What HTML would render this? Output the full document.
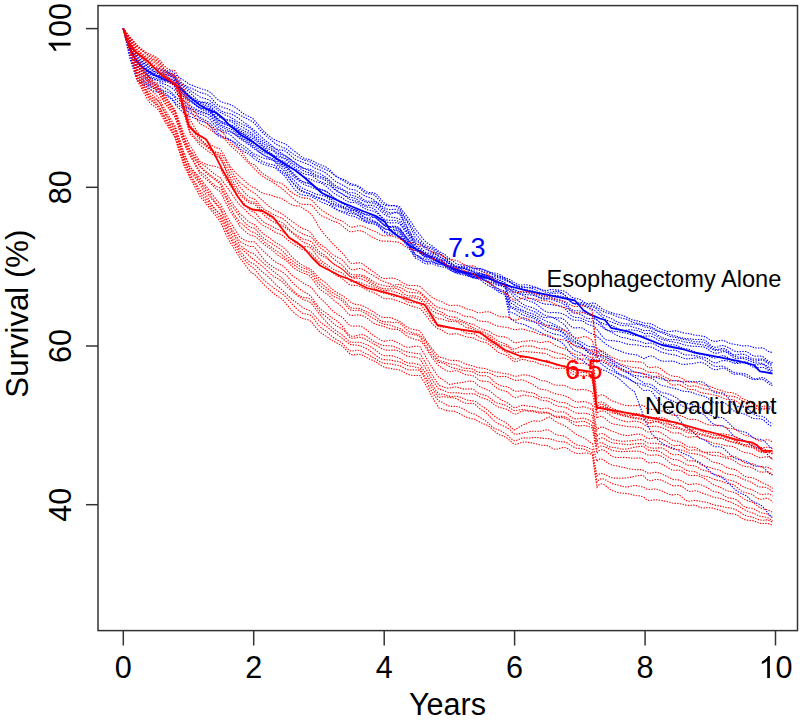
<!DOCTYPE html>
<html><head><meta charset="utf-8"><style>
html,body{margin:0;padding:0;background:#fff;}
svg{display:block;}
text{font-family:"Liberation Sans",sans-serif;font-size:30.6px;fill:#000;}
.d{fill:none;stroke-width:1.1;stroke-dasharray:1.4 1.3;}
.r{stroke:#f00;} .b{stroke:#00f;}
.s{fill:none;stroke-width:1.8;stroke-linejoin:round;}
.ax line{stroke:#333;stroke-width:1.5;}
</style></head><body>
<svg width="800" height="721" viewBox="0 0 800 721">
<rect width="800" height="721" fill="#fff"/>
<g>
<polyline class="d b" points="123.3,28.5 124.0,29.7 126.0,33.3 128.0,36.8 130.0,40.3 132.0,44.5 134.0,48.7 136.0,52.9 137.0,55.0 138.0,55.7 140.0,57.2 142.0,58.9 144.0,60.7 146.0,62.8 148.0,64.8 150.0,66.9 152.0,67.7 154.0,68.1 156.0,68.1 158.0,68.3 160.0,68.8 162.0,69.6 164.0,70.3 166.0,70.7 168.0,70.8 170.0,70.9 172.0,71.4 174.0,72.6 175.0,73.9 176.0,75.2 178.0,76.8 180.0,78.1 182.0,79.3 184.0,80.5 186.0,81.8 188.0,83.2 190.0,84.4 192.0,85.2 194.0,86.0 196.0,86.9 198.0,87.6 200.0,88.3 202.0,89.0 204.0,89.5 206.0,90.1 208.0,91.0 210.0,92.2 212.0,93.9 214.0,95.9 216.0,97.9 218.0,99.7 220.0,101.1 222.0,102.1 224.0,102.9 226.0,103.4 228.0,103.9 230.0,104.5 232.0,105.4 234.0,106.5 236.0,107.9 238.0,109.4 240.0,111.1 242.0,112.7 244.0,113.9 246.0,115.0 248.0,116.0 250.0,117.0 252.0,118.2 253.0,118.8 254.0,119.9 256.0,122.1 258.0,124.4 260.0,126.9 262.0,129.2 264.0,131.3 266.0,133.4 268.0,135.1 270.0,136.6 272.0,138.0 274.0,139.3 275.0,139.9 276.0,140.3 278.0,141.2 280.0,142.1 282.0,142.7 284.0,143.4 286.0,144.4 288.0,145.9 290.0,147.6 292.0,149.4 294.0,150.9 296.0,152.3 298.0,153.8 300.0,155.4 302.0,156.9 304.0,158.2 306.0,159.0 308.0,159.3 310.0,159.7 312.0,160.5 314.0,161.6 316.0,162.8 318.0,163.8 320.0,164.6 322.0,165.4 324.0,166.2 326.0,167.1 328.0,168.5 330.0,170.2 332.0,172.3 334.0,174.4 336.0,176.1 338.0,177.2 340.0,178.1 342.0,178.9 344.0,179.6 346.0,180.7 348.0,182.0 350.0,183.2 352.0,184.0 354.0,184.5 356.0,185.0 358.0,185.9 360.0,187.0 362.0,188.5 364.0,190.2 366.0,191.7 368.0,192.5 370.0,192.6 372.0,192.6 374.0,192.9 376.0,193.9 378.0,195.8 380.0,198.2 382.0,200.6 384.0,202.7 386.0,204.1 388.0,205.0 390.0,205.5 392.0,205.6 394.0,205.5 396.0,205.6 398.0,206.0 400.0,207.0 402.0,209.9 404.0,212.7 406.0,215.2 408.0,217.8 410.0,220.5 412.0,223.4 414.0,226.6 415.0,228.5 416.0,230.0 418.0,232.4 420.0,234.9 422.0,237.5 424.0,240.0 426.0,242.1 428.0,243.6 430.0,244.7 432.0,245.8 434.0,247.4 436.0,249.0 438.0,250.6 440.0,251.9 442.0,253.0 444.0,254.0 446.0,255.4 448.0,257.5 450.0,258.8 452.0,260.4 454.0,262.0 456.0,263.4 458.0,264.2 460.0,264.7 462.0,264.9 464.0,265.1 466.0,265.5 468.0,266.1 470.0,266.8 472.0,267.5 474.0,268.1 476.0,268.4 478.0,268.5 480.0,268.8 482.0,269.3 484.0,270.1 486.0,270.9 488.0,271.6 490.0,272.3 492.0,272.7 494.0,273.0 496.0,273.4 498.0,274.0 500.0,274.8 502.0,276.0 504.0,277.2 505.0,277.8 506.0,278.1 508.0,278.8 510.0,279.7 512.0,280.9 514.0,282.4 516.0,283.6 518.0,284.5 520.0,285.0 522.0,285.0 524.0,284.8 526.0,284.8 528.0,285.1 530.0,285.6 532.0,286.1 534.0,286.7 536.0,287.5 538.0,288.3 540.0,289.1 542.0,289.9 544.0,290.4 546.0,290.5 548.0,290.2 550.0,289.6 552.0,289.5 554.0,289.7 556.0,289.9 558.0,290.1 560.0,290.2 562.0,290.5 564.0,291.1 566.0,292.2 568.0,293.8 570.0,295.7 572.0,297.2 574.0,298.1 576.0,298.5 578.0,298.9 580.0,299.6 582.0,300.8 584.0,302.1 586.0,303.1 588.0,303.5 590.0,303.4 592.0,303.1 594.0,303.1 596.0,303.9 598.0,305.4 600.0,307.0 602.0,308.6 604.0,309.8 606.0,310.7 608.0,311.6 610.0,312.2 612.0,312.8 614.0,313.5 616.0,314.0 618.0,314.4 620.0,314.7 622.0,315.2 624.0,316.0 626.0,316.8 628.0,317.8 630.0,318.9 632.0,319.7 634.0,320.2 636.0,320.5 638.0,321.0 640.0,321.7 642.0,322.4 644.0,323.1 645.0,323.3 646.0,323.2 648.0,323.3 650.0,323.6 652.0,324.3 654.0,325.3 656.0,326.4 658.0,327.5 660.0,328.5 662.0,329.5 664.0,330.3 666.0,331.0 668.0,331.5 670.0,331.5 672.0,331.1 674.0,330.9 676.0,330.9 678.0,331.2 680.0,331.9 682.0,332.5 684.0,333.0 686.0,333.3 688.0,333.5 690.0,333.8 692.0,334.4 694.0,334.9 696.0,335.2 698.0,335.4 700.0,335.8 702.0,336.1 704.0,336.4 706.0,337.2 708.0,338.5 710.0,339.8 712.0,340.8 714.0,341.3 716.0,341.4 718.0,341.0 720.0,340.5 722.0,340.2 724.0,340.7 726.0,341.6 728.0,342.5 730.0,343.3 732.0,343.9 734.0,344.3 736.0,344.5 738.0,344.9 740.0,345.3 742.0,345.9 744.0,346.0 746.0,345.8 748.0,345.8 750.0,346.2 752.0,346.9 754.0,347.5 756.0,347.9 758.0,348.0 760.0,347.9 762.0,347.9 764.0,348.5 766.0,349.8 768.0,351.2 770.0,352.1 772.0,352.4 772.5,352.1"/>
<polyline class="d b" points="123.3,28.5 124.0,29.8 126.0,33.6 128.0,37.3 130.0,41.0 132.0,45.2 134.0,49.5 136.0,53.9 137.0,56.2 138.0,57.3 140.0,59.2 142.0,61.1 144.0,63.0 146.0,64.9 148.0,66.8 150.0,68.5 152.0,69.3 154.0,69.7 156.0,69.8 158.0,69.9 160.0,70.1 162.0,70.6 164.0,71.2 166.0,71.7 168.0,72.3 170.0,73.0 172.0,73.8 174.0,75.1 175.0,76.3 176.0,77.8 178.0,79.8 180.0,81.7 182.0,83.3 184.0,84.6 186.0,85.8 188.0,86.9 190.0,87.8 192.0,88.5 194.0,89.4 196.0,90.5 198.0,91.5 200.0,92.4 202.0,93.0 204.0,93.5 206.0,94.0 208.0,95.0 210.0,96.6 212.0,98.7 214.0,101.2 216.0,103.4 218.0,105.2 220.0,106.4 222.0,107.1 224.0,107.8 226.0,108.3 228.0,109.0 230.0,109.9 232.0,110.9 234.0,111.9 236.0,113.0 238.0,114.0 240.0,115.1 242.0,116.2 244.0,117.2 246.0,118.2 248.0,119.3 250.0,120.3 252.0,121.4 253.0,122.0 254.0,123.0 256.0,125.1 258.0,127.5 260.0,129.9 262.0,132.0 264.0,134.0 266.0,135.9 268.0,137.6 270.0,139.2 272.0,140.8 274.0,142.5 275.0,143.5 276.0,144.1 278.0,145.2 280.0,146.3 282.0,147.1 284.0,147.7 286.0,148.7 288.0,150.1 290.0,151.7 292.0,153.2 294.0,154.6 296.0,155.9 298.0,157.1 300.0,158.1 302.0,159.1 304.0,160.0 306.0,160.6 308.0,161.0 310.0,161.8 312.0,163.0 314.0,164.3 316.0,165.3 318.0,166.2 320.0,167.0 322.0,167.9 324.0,168.8 326.0,169.7 328.0,170.6 330.0,171.8 332.0,173.2 334.0,174.8 336.0,176.3 338.0,177.5 340.0,178.7 342.0,179.9 344.0,181.1 346.0,182.5 348.0,183.9 350.0,184.9 352.0,185.3 354.0,185.4 356.0,185.9 358.0,187.1 360.0,188.6 362.0,190.3 364.0,192.1 366.0,193.4 368.0,193.8 370.0,193.9 372.0,194.1 374.0,195.0 376.0,196.6 378.0,198.8 380.0,201.2 382.0,203.4 384.0,204.9 386.0,205.6 388.0,205.8 390.0,205.8 392.0,205.6 394.0,205.7 396.0,206.3 398.0,207.5 400.0,209.0 402.0,212.4 404.0,215.6 406.0,218.6 408.0,221.4 410.0,224.4 412.0,227.5 414.0,230.8 415.0,232.8 416.0,234.3 418.0,236.6 420.0,239.2 422.0,241.8 424.0,243.9 426.0,245.4 428.0,246.5 430.0,247.1 432.0,247.7 434.0,248.9 436.0,250.4 438.0,252.0 440.0,253.6 442.0,255.0 444.0,256.8 446.0,258.7 448.0,261.0 450.0,262.4 452.0,263.8 454.0,265.0 456.0,265.8 458.0,266.3 460.0,266.5 462.0,266.6 464.0,266.7 466.0,267.0 468.0,267.4 470.0,267.8 472.0,268.1 474.0,268.4 476.0,268.4 478.0,268.4 480.0,268.6 482.0,269.0 484.0,269.7 486.0,270.5 488.0,271.3 490.0,272.4 492.0,273.5 494.0,274.7 496.0,275.7 498.0,276.6 500.0,277.2 502.0,278.0 504.0,278.8 505.0,279.3 506.0,279.8 508.0,280.6 510.0,281.6 512.0,282.8 514.0,284.2 516.0,285.3 518.0,286.2 520.0,286.9 522.0,287.3 524.0,287.5 526.0,287.7 528.0,287.8 530.0,287.7 532.0,287.5 534.0,287.5 536.0,287.8 538.0,288.5 540.0,289.5 542.0,290.6 544.0,291.5 546.0,292.2 548.0,292.4 550.0,292.2 552.0,291.9 554.0,291.6 556.0,291.3 558.0,291.4 560.0,291.9 562.0,292.8 564.0,294.4 566.0,296.5 568.0,298.7 570.0,300.9 572.0,302.6 574.0,303.4 576.0,303.4 578.0,303.0 580.0,302.6 582.0,302.7 584.0,303.3 586.0,304.1 588.0,304.7 590.0,305.2 592.0,305.4 594.0,305.9 596.0,306.8 598.0,308.0 600.0,309.5 602.0,310.8 604.0,311.9 606.0,312.7 608.0,313.3 610.0,313.7 612.0,314.3 614.0,315.2 616.0,316.1 618.0,316.9 620.0,317.5 622.0,318.2 624.0,318.6 626.0,319.1 628.0,319.9 630.0,320.9 632.0,321.9 634.0,322.6 636.0,323.1 638.0,323.6 640.0,324.0 642.0,324.5 644.0,325.2 645.0,325.5 646.0,325.6 648.0,325.9 650.0,326.4 652.0,327.3 654.0,328.5 656.0,329.7 658.0,330.7 660.0,331.4 662.0,331.9 664.0,332.4 666.0,333.0 668.0,333.9 670.0,334.6 672.0,335.2 674.0,335.7 676.0,336.2 678.0,336.8 680.0,337.4 682.0,337.9 684.0,338.4 686.0,338.6 688.0,338.7 690.0,338.8 692.0,339.1 694.0,339.4 696.0,339.5 698.0,339.5 700.0,339.5 702.0,339.5 704.0,339.9 706.0,340.9 708.0,342.7 710.0,344.6 712.0,346.2 714.0,347.2 716.0,347.4 718.0,346.8 720.0,346.0 722.0,345.5 724.0,345.7 726.0,346.5 728.0,347.5 730.0,348.6 732.0,349.8 734.0,350.8 736.0,351.5 738.0,351.7 740.0,351.7 742.0,351.6 744.0,351.4 746.0,351.5 748.0,352.4 750.0,353.8 752.0,355.2 754.0,356.0 756.0,356.2 758.0,356.1 760.0,356.0 762.0,356.3 764.0,357.4 766.0,359.1 768.0,360.9 770.0,362.0 772.0,362.4 772.5,361.9"/>
<polyline class="d b" points="123.3,28.5 124.0,29.9 126.0,34.1 128.0,38.1 130.0,42.0 132.0,46.3 134.0,50.8 136.0,55.4 137.0,57.8 138.0,58.8 140.0,60.6 142.0,62.1 144.0,63.6 146.0,65.3 148.0,67.1 150.0,69.1 152.0,70.3 154.0,71.4 156.0,72.0 158.0,72.2 160.0,72.2 162.0,72.2 164.0,72.4 166.0,72.9 168.0,73.5 170.0,74.2 172.0,75.1 174.0,76.4 175.0,77.7 176.0,79.3 178.0,81.4 180.0,83.1 182.0,84.4 184.0,85.6 186.0,87.1 188.0,88.7 190.0,90.3 192.0,91.7 194.0,93.0 196.0,94.3 198.0,95.6 200.0,96.9 202.0,97.7 204.0,98.2 206.0,98.7 208.0,99.5 210.0,100.7 212.0,102.4 214.0,104.3 216.0,106.3 218.0,108.3 220.0,109.9 222.0,111.2 224.0,112.2 226.0,112.9 228.0,113.3 230.0,113.8 232.0,114.4 234.0,115.4 236.0,116.5 238.0,117.9 240.0,119.4 242.0,120.9 244.0,122.4 246.0,123.8 248.0,125.3 250.0,126.9 252.0,128.5 253.0,129.3 254.0,130.2 256.0,131.8 258.0,133.6 260.0,135.6 262.0,137.5 264.0,139.3 266.0,141.0 268.0,142.5 270.0,144.0 272.0,145.6 274.0,147.4 275.0,148.4 276.0,148.9 278.0,149.5 280.0,149.9 282.0,150.1 284.0,150.5 286.0,151.5 288.0,153.1 290.0,154.9 292.0,156.7 294.0,158.4 296.0,159.7 298.0,160.6 300.0,161.3 302.0,162.1 304.0,162.9 306.0,163.6 308.0,164.3 310.0,165.2 312.0,166.4 314.0,167.6 316.0,168.6 318.0,169.3 320.0,170.0 322.0,170.8 324.0,171.9 326.0,173.2 328.0,174.8 330.0,176.5 332.0,178.4 334.0,180.2 336.0,181.7 338.0,182.8 340.0,183.8 342.0,184.8 344.0,185.9 346.0,187.1 348.0,188.3 350.0,189.2 352.0,189.5 354.0,189.7 356.0,190.3 358.0,191.4 360.0,192.8 362.0,194.1 364.0,195.3 366.0,196.4 368.0,197.1 370.0,197.8 372.0,198.8 374.0,200.0 376.0,201.4 378.0,202.9 380.0,204.6 382.0,206.3 384.0,207.7 386.0,208.7 388.0,209.4 390.0,209.6 392.0,209.5 394.0,209.3 396.0,209.4 398.0,209.9 400.0,210.9 402.0,214.2 404.0,217.4 406.0,220.3 408.0,223.3 410.0,226.7 412.0,230.5 414.0,234.5 415.0,237.0 416.0,238.5 418.0,240.4 420.0,242.3 422.0,244.3 424.0,246.0 426.0,247.3 428.0,248.1 430.0,248.6 432.0,249.3 434.0,250.8 436.0,252.4 438.0,253.8 440.0,254.7 442.0,255.5 444.0,256.5 446.0,258.1 448.0,260.3 450.0,261.8 452.0,263.6 454.0,265.3 456.0,266.6 458.0,267.4 460.0,267.8 462.0,268.1 464.0,268.4 466.0,269.0 468.0,269.7 470.0,270.1 472.0,270.2 474.0,270.0 476.0,269.7 478.0,269.7 480.0,270.2 482.0,271.1 484.0,271.9 486.0,272.5 488.0,272.9 490.0,273.4 492.0,274.0 494.0,274.7 496.0,275.3 498.0,275.8 500.0,276.3 502.0,277.1 504.0,278.0 505.0,278.7 506.0,279.3 508.0,280.6 510.0,282.0 512.0,283.5 514.0,284.9 516.0,285.8 518.0,286.3 520.0,286.6 522.0,286.7 524.0,286.9 526.0,287.2 528.0,287.6 530.0,288.0 532.0,288.4 534.0,289.0 536.0,290.0 538.0,291.3 540.0,292.6 542.0,293.6 544.0,294.2 546.0,294.4 548.0,294.2 550.0,293.7 552.0,293.4 554.0,293.2 556.0,293.1 558.0,293.0 560.0,293.1 562.0,293.6 564.0,294.5 566.0,296.0 568.0,298.2 570.0,300.7 572.0,302.7 574.0,303.8 576.0,304.1 578.0,304.0 580.0,303.9 582.0,304.1 584.0,304.8 586.0,305.8 588.0,306.4 590.0,306.6 592.0,306.8 594.0,307.3 596.0,308.5 598.0,310.2 600.0,312.2 602.0,314.1 604.0,315.4 606.0,316.4 608.0,317.2 610.0,318.0 612.0,318.9 614.0,320.1 616.0,321.2 618.0,322.1 620.0,322.8 622.0,323.3 624.0,323.7 626.0,323.9 628.0,324.0 630.0,324.0 632.0,324.2 634.0,324.2 636.0,324.2 638.0,324.4 640.0,324.9 642.0,325.6 644.0,326.5 645.0,327.1 646.0,327.3 648.0,327.7 650.0,328.1 652.0,328.6 654.0,329.5 656.0,330.5 658.0,331.3 660.0,332.1 662.0,332.8 664.0,333.7 666.0,334.7 668.0,335.6 670.0,336.4 672.0,336.8 674.0,337.1 676.0,337.5 678.0,337.9 680.0,338.4 682.0,339.0 684.0,339.5 686.0,339.8 688.0,340.0 690.0,340.5 692.0,341.0 694.0,341.6 696.0,341.8 698.0,341.8 700.0,341.9 702.0,342.0 704.0,342.4 706.0,343.3 708.0,344.8 710.0,346.5 712.0,348.0 714.0,349.0 716.0,349.5 718.0,349.5 720.0,348.9 722.0,348.4 724.0,348.6 726.0,349.6 728.0,350.9 730.0,352.5 732.0,354.1 734.0,355.0 736.0,355.0 738.0,354.5 740.0,354.1 742.0,354.1 744.0,354.4 746.0,355.1 748.0,356.2 750.0,357.6 752.0,358.5 754.0,359.1 756.0,359.2 758.0,359.1 760.0,358.9 762.0,359.0 764.0,359.7 766.0,361.0 768.0,362.4 770.0,363.4 772.0,364.0 772.5,363.8"/>
<polyline class="d b" points="123.3,28.5 124.0,30.0 126.0,34.4 128.0,38.7 130.0,43.0 132.0,47.6 134.0,52.2 136.0,56.9 137.0,59.2 138.0,60.1 140.0,61.7 142.0,63.5 144.0,65.4 146.0,67.5 148.0,69.5 150.0,71.2 152.0,71.7 154.0,71.9 156.0,72.1 158.0,72.4 160.0,73.0 162.0,73.5 164.0,74.1 166.0,74.6 168.0,75.0 170.0,75.6 172.0,76.6 174.0,77.9 175.0,79.0 176.0,80.4 178.0,82.4 180.0,84.2 182.0,85.8 184.0,87.4 186.0,89.1 188.0,91.0 190.0,92.8 192.0,94.6 194.0,96.5 196.0,98.5 198.0,100.3 200.0,101.6 202.0,102.1 204.0,102.2 206.0,102.3 208.0,102.7 210.0,103.6 212.0,105.1 214.0,106.9 216.0,108.7 218.0,110.4 220.0,112.0 222.0,113.3 224.0,114.4 226.0,115.3 228.0,116.2 230.0,117.1 232.0,118.2 234.0,119.3 236.0,120.5 238.0,121.8 240.0,123.0 242.0,124.1 244.0,125.1 246.0,126.0 248.0,127.1 250.0,128.4 252.0,129.9 253.0,131.0 254.0,132.4 256.0,134.5 258.0,136.6 260.0,138.6 262.0,140.3 264.0,142.0 266.0,143.5 268.0,144.8 270.0,145.9 272.0,146.9 274.0,148.1 275.0,148.7 276.0,149.3 278.0,150.7 280.0,152.2 282.0,153.6 284.0,154.8 286.0,156.2 288.0,157.7 290.0,159.0 292.0,160.4 294.0,161.8 296.0,163.2 298.0,164.8 300.0,166.3 302.0,167.6 304.0,168.4 306.0,168.8 308.0,169.0 310.0,169.4 312.0,170.2 314.0,171.3 316.0,172.2 318.0,173.0 320.0,173.8 322.0,174.9 324.0,176.1 326.0,177.5 328.0,178.9 330.0,180.7 332.0,182.6 334.0,184.5 336.0,185.9 338.0,187.0 340.0,187.9 342.0,188.9 344.0,190.0 346.0,191.2 348.0,192.2 350.0,192.8 352.0,192.8 354.0,192.8 356.0,193.5 358.0,194.9 360.0,196.6 362.0,198.2 364.0,199.7 366.0,200.8 368.0,201.2 370.0,201.2 372.0,201.3 374.0,201.6 376.0,202.5 378.0,203.8 380.0,205.7 382.0,207.7 384.0,209.6 386.0,211.2 388.0,212.3 390.0,212.9 392.0,212.8 394.0,212.3 396.0,212.1 398.0,212.3 400.0,213.3 402.0,217.0 404.0,220.7 406.0,224.4 408.0,228.0 410.0,231.7 412.0,235.5 414.0,239.0 415.0,240.6 416.0,241.0 418.0,241.9 420.0,243.4 422.0,245.5 424.0,247.6 426.0,249.4 428.0,250.6 430.0,251.1 432.0,251.6 434.0,252.8 436.0,254.1 438.0,255.6 440.0,256.9 442.0,258.0 444.0,259.2 446.0,260.7 448.0,262.7 450.0,263.9 452.0,265.3 454.0,266.4 456.0,267.0 458.0,267.3 460.0,267.2 462.0,267.0 464.0,267.2 466.0,267.7 468.0,268.7 470.0,269.7 472.0,270.8 474.0,271.6 476.0,272.0 478.0,272.3 480.0,272.8 482.0,273.4 484.0,274.2 486.0,274.9 488.0,275.5 490.0,276.0 492.0,276.3 494.0,276.6 496.0,277.0 498.0,277.5 500.0,278.0 502.0,279.0 504.0,280.0 505.0,280.5 506.0,280.8 508.0,281.6 510.0,282.5 512.0,283.6 514.0,284.9 516.0,285.9 518.0,287.1 520.0,288.1 522.0,288.8 524.0,289.3 526.0,289.7 528.0,290.0 530.0,290.3 532.0,290.7 534.0,291.3 536.0,292.3 538.0,293.5 540.0,294.9 542.0,295.9 544.0,296.6 546.0,296.9 548.0,296.6 550.0,296.0 552.0,295.6 554.0,295.5 556.0,295.5 558.0,295.7 560.0,296.0 562.0,296.4 564.0,297.2 566.0,298.3 568.0,299.8 570.0,301.4 572.0,302.8 574.0,303.5 576.0,303.8 578.0,303.9 580.0,304.2 582.0,305.0 584.0,305.9 586.0,306.9 588.0,307.7 590.0,308.3 592.0,309.1 594.0,310.2 596.0,311.5 598.0,313.2 600.0,315.0 602.0,316.7 604.0,318.3 606.0,319.8 608.0,320.8 610.0,321.5 612.0,322.2 614.0,322.9 616.0,323.7 618.0,324.4 620.0,325.0 622.0,325.5 624.0,325.7 626.0,325.7 628.0,325.8 630.0,326.1 632.0,326.7 634.0,327.3 636.0,327.9 638.0,328.6 640.0,329.3 642.0,329.9 644.0,330.6 645.0,330.8 646.0,330.5 648.0,330.5 650.0,330.6 652.0,331.2 654.0,332.3 656.0,333.7 658.0,335.2 660.0,336.5 662.0,337.5 664.0,338.2 666.0,338.9 668.0,339.4 670.0,339.7 672.0,339.7 674.0,339.6 676.0,339.7 678.0,340.1 680.0,340.6 682.0,341.2 684.0,341.8 686.0,342.2 688.0,342.5 690.0,342.8 692.0,343.2 694.0,343.5 696.0,343.9 698.0,344.1 700.0,344.4 702.0,344.7 704.0,345.0 706.0,345.7 708.0,346.8 710.0,348.0 712.0,349.1 714.0,350.0 716.0,350.4 718.0,350.3 720.0,350.0 722.0,349.9 724.0,350.3 726.0,351.0 728.0,351.9 730.0,353.2 732.0,354.6 734.0,355.7 736.0,356.5 738.0,357.0 740.0,357.1 742.0,357.2 744.0,357.3 746.0,357.5 748.0,358.2 750.0,359.2 752.0,360.2 754.0,360.9 756.0,361.0 758.0,360.6 760.0,360.2 762.0,360.0 764.0,360.7 766.0,362.1 768.0,363.8 770.0,365.0 772.0,365.5 772.5,365.2"/>
<polyline class="d b" points="123.3,28.5 124.0,30.1 126.0,34.8 128.0,39.3 130.0,43.8 132.0,48.3 134.0,52.7 136.0,57.3 137.0,59.8 138.0,60.8 140.0,62.7 142.0,64.7 144.0,66.7 146.0,68.8 148.0,70.7 150.0,72.5 152.0,73.2 154.0,73.5 156.0,73.5 158.0,73.5 160.0,73.7 162.0,73.9 164.0,74.4 166.0,75.1 168.0,75.8 170.0,76.5 172.0,77.4 174.0,78.6 175.0,79.7 176.0,81.3 178.0,83.8 180.0,86.1 182.0,88.2 184.0,90.2 186.0,92.2 188.0,94.2 190.0,95.9 192.0,97.5 194.0,99.0 196.0,100.4 198.0,101.4 200.0,102.3 202.0,102.5 204.0,102.8 206.0,103.2 208.0,104.1 210.0,105.6 212.0,107.7 214.0,110.0 216.0,112.2 218.0,114.4 220.0,116.3 222.0,117.7 224.0,118.9 226.0,119.5 228.0,119.8 230.0,120.0 232.0,120.5 234.0,121.4 236.0,122.7 238.0,124.1 240.0,125.5 242.0,126.8 244.0,128.0 246.0,129.2 248.0,130.5 250.0,132.0 252.0,133.6 253.0,134.6 254.0,135.7 256.0,137.5 258.0,139.3 260.0,141.0 262.0,142.7 264.0,144.2 266.0,145.5 268.0,146.7 270.0,147.8 272.0,149.0 274.0,150.4 275.0,151.3 276.0,152.0 278.0,153.1 280.0,154.0 282.0,154.7 284.0,155.3 286.0,156.3 288.0,157.7 290.0,159.3 292.0,160.9 294.0,162.3 296.0,163.8 298.0,165.1 300.0,166.3 302.0,167.3 304.0,168.4 306.0,169.3 308.0,170.1 310.0,171.1 312.0,172.5 314.0,173.9 316.0,175.1 318.0,175.8 320.0,176.4 322.0,177.1 324.0,177.9 326.0,178.9 328.0,180.4 330.0,182.3 332.0,184.3 334.0,186.1 336.0,187.5 338.0,188.4 340.0,189.2 342.0,190.0 344.0,191.0 346.0,192.4 348.0,193.8 350.0,194.9 352.0,195.4 354.0,195.8 356.0,196.4 358.0,197.5 360.0,198.8 362.0,200.2 364.0,201.4 366.0,202.3 368.0,202.6 370.0,202.7 372.0,202.9 374.0,203.3 376.0,204.2 378.0,205.7 380.0,207.6 382.0,209.7 384.0,211.8 386.0,213.4 388.0,214.3 390.0,214.3 392.0,213.6 394.0,212.9 396.0,212.6 398.0,213.1 400.0,214.6 402.0,218.7 404.0,222.6 406.0,226.3 408.0,229.9 410.0,233.5 412.0,237.0 414.0,240.5 415.0,242.4 416.0,243.2 418.0,244.6 420.0,246.6 422.0,248.9 424.0,251.1 426.0,252.5 428.0,253.1 430.0,253.0 432.0,252.9 434.0,253.7 436.0,254.7 438.0,256.0 440.0,257.1 442.0,258.1 444.0,259.3 446.0,260.8 448.0,262.6 450.0,263.7 452.0,264.9 454.0,266.0 456.0,266.9 458.0,267.4 460.0,267.6 462.0,267.9 464.0,268.3 466.0,268.9 468.0,269.8 470.0,270.7 472.0,271.6 474.0,272.4 476.0,272.9 478.0,273.4 480.0,273.9 482.0,274.4 484.0,274.8 486.0,275.2 488.0,275.6 490.0,276.3 492.0,277.1 494.0,277.9 496.0,278.6 498.0,279.4 500.0,280.0 502.0,281.1 504.0,282.3 505.0,283.0 506.0,283.8 508.0,285.0 510.0,286.2 512.0,287.8 514.0,289.5 516.0,290.3 518.0,291.2 520.0,291.9 522.0,292.3 524.0,292.5 526.0,292.6 528.0,292.8 530.0,293.1 532.0,293.6 534.0,294.5 536.0,295.7 538.0,297.0 540.0,298.2 542.0,299.0 544.0,299.2 546.0,298.9 548.0,298.4 550.0,297.8 552.0,297.9 554.0,298.3 556.0,298.9 558.0,299.5 560.0,300.1 562.0,300.7 564.0,301.9 566.0,303.7 568.0,305.8 570.0,308.1 572.0,309.8 574.0,310.7 576.0,310.8 578.0,310.7 580.0,311.0 582.0,311.7 584.0,312.8 586.0,313.7 588.0,314.5 590.0,315.1 592.0,316.0 594.0,317.3 596.0,318.9 598.0,320.6 600.0,322.0 602.0,323.0 604.0,323.9 606.0,324.7 608.0,324.9 610.0,325.1 612.0,325.6 614.0,326.5 616.0,327.8 618.0,329.1 620.0,330.1 622.0,330.7 624.0,330.7 626.0,330.3 628.0,329.9 630.0,329.8 632.0,330.0 634.0,330.2 636.0,330.3 638.0,330.8 640.0,331.5 642.0,332.3 644.0,333.2 645.0,333.7 646.0,333.6 648.0,333.4 650.0,333.3 652.0,333.7 654.0,334.6 656.0,335.9 658.0,337.3 660.0,338.6 662.0,339.4 664.0,339.9 666.0,340.4 668.0,340.9 670.0,341.4 672.0,341.7 674.0,342.1 676.0,342.5 678.0,342.9 680.0,343.5 682.0,344.1 684.0,344.8 686.0,345.3 688.0,345.7 690.0,345.9 692.0,346.2 694.0,346.3 696.0,346.4 698.0,346.5 700.0,346.7 702.0,346.8 704.0,347.1 706.0,347.9 708.0,349.3 710.0,350.8 712.0,352.1 714.0,352.9 716.0,353.2 718.0,353.0 720.0,352.3 722.0,351.7 724.0,351.6 726.0,352.2 728.0,353.3 730.0,354.8 732.0,356.5 734.0,357.8 736.0,358.5 738.0,358.6 740.0,358.5 742.0,358.5 744.0,358.8 746.0,359.2 748.0,360.0 750.0,361.1 752.0,362.0 754.0,362.6 756.0,362.9 758.0,363.0 760.0,363.1 762.0,363.4 764.0,364.1 766.0,365.4 768.0,366.7 770.0,367.6 772.0,367.9 772.5,367.6"/>
<polyline class="d b" points="123.3,28.5 124.0,30.3 126.0,35.2 128.0,40.1 130.0,44.9 132.0,49.4 134.0,53.9 136.0,58.5 137.0,61.1 138.0,62.3 140.0,64.4 142.0,66.4 144.0,68.4 146.0,70.2 148.0,71.8 150.0,73.4 152.0,74.2 154.0,74.7 156.0,75.0 158.0,75.2 160.0,75.4 162.0,75.7 164.0,76.1 166.0,76.7 168.0,77.6 170.0,78.5 172.0,79.4 174.0,80.4 175.0,80.9 176.0,81.8 178.0,83.7 180.0,85.9 182.0,88.3 184.0,90.7 186.0,93.2 188.0,95.4 190.0,97.0 192.0,98.3 194.0,99.5 196.0,100.7 198.0,102.0 200.0,103.1 202.0,103.9 204.0,104.5 206.0,105.2 208.0,106.1 210.0,107.5 212.0,109.4 214.0,111.6 216.0,113.8 218.0,115.8 220.0,117.5 222.0,118.6 224.0,119.4 226.0,119.9 228.0,120.3 230.0,121.0 232.0,122.0 234.0,123.5 236.0,125.2 238.0,127.0 240.0,128.5 242.0,129.8 244.0,130.9 246.0,131.9 248.0,133.0 250.0,134.2 252.0,135.7 253.0,136.6 254.0,137.5 256.0,139.3 258.0,141.2 260.0,143.2 262.0,144.9 264.0,146.4 266.0,147.7 268.0,148.8 270.0,149.6 272.0,150.4 274.0,151.5 275.0,152.4 276.0,153.4 278.0,154.8 280.0,156.1 282.0,156.9 284.0,157.4 286.0,158.4 288.0,159.8 290.0,161.4 292.0,163.0 294.0,164.5 296.0,165.9 298.0,167.3 300.0,168.6 302.0,169.9 304.0,171.1 306.0,171.9 308.0,172.4 310.0,173.1 312.0,174.1 314.0,175.4 316.0,176.4 318.0,177.1 320.0,177.9 322.0,178.7 324.0,179.6 326.0,180.8 328.0,182.4 330.0,184.2 332.0,186.3 334.0,188.2 336.0,189.9 338.0,191.2 340.0,192.4 342.0,193.6 344.0,194.9 346.0,196.0 348.0,196.9 350.0,197.5 352.0,197.6 354.0,197.9 356.0,198.7 358.0,200.2 360.0,201.9 362.0,203.4 364.0,204.6 366.0,205.3 368.0,205.4 370.0,205.3 372.0,205.4 374.0,205.9 376.0,207.0 378.0,208.6 380.0,210.4 382.0,212.4 384.0,214.2 386.0,215.5 388.0,216.5 390.0,217.0 392.0,217.3 394.0,217.5 396.0,217.8 398.0,218.5 400.0,219.5 402.0,222.7 404.0,225.8 406.0,228.9 408.0,232.1 410.0,235.7 412.0,239.3 414.0,242.9 415.0,244.9 416.0,245.9 418.0,247.4 420.0,249.1 422.0,251.0 424.0,252.6 426.0,253.6 428.0,254.0 430.0,254.0 432.0,254.1 434.0,255.3 436.0,256.7 438.0,258.1 440.0,259.3 442.0,260.5 444.0,261.9 446.0,263.6 448.0,265.5 450.0,266.6 452.0,267.8 454.0,268.8 456.0,269.6 458.0,270.3 460.0,270.8 462.0,271.2 464.0,271.5 466.0,272.0 468.0,272.7 470.0,273.5 472.0,274.3 474.0,274.8 476.0,275.0 478.0,274.9 480.0,274.9 482.0,275.2 484.0,275.8 486.0,276.6 488.0,277.4 490.0,278.3 492.0,279.0 494.0,279.6 496.0,280.0 498.0,280.4 500.0,280.7 502.0,281.6 504.0,282.6 505.0,283.3 506.0,284.2 508.0,285.5 510.0,286.9 512.0,288.4 514.0,290.2 516.0,291.4 518.0,292.6 520.0,293.5 522.0,294.1 524.0,294.4 526.0,294.5 528.0,294.7 530.0,294.9 532.0,295.1 534.0,295.4 536.0,295.9 538.0,296.7 540.0,297.4 542.0,297.9 544.0,298.3 546.0,298.6 548.0,298.8 550.0,299.0 552.0,299.7 554.0,300.5 556.0,301.2 558.0,301.7 560.0,302.3 562.0,303.1 564.0,304.4 566.0,306.1 568.0,308.1 570.0,310.3 572.0,312.1 574.0,313.1 576.0,313.5 578.0,313.8 580.0,314.3 582.0,315.3 584.0,316.8 586.0,317.9 588.0,318.6 590.0,318.6 592.0,318.5 594.0,318.7 596.0,319.5 598.0,320.9 600.0,322.9 602.0,325.2 604.0,327.3 606.0,329.2 608.0,330.3 610.0,330.8 612.0,331.0 614.0,331.3 616.0,331.5 618.0,331.7 620.0,332.0 622.0,332.4 624.0,332.7 626.0,333.0 628.0,333.6 630.0,334.3 632.0,335.1 634.0,335.5 636.0,335.6 638.0,335.7 640.0,335.8 642.0,335.9 644.0,336.3 645.0,336.3 646.0,336.1 648.0,336.0 650.0,336.0 652.0,336.5 654.0,337.5 656.0,338.7 658.0,340.0 660.0,341.3 662.0,342.4 664.0,343.4 666.0,344.2 668.0,344.7 670.0,344.9 672.0,344.7 674.0,344.8 676.0,345.2 678.0,346.1 680.0,347.1 682.0,347.9 684.0,348.4 686.0,348.8 688.0,349.1 690.0,349.7 692.0,350.7 694.0,351.6 696.0,352.5 698.0,353.2 700.0,353.9 702.0,354.3 704.0,354.6 706.0,355.1 708.0,355.9 710.0,356.8 712.0,357.6 714.0,358.0 716.0,357.9 718.0,357.2 720.0,356.3 722.0,355.7 724.0,355.7 726.0,356.5 728.0,357.7 730.0,359.2 732.0,360.7 734.0,361.8 736.0,362.4 738.0,362.4 740.0,362.0 742.0,361.7 744.0,361.7 746.0,361.9 748.0,362.5 750.0,363.6 752.0,364.5 754.0,364.9 756.0,364.9 758.0,364.6 760.0,364.2 762.0,364.2 764.0,364.9 766.0,366.5 768.0,368.4 770.0,369.8 772.0,370.4 772.5,370.0"/>
<polyline class="d b" points="123.3,28.5 124.0,30.3 126.0,35.6 128.0,40.7 130.0,45.9 132.0,50.3 134.0,54.8 136.0,59.2 137.0,61.5 138.0,62.5 140.0,64.5 142.0,66.5 144.0,68.6 146.0,70.7 148.0,72.6 150.0,74.5 152.0,75.3 154.0,75.7 156.0,75.8 158.0,75.8 160.0,76.0 162.0,76.6 164.0,77.5 166.0,78.3 168.0,78.9 170.0,79.3 172.0,79.9 174.0,80.9 175.0,82.1 176.0,83.8 178.0,86.4 180.0,88.8 182.0,90.9 184.0,92.8 186.0,94.7 188.0,96.6 190.0,98.3 192.0,99.8 194.0,101.1 196.0,102.5 198.0,103.7 200.0,104.8 202.0,105.5 204.0,106.1 206.0,106.6 208.0,107.6 210.0,109.2 212.0,111.5 214.0,114.2 216.0,116.7 218.0,118.9 220.0,120.6 222.0,121.8 224.0,122.7 226.0,123.3 228.0,123.8 230.0,124.5 232.0,125.2 234.0,126.2 236.0,127.6 238.0,129.0 240.0,130.5 242.0,131.8 244.0,133.0 246.0,134.1 248.0,135.4 250.0,136.7 252.0,138.1 253.0,138.8 254.0,139.5 256.0,141.0 258.0,142.6 260.0,144.3 262.0,146.0 264.0,147.7 266.0,149.5 268.0,151.0 270.0,152.5 272.0,153.9 274.0,155.2 275.0,155.7 276.0,156.0 278.0,156.8 280.0,157.4 282.0,157.9 284.0,158.6 286.0,159.8 288.0,161.6 290.0,163.4 292.0,165.3 294.0,167.0 296.0,168.6 298.0,170.0 300.0,171.3 302.0,172.7 304.0,173.8 306.0,174.4 308.0,174.6 310.0,175.0 312.0,175.9 314.0,177.2 316.0,178.7 318.0,180.1 320.0,181.3 322.0,182.3 324.0,183.1 326.0,183.8 328.0,184.7 330.0,185.9 332.0,187.4 334.0,189.1 336.0,190.6 338.0,191.8 340.0,193.0 342.0,194.1 344.0,195.3 346.0,196.7 348.0,198.2 350.0,199.4 352.0,200.1 354.0,200.5 356.0,201.1 358.0,202.1 360.0,203.4 362.0,204.6 364.0,205.8 366.0,206.7 368.0,207.2 370.0,207.5 372.0,208.0 374.0,209.0 376.0,210.6 378.0,212.7 380.0,215.1 382.0,217.3 384.0,218.9 386.0,219.8 388.0,220.3 390.0,220.3 392.0,220.2 394.0,220.2 396.0,220.5 398.0,221.2 400.0,222.3 402.0,225.3 404.0,228.1 406.0,230.6 408.0,233.0 410.0,235.6 412.0,238.7 414.0,242.1 415.0,244.3 416.0,245.9 418.0,247.9 420.0,250.1 422.0,252.1 424.0,253.7 426.0,254.7 428.0,255.2 430.0,255.3 432.0,255.6 434.0,256.9 436.0,258.2 438.0,259.4 440.0,260.4 442.0,261.2 444.0,262.4 446.0,264.0 448.0,265.9 450.0,267.1 452.0,268.4 454.0,269.6 456.0,270.4 458.0,271.1 460.0,271.6 462.0,272.0 464.0,272.4 466.0,272.9 468.0,273.4 470.0,273.8 472.0,274.3 474.0,274.7 476.0,275.2 478.0,275.8 480.0,276.5 482.0,277.2 484.0,277.7 486.0,278.0 488.0,278.3 490.0,279.0 492.0,279.9 494.0,280.9 496.0,281.7 498.0,282.2 500.0,282.6 502.0,283.5 504.0,284.7 505.0,285.6 506.0,286.7 508.0,288.1 510.0,289.4 512.0,290.6 514.0,291.9 516.0,292.6 518.0,293.5 520.0,294.3 522.0,295.0 524.0,295.7 526.0,296.5 528.0,297.5 530.0,298.3 532.0,299.0 534.0,299.7 536.0,300.6 538.0,301.5 540.0,302.5 542.0,303.3 544.0,303.8 546.0,304.2 548.0,304.4 550.0,304.4 552.0,304.7 554.0,305.1 556.0,305.4 558.0,305.5 560.0,305.8 562.0,306.4 564.0,307.8 566.0,309.7 568.0,312.1 570.0,314.4 572.0,316.2 574.0,317.1 576.0,317.4 578.0,317.5 580.0,317.8 582.0,318.5 584.0,319.5 586.0,320.4 588.0,321.2 590.0,321.6 592.0,322.0 594.0,322.4 596.0,323.1 598.0,324.2 600.0,325.6 602.0,327.1 604.0,328.6 606.0,329.9 608.0,330.8 610.0,331.5 612.0,332.4 614.0,333.6 616.0,334.9 618.0,335.9 620.0,336.8 622.0,337.4 624.0,337.7 626.0,338.0 628.0,338.5 630.0,339.2 632.0,339.8 634.0,340.2 636.0,340.5 638.0,341.0 640.0,341.6 642.0,342.2 644.0,343.1 645.0,343.5 646.0,343.4 648.0,343.2 650.0,343.0 652.0,343.3 654.0,344.0 656.0,345.0 658.0,346.2 660.0,347.4 662.0,348.4 664.0,349.1 666.0,349.8 668.0,350.3 670.0,350.4 672.0,350.2 674.0,350.1 676.0,350.5 678.0,351.3 680.0,352.4 682.0,353.6 684.0,354.5 686.0,355.0 688.0,355.0 690.0,355.0 692.0,355.2 694.0,355.5 696.0,355.8 698.0,356.2 700.0,356.7 702.0,357.0 704.0,357.3 706.0,357.8 708.0,358.9 710.0,360.4 712.0,361.7 714.0,362.6 716.0,362.9 718.0,362.5 720.0,361.5 722.0,360.7 724.0,360.5 726.0,360.7 728.0,361.0 730.0,361.6 732.0,362.6 734.0,363.3 736.0,363.5 738.0,363.4 740.0,363.1 742.0,362.8 744.0,362.9 746.0,363.2 748.0,364.1 750.0,365.4 752.0,366.7 754.0,367.5 756.0,367.8 758.0,367.7 760.0,367.5 762.0,367.3 764.0,367.7 766.0,368.7 768.0,370.1 770.0,371.0 772.0,371.3 772.5,371.0"/>
<polyline class="d b" points="123.3,28.5 124.0,30.5 126.0,36.1 128.0,41.7 130.0,47.1 132.0,51.8 134.0,56.6 136.0,61.5 137.0,64.0 138.0,65.0 140.0,66.9 142.0,68.8 144.0,70.7 146.0,72.7 148.0,74.6 150.0,76.4 152.0,77.3 154.0,77.8 156.0,78.2 158.0,78.7 160.0,79.3 162.0,79.8 164.0,80.2 166.0,80.6 168.0,81.0 170.0,81.5 172.0,82.3 174.0,83.6 175.0,84.8 176.0,86.3 178.0,88.7 180.0,90.9 182.0,93.0 184.0,95.0 186.0,96.8 188.0,98.6 190.0,100.2 192.0,101.8 194.0,103.5 196.0,105.2 198.0,106.6 200.0,107.7 202.0,108.1 204.0,108.3 206.0,108.6 208.0,109.4 210.0,111.0 212.0,113.1 214.0,115.3 216.0,117.4 218.0,119.3 220.0,120.9 222.0,122.0 224.0,123.0 226.0,123.8 228.0,124.6 230.0,125.3 232.0,126.2 234.0,127.4 236.0,128.9 238.0,130.4 240.0,131.9 242.0,133.3 244.0,134.6 246.0,135.7 248.0,137.1 250.0,138.5 252.0,140.1 253.0,141.1 254.0,142.2 256.0,144.0 258.0,145.9 260.0,147.7 262.0,149.4 264.0,150.9 266.0,152.1 268.0,153.1 270.0,153.9 272.0,154.8 274.0,156.0 275.0,156.7 276.0,157.6 278.0,159.0 280.0,160.2 282.0,160.8 284.0,161.4 286.0,162.5 288.0,164.1 290.0,166.0 292.0,168.1 294.0,169.9 296.0,171.5 298.0,172.9 300.0,174.3 302.0,175.5 304.0,176.8 306.0,177.7 308.0,178.3 310.0,179.0 312.0,179.9 314.0,180.9 316.0,181.7 318.0,182.2 320.0,182.8 322.0,183.6 324.0,184.7 326.0,186.1 328.0,187.8 330.0,189.7 332.0,191.6 334.0,193.3 336.0,194.6 338.0,195.6 340.0,196.6 342.0,197.8 344.0,199.2 346.0,200.6 348.0,201.8 350.0,202.4 352.0,202.5 354.0,202.4 356.0,202.8 358.0,203.9 360.0,205.3 362.0,206.7 364.0,208.0 366.0,209.2 368.0,209.9 370.0,210.3 372.0,210.7 374.0,211.3 376.0,212.3 378.0,213.8 380.0,215.8 382.0,218.1 384.0,220.1 386.0,221.5 388.0,222.4 390.0,222.9 392.0,222.9 394.0,222.7 396.0,222.7 398.0,223.1 400.0,224.0 402.0,226.8 404.0,229.7 406.0,232.6 408.0,235.5 410.0,238.6 412.0,241.8 414.0,245.1 415.0,247.0 416.0,248.1 418.0,249.6 420.0,251.4 422.0,253.2 424.0,254.9 426.0,256.2 428.0,257.1 430.0,257.7 432.0,258.4 434.0,259.7 436.0,261.1 438.0,262.1 440.0,262.7 442.0,263.2 444.0,263.9 446.0,265.1 448.0,266.9 450.0,268.5 452.0,270.1 454.0,271.2 456.0,271.9 458.0,272.3 460.0,272.5 462.0,272.5 464.0,272.6 466.0,273.0 468.0,273.5 470.0,274.2 472.0,275.0 474.0,275.9 476.0,276.7 478.0,277.4 480.0,277.9 482.0,278.3 484.0,278.4 486.0,278.2 488.0,278.1 490.0,278.4 492.0,279.2 494.0,280.4 496.0,281.6 498.0,282.7 500.0,283.6 502.0,284.5 504.0,285.3 505.0,285.7 506.0,286.6 508.0,288.2 510.0,290.0 512.0,291.9 514.0,294.0 516.0,295.5 518.0,296.8 520.0,297.8 522.0,298.6 524.0,299.2 526.0,299.9 528.0,300.6 530.0,301.2 532.0,301.8 534.0,302.7 536.0,304.0 538.0,305.7 540.0,307.4 542.0,309.2 544.0,310.6 546.0,311.6 548.0,312.3 550.0,312.7 552.0,312.6 554.0,312.5 556.0,312.6 558.0,312.8 560.0,313.1 562.0,313.6 564.0,314.5 566.0,315.6 568.0,317.0 570.0,318.5 572.0,319.6 574.0,320.2 576.0,320.3 578.0,320.2 580.0,320.4 582.0,321.0 584.0,321.8 586.0,323.2 588.0,324.2 590.0,325.0 592.0,325.6 594.0,326.6 596.0,328.3 598.0,330.7 600.0,333.4 602.0,336.0 604.0,338.1 606.0,339.7 608.0,340.3 610.0,340.5 612.0,340.6 614.0,340.8 616.0,341.1 618.0,341.4 620.0,341.8 622.0,342.4 624.0,343.1 626.0,343.7 628.0,344.2 630.0,344.5 632.0,344.7 634.0,344.7 636.0,344.8 638.0,345.1 640.0,345.5 642.0,346.0 644.0,346.6 645.0,346.8 646.0,346.6 648.0,346.6 650.0,346.8 652.0,347.3 654.0,348.2 656.0,349.4 658.0,350.5 660.0,351.6 662.0,352.3 664.0,352.9 666.0,353.4 668.0,353.9 670.0,354.3 672.0,354.5 674.0,354.9 676.0,355.4 678.0,356.0 680.0,356.8 682.0,357.6 684.0,358.3 686.0,358.8 688.0,358.9 690.0,358.7 692.0,358.4 694.0,358.1 696.0,357.8 698.0,357.8 700.0,358.1 702.0,358.8 704.0,359.6 706.0,360.6 708.0,362.1 710.0,363.7 712.0,365.0 714.0,366.0 716.0,366.5 718.0,366.5 720.0,366.2 722.0,366.1 724.0,366.6 726.0,367.6 728.0,368.6 730.0,369.9 732.0,371.3 734.0,372.4 736.0,373.0 738.0,373.2 740.0,373.2 742.0,373.3 744.0,373.6 746.0,374.1 748.0,375.0 750.0,376.5 752.0,377.9 754.0,378.8 756.0,379.0 758.0,378.5 760.0,377.9 762.0,377.5 764.0,377.8 766.0,379.2 768.0,381.1 770.0,382.7 772.0,383.6 772.5,383.5"/>
<polyline class="d b" points="123.3,28.5 124.0,30.6 126.0,36.4 128.0,42.2 130.0,48.0 132.0,52.9 134.0,57.9 136.0,63.1 137.0,65.8 138.0,66.8 140.0,68.7 142.0,70.4 144.0,72.1 146.0,73.8 148.0,75.7 150.0,77.7 152.0,78.8 154.0,79.6 156.0,80.0 158.0,80.1 160.0,80.0 162.0,79.9 164.0,79.8 166.0,80.0 168.0,80.4 170.0,81.1 172.0,82.1 174.0,83.6 175.0,84.8 176.0,86.3 178.0,88.5 180.0,90.7 182.0,92.8 184.0,94.7 186.0,96.6 188.0,98.6 190.0,100.3 192.0,101.7 194.0,103.2 196.0,104.8 198.0,106.3 200.0,107.7 202.0,108.5 204.0,109.0 206.0,109.6 208.0,110.4 210.0,111.8 212.0,113.7 214.0,115.9 216.0,118.1 218.0,120.2 220.0,121.9 222.0,123.2 224.0,124.3 226.0,125.0 228.0,125.5 230.0,126.0 232.0,126.8 234.0,128.0 236.0,129.5 238.0,130.9 240.0,132.3 242.0,133.6 244.0,134.8 246.0,136.2 248.0,137.9 250.0,139.7 252.0,141.6 253.0,142.6 254.0,143.3 256.0,144.6 258.0,146.0 260.0,147.5 262.0,149.1 264.0,150.6 266.0,151.9 268.0,153.0 270.0,153.8 272.0,154.8 274.0,156.0 275.0,156.8 276.0,157.9 278.0,159.9 280.0,161.7 282.0,163.3 284.0,164.6 286.0,166.3 288.0,168.3 290.0,170.6 292.0,172.9 294.0,175.1 296.0,177.2 298.0,179.0 300.0,180.5 302.0,181.3 304.0,181.9 306.0,182.5 308.0,183.0 310.0,183.9 312.0,185.1 314.0,186.5 316.0,187.7 318.0,188.5 320.0,189.0 322.0,189.6 324.0,190.3 326.0,191.3 328.0,192.5 330.0,194.1 332.0,195.9 334.0,197.7 336.0,199.3 338.0,200.8 340.0,202.1 342.0,203.3 344.0,204.5 346.0,205.7 348.0,207.0 350.0,208.2 352.0,209.0 354.0,209.5 356.0,210.0 358.0,210.7 360.0,211.6 362.0,212.5 364.0,213.7 366.0,214.7 368.0,215.4 370.0,215.9 372.0,216.3 374.0,217.1 376.0,218.3 378.0,220.0 380.0,221.9 382.0,223.7 384.0,225.3 386.0,226.2 388.0,226.6 390.0,226.6 392.0,226.4 394.0,226.2 396.0,226.4 398.0,227.1 400.0,228.3 402.0,231.1 404.0,233.8 406.0,236.3 408.0,239.0 410.0,241.7 412.0,244.5 414.0,247.2 415.0,248.7 416.0,249.6 418.0,251.1 420.0,252.9 422.0,254.9 424.0,256.6 426.0,257.7 428.0,258.1 430.0,258.1 432.0,258.3 434.0,259.1 436.0,260.0 438.0,261.0 440.0,261.9 442.0,262.6 444.0,263.5 446.0,264.6 448.0,266.2 450.0,267.5 452.0,268.9 454.0,270.3 456.0,271.4 458.0,272.2 460.0,272.5 462.0,272.8 464.0,273.1 466.0,273.7 468.0,274.5 470.0,275.5 472.0,276.4 474.0,277.0 476.0,277.4 478.0,277.4 480.0,277.4 482.0,277.3 484.0,277.3 486.0,277.6 488.0,278.4 490.0,279.7 492.0,281.2 494.0,282.7 496.0,283.8 498.0,284.5 500.0,285.1 502.0,285.9 504.0,286.8 505.0,287.3 506.0,288.3 508.0,290.1 510.0,292.1 512.0,294.5 514.0,297.2 516.0,298.9 518.0,300.6 520.0,302.2 522.0,303.6 524.0,304.7 526.0,305.7 528.0,306.4 530.0,307.0 532.0,307.5 534.0,308.2 536.0,309.4 538.0,310.8 540.0,312.3 542.0,313.7 544.0,314.7 546.0,315.5 548.0,316.2 550.0,316.7 552.0,317.1 554.0,317.5 556.0,317.7 558.0,317.9 560.0,318.0 562.0,318.4 564.0,319.5 566.0,321.3 568.0,323.4 570.0,325.7 572.0,327.2 574.0,327.9 576.0,327.9 578.0,327.7 580.0,327.6 582.0,328.0 584.0,329.0 586.0,330.5 588.0,331.8 590.0,332.9 592.0,333.8 594.0,334.7 596.0,335.8 598.0,337.3 600.0,339.0 602.0,340.9 604.0,342.5 606.0,344.1 608.0,345.5 610.0,346.7 612.0,347.7 614.0,348.8 616.0,349.6 618.0,350.2 620.0,351.0 622.0,351.8 624.0,352.5 626.0,353.1 628.0,353.6 630.0,354.1 632.0,354.3 634.0,354.5 636.0,354.8 638.0,355.5 640.0,356.6 642.0,357.6 644.0,358.6 645.0,358.6 646.0,357.7 648.0,356.6 650.0,355.9 652.0,356.0 654.0,356.8 656.0,358.1 658.0,359.4 660.0,360.5 662.0,361.0 664.0,361.2 666.0,361.3 668.0,361.2 670.0,361.1 672.0,361.1 674.0,361.4 676.0,362.0 678.0,362.8 680.0,363.7 682.0,364.2 684.0,364.4 686.0,364.4 688.0,364.1 690.0,363.8 692.0,363.7 694.0,363.4 696.0,362.9 698.0,362.5 700.0,362.2 702.0,362.5 704.0,363.2 706.0,364.3 708.0,365.9 710.0,367.5 712.0,368.8 714.0,369.5 716.0,369.8 718.0,369.4 720.0,368.7 722.0,368.2 724.0,368.4 726.0,369.2 728.0,370.4 730.0,371.8 732.0,373.3 734.0,374.1 736.0,374.3 738.0,374.2 740.0,374.2 742.0,374.7 744.0,375.5 746.0,376.4 748.0,377.4 750.0,378.4 752.0,379.1 754.0,379.5 756.0,379.6 758.0,379.4 760.0,379.2 762.0,379.3 764.0,379.9 766.0,381.3 768.0,383.2 770.0,384.6 772.0,385.4 772.5,385.3"/>
<polyline class="d b" points="123.3,28.5 124.0,30.4 126.0,35.7 128.0,41.0 130.0,46.2 132.0,52.0 134.0,57.7 136.0,63.5 137.0,66.4 138.0,67.3 140.0,69.1 142.0,70.9 144.0,72.8 146.0,74.7 148.0,76.3 150.0,77.8 152.0,78.4 154.0,79.0 156.0,79.7 158.0,80.5 160.0,81.3 162.0,81.8 164.0,81.9 166.0,81.9 168.0,82.1 170.0,82.8 172.0,84.1 174.0,86.0 175.0,87.6 176.0,89.4 178.0,91.6 180.0,93.5 182.0,95.3 184.0,97.0 186.0,98.7 188.0,100.3 190.0,101.6 192.0,102.8 194.0,104.1 196.0,105.6 198.0,107.1 200.0,108.6 202.0,109.6 204.0,110.3 206.0,110.9 208.0,111.7 210.0,113.0 212.0,114.9 214.0,117.2 216.0,119.7 218.0,122.1 220.0,124.1 222.0,125.5 224.0,126.5 226.0,127.2 228.0,127.9 230.0,128.7 232.0,129.8 234.0,131.3 236.0,132.9 238.0,134.5 240.0,136.1 242.0,137.6 244.0,138.8 246.0,140.0 248.0,141.3 250.0,142.6 252.0,144.0 253.0,144.8 254.0,145.4 256.0,146.8 258.0,148.4 260.0,150.1 262.0,151.5 264.0,152.6 266.0,153.4 268.0,154.1 270.0,154.7 272.0,155.6 274.0,156.9 275.0,157.9 276.0,159.1 278.0,160.9 280.0,162.5 282.0,163.9 284.0,165.1 286.0,166.4 288.0,168.1 290.0,170.0 292.0,172.0 294.0,173.9 296.0,175.9 298.0,177.9 300.0,179.8 302.0,181.2 304.0,182.3 306.0,183.0 308.0,183.3 310.0,183.9 312.0,184.8 314.0,186.2 316.0,187.5 318.0,188.5 320.0,189.3 322.0,190.0 324.0,190.6 326.0,191.4 328.0,192.6 330.0,194.2 332.0,196.1 334.0,197.8 336.0,199.1 338.0,200.1 340.0,201.0 342.0,202.0 344.0,203.3 346.0,204.9 348.0,206.4 350.0,207.7 352.0,208.5 354.0,209.1 356.0,209.8 358.0,210.9 360.0,212.1 362.0,213.2 364.0,214.2 366.0,214.7 368.0,214.7 370.0,214.6 372.0,214.7 374.0,215.6 376.0,217.1 378.0,218.9 380.0,221.0 382.0,222.8 384.0,224.3 386.0,225.3 388.0,226.0 390.0,226.4 392.0,226.5 394.0,226.7 396.0,227.0 398.0,227.9 400.0,229.1 402.0,232.0 404.0,234.6 406.0,237.1 408.0,239.4 410.0,241.9 412.0,244.4 414.0,247.1 415.0,248.7 416.0,249.5 418.0,250.6 420.0,252.0 422.0,253.7 424.0,255.4 426.0,256.6 428.0,257.0 430.0,256.9 432.0,256.6 434.0,257.2 436.0,258.0 438.0,258.9 440.0,259.5 442.0,259.9 444.0,260.5 446.0,261.5 448.0,263.1 450.0,264.6 452.0,266.3 454.0,267.5 456.0,268.2 458.0,268.4 460.0,268.4 462.0,268.5 464.0,268.9 466.0,269.8 468.0,270.9 470.0,272.0 472.0,272.9 474.0,273.4 476.0,273.5 478.0,273.5 480.0,273.6 482.0,274.0 484.0,274.7 486.0,275.4 488.0,276.2 490.0,277.2 492.0,278.4 494.0,279.6 496.0,280.8 498.0,281.8 500.0,282.6 502.0,283.1 504.0,283.7 505.0,284.1 506.0,287.3 508.0,293.6 510.0,300.0 512.0,300.8 514.0,301.7 516.0,303.0 518.0,304.3 520.0,305.6 522.0,306.6 524.0,307.5 526.0,308.4 528.0,309.3 530.0,310.1 532.0,310.7 534.0,311.4 536.0,312.5 538.0,313.9 540.0,315.5 542.0,316.6 544.0,317.4 546.0,317.7 548.0,317.4 550.0,316.9 552.0,317.4 554.0,318.2 556.0,319.2 558.0,320.4 560.0,321.6 562.0,322.9 564.0,324.5 566.0,326.6 568.0,329.3 570.0,332.5 572.0,335.5 574.0,337.9 576.0,339.5 578.0,340.5 580.0,341.3 582.0,342.4 584.0,343.8 586.0,345.0 588.0,346.1 590.0,346.8 592.0,346.6 594.0,346.8 596.0,347.5 598.0,348.8 600.0,350.4 602.0,352.2 604.0,353.7 606.0,354.9 608.0,356.5 610.0,357.9 612.0,359.3 614.0,360.8 616.0,362.4 618.0,363.8 620.0,365.0 622.0,366.0 624.0,366.7 626.0,367.4 628.0,368.3 630.0,369.5 632.0,370.8 634.0,371.9 636.0,372.2 638.0,372.7 640.0,373.1 642.0,373.5 644.0,373.9 645.0,374.0 646.0,374.2 648.0,374.8 650.0,375.5 652.0,376.4 654.0,376.9 656.0,377.4 658.0,377.9 660.0,378.4 662.0,378.9 664.0,379.5 666.0,380.2 668.0,380.7 670.0,380.9 672.0,380.8 674.0,380.7 676.0,380.8 678.0,381.1 680.0,381.4 682.0,381.8 684.0,381.9 686.0,381.7 688.0,381.4 690.0,381.3 692.0,381.5 694.0,381.7 696.0,381.8 698.0,381.6 700.0,381.4 702.0,382.0 704.0,382.8 706.0,384.3 708.0,386.5 710.0,388.8 712.0,390.8 714.0,392.1 716.0,392.9 718.0,393.0 720.0,392.8 722.0,392.8 724.0,393.7 726.0,395.3 728.0,397.5 730.0,400.1 732.0,402.8 734.0,405.0 736.0,406.2 738.0,406.6 740.0,406.7 742.0,406.8 744.0,407.1 746.0,407.8 748.0,409.0 750.0,410.9 752.0,412.8 754.0,414.4 756.0,415.5 758.0,416.0 760.0,416.2 762.0,416.3 764.0,417.1 766.0,418.7 768.0,420.7 770.0,422.4 772.0,423.6 772.5,423.6"/>
<polyline class="d b" points="123.3,28.5 124.0,30.6 126.0,36.6 128.0,42.4 130.0,48.2 132.0,54.0 134.0,59.8 136.0,65.8 137.0,69.0 138.0,70.1 140.0,72.0 142.0,73.8 144.0,75.6 146.0,77.4 148.0,79.2 150.0,81.0 152.0,82.0 154.0,82.7 156.0,83.0 158.0,83.0 160.0,83.1 162.0,83.5 164.0,84.1 166.0,84.8 168.0,85.7 170.0,86.7 172.0,88.0 174.0,89.8 175.0,91.4 176.0,93.1 178.0,95.3 180.0,97.5 182.0,99.3 184.0,101.1 186.0,102.9 188.0,104.6 190.0,106.0 192.0,107.0 194.0,108.0 196.0,109.0 198.0,110.0 200.0,110.9 202.0,111.6 204.0,112.3 206.0,112.9 208.0,113.8 210.0,115.2 212.0,117.2 214.0,119.5 216.0,121.8 218.0,124.0 220.0,125.7 222.0,126.9 224.0,128.0 226.0,129.0 228.0,130.0 230.0,131.1 232.0,132.2 234.0,133.5 236.0,134.9 238.0,136.2 240.0,137.5 242.0,138.9 244.0,140.2 246.0,141.4 248.0,142.7 250.0,144.0 252.0,145.5 253.0,146.3 254.0,147.1 256.0,148.6 258.0,150.5 260.0,152.4 262.0,154.0 264.0,155.2 266.0,156.2 268.0,157.1 270.0,157.7 272.0,158.4 274.0,159.4 275.0,159.9 276.0,160.7 278.0,162.4 280.0,163.8 282.0,164.9 284.0,166.1 286.0,167.7 288.0,170.0 290.0,172.4 292.0,174.8 294.0,176.9 296.0,178.8 298.0,180.4 300.0,182.0 302.0,183.2 304.0,184.4 306.0,185.3 308.0,185.9 310.0,186.6 312.0,187.3 314.0,188.3 316.0,189.2 318.0,190.2 320.0,191.4 322.0,192.8 324.0,194.2 326.0,195.5 328.0,196.8 330.0,198.2 332.0,199.8 334.0,201.4 336.0,202.8 338.0,203.9 340.0,204.9 342.0,205.8 344.0,206.8 346.0,207.9 348.0,209.0 350.0,209.9 352.0,210.3 354.0,210.7 356.0,211.3 358.0,212.4 360.0,213.7 362.0,215.2 364.0,216.7 366.0,217.8 368.0,218.1 370.0,217.9 372.0,217.4 374.0,217.3 376.0,218.0 378.0,219.4 380.0,221.4 382.0,223.5 384.0,225.3 386.0,226.5 388.0,227.1 390.0,227.4 392.0,227.5 394.0,227.7 396.0,228.1 398.0,228.7 400.0,229.7 402.0,232.4 404.0,235.0 406.0,237.7 408.0,240.5 410.0,243.5 412.0,246.5 414.0,249.3 415.0,250.6 416.0,251.1 418.0,251.9 420.0,253.2 422.0,254.6 424.0,255.9 426.0,256.7 428.0,256.8 430.0,256.5 432.0,256.3 434.0,257.3 436.0,258.7 438.0,260.2 440.0,261.5 442.0,262.6 444.0,263.4 446.0,264.1 448.0,265.2 450.0,266.1 452.0,267.5 454.0,268.9 456.0,270.1 458.0,270.9 460.0,271.3 462.0,271.4 464.0,271.5 466.0,271.8 468.0,272.3 470.0,272.9 472.0,273.6 474.0,274.3 476.0,274.8 478.0,275.3 480.0,275.6 482.0,275.9 484.0,276.2 486.0,276.4 488.0,276.9 490.0,278.0 492.0,279.5 494.0,281.2 496.0,282.7 498.0,283.7 500.0,284.2 502.0,284.4 504.0,284.6 505.0,284.9 506.0,288.4 508.0,295.5 510.0,302.7 512.0,303.7 514.0,304.8 516.0,306.3 518.0,307.6 520.0,308.9 522.0,309.9 524.0,310.8 526.0,311.6 528.0,312.5 530.0,313.1 532.0,313.7 534.0,314.4 536.0,315.4 538.0,316.7 540.0,317.9 542.0,319.0 544.0,320.1 546.0,321.1 548.0,321.9 550.0,322.5 552.0,323.4 554.0,324.4 556.0,325.4 558.0,326.3 560.0,327.3 562.0,328.4 564.0,329.9 566.0,331.7 568.0,334.0 570.0,336.6 572.0,338.9 574.0,340.7 576.0,342.0 578.0,342.9 580.0,344.0 582.0,345.5 584.0,347.1 586.0,348.5 588.0,349.5 590.0,350.0 592.0,349.8 594.0,350.0 596.0,350.7 598.0,352.1 600.0,353.7 602.0,355.2 604.0,356.2 606.0,357.0 608.0,358.4 610.0,359.8 612.0,361.4 614.0,363.3 616.0,365.1 618.0,366.5 620.0,367.6 622.0,368.7 624.0,369.8 626.0,370.9 628.0,372.2 630.0,373.5 632.0,374.6 634.0,375.5 636.0,375.6 638.0,375.9 640.0,376.2 642.0,376.7 644.0,377.2 645.0,377.2 646.0,377.0 648.0,377.1 650.0,377.5 652.0,378.4 654.0,379.8 656.0,381.5 658.0,383.3 660.0,384.7 662.0,385.5 664.0,385.9 666.0,386.4 668.0,387.0 670.0,387.5 672.0,387.9 674.0,388.4 676.0,388.9 678.0,389.5 680.0,390.2 682.0,390.9 684.0,391.3 686.0,391.5 688.0,391.6 690.0,391.8 692.0,392.4 694.0,393.2 696.0,394.0 698.0,394.6 700.0,395.1 702.0,395.7 704.0,396.1 706.0,396.9 708.0,398.3 710.0,400.0 712.0,401.6 714.0,402.7 716.0,403.2 718.0,403.0 720.0,402.5 722.0,402.2 724.0,402.7 726.0,403.9 728.0,405.4 730.0,407.3 732.0,409.3 734.0,411.0 736.0,412.0 738.0,412.7 740.0,413.1 742.0,413.5 744.0,414.0 746.0,414.6 748.0,415.5 750.0,416.8 752.0,417.9 754.0,418.5 756.0,418.7 758.0,418.7 760.0,418.8 762.0,419.3 764.0,420.5 766.0,422.2 768.0,424.0 770.0,425.5 772.0,426.4 772.5,426.3"/>
<polyline class="d b" points="123.3,28.5 124.0,30.8 126.0,37.3 128.0,43.7 130.0,50.1 132.0,56.2 134.0,62.3 136.0,68.6 137.0,71.8 138.0,72.7 140.0,74.4 142.0,76.2 144.0,78.0 146.0,79.8 148.0,81.4 150.0,82.9 152.0,83.8 154.0,84.5 156.0,84.9 158.0,85.2 160.0,85.5 162.0,86.4 164.0,87.3 166.0,88.4 168.0,89.7 170.0,91.1 172.0,92.8 174.0,94.9 175.0,96.3 176.0,97.3 178.0,98.9 180.0,100.6 182.0,102.2 184.0,103.8 186.0,105.6 188.0,107.2 190.0,108.3 192.0,108.9 194.0,109.5 196.0,110.3 198.0,111.2 200.0,112.0 202.0,112.7 204.0,113.2 206.0,113.7 208.0,114.6 210.0,116.1 212.0,118.5 214.0,121.2 216.0,123.9 218.0,126.4 220.0,128.3 222.0,129.7 224.0,130.6 226.0,131.1 228.0,131.3 230.0,131.7 232.0,132.6 234.0,133.8 236.0,135.4 238.0,137.0 240.0,138.6 242.0,140.0 244.0,141.4 246.0,142.7 248.0,144.1 250.0,145.6 252.0,147.1 253.0,147.9 254.0,148.7 256.0,150.0 258.0,151.5 260.0,152.9 262.0,154.1 264.0,155.2 266.0,156.4 268.0,157.5 270.0,158.5 272.0,159.6 274.0,160.8 275.0,161.4 276.0,162.1 278.0,163.6 280.0,165.1 282.0,166.5 284.0,168.0 286.0,170.4 288.0,173.2 290.0,175.9 292.0,178.3 294.0,180.4 296.0,182.5 298.0,184.5 300.0,186.5 302.0,187.8 304.0,189.0 306.0,189.9 308.0,190.6 310.0,191.3 312.0,192.3 314.0,193.3 316.0,194.1 318.0,194.6 320.0,195.0 322.0,195.4 324.0,196.0 326.0,196.9 328.0,198.3 330.0,200.0 332.0,202.0 334.0,203.7 336.0,204.9 338.0,205.6 340.0,206.2 342.0,206.9 344.0,207.8 346.0,208.8 348.0,209.6 350.0,210.2 352.0,210.4 354.0,210.6 356.0,211.3 358.0,212.6 360.0,214.2 362.0,215.9 364.0,217.5 366.0,218.7 368.0,219.4 370.0,219.7 372.0,220.1 374.0,220.7 376.0,221.8 378.0,223.4 380.0,225.2 382.0,227.0 384.0,228.4 386.0,229.3 388.0,229.6 390.0,229.7 392.0,229.6 394.0,229.5 396.0,229.8 398.0,230.5 400.0,231.5 402.0,234.1 404.0,236.6 406.0,239.1 408.0,241.8 410.0,245.0 412.0,248.5 414.0,252.0 415.0,254.2 416.0,255.0 418.0,255.9 420.0,256.8 422.0,257.7 424.0,258.6 426.0,259.3 428.0,259.7 430.0,259.9 432.0,260.0 434.0,260.9 436.0,261.7 438.0,262.5 440.0,263.0 442.0,263.4 444.0,264.0 446.0,265.0 448.0,266.3 450.0,267.5 452.0,268.9 454.0,270.1 456.0,271.0 458.0,271.6 460.0,272.0 462.0,272.3 464.0,272.8 466.0,273.6 468.0,274.5 470.0,275.4 472.0,276.3 474.0,276.8 476.0,277.0 478.0,277.1 480.0,277.4 482.0,278.2 484.0,279.1 486.0,279.9 488.0,280.9 490.0,281.9 492.0,282.9 494.0,283.9 496.0,284.8 498.0,285.4 500.0,285.8 502.0,286.0 504.0,286.6 505.0,287.2 506.0,291.2 508.0,298.7 510.0,306.0 512.0,306.9 514.0,307.6 516.0,308.6 518.0,309.6 520.0,310.5 522.0,311.5 524.0,312.5 526.0,313.5 528.0,314.5 530.0,315.3 532.0,316.0 534.0,316.7 536.0,317.7 538.0,319.1 540.0,320.7 542.0,322.5 544.0,323.9 546.0,325.0 548.0,325.4 550.0,325.4 552.0,325.6 554.0,326.2 556.0,327.1 558.0,328.3 560.0,329.7 562.0,331.2 564.0,332.8 566.0,334.7 568.0,336.9 570.0,339.3 572.0,341.3 574.0,342.5 576.0,343.1 578.0,343.6 580.0,344.4 582.0,345.9 584.0,348.0 586.0,350.1 588.0,351.7 590.0,352.8 592.0,353.2 594.0,353.6 596.0,354.4 598.0,355.4 600.0,356.5 602.0,357.5 604.0,358.4 606.0,359.3 608.0,360.8 610.0,362.2 612.0,363.6 614.0,365.1 616.0,366.4 618.0,367.7 620.0,369.0 622.0,370.2 624.0,371.3 626.0,372.2 628.0,373.2 630.0,374.3 632.0,375.6 634.0,376.8 636.0,377.8 638.0,379.0 640.0,380.4 642.0,381.8 644.0,383.2 645.0,383.9 646.0,383.9 648.0,384.0 650.0,384.2 652.0,385.0 654.0,386.4 656.0,388.3 658.0,390.2 660.0,391.7 662.0,392.6 664.0,393.0 666.0,393.3 668.0,393.9 670.0,394.6 672.0,395.4 674.0,396.4 676.0,397.6 678.0,399.0 680.0,400.5 682.0,401.7 684.0,402.8 686.0,403.4 688.0,403.8 690.0,404.1 692.0,404.6 694.0,405.2 696.0,405.8 698.0,406.4 700.0,407.2 702.0,408.2 704.0,409.4 706.0,411.0 708.0,412.8 710.0,414.7 712.0,416.1 714.0,416.9 716.0,417.4 718.0,417.4 720.0,417.3 722.0,417.6 724.0,418.7 726.0,420.4 728.0,422.3 730.0,424.3 732.0,426.5 734.0,428.2 736.0,429.3 738.0,430.1 740.0,430.8 742.0,431.3 744.0,431.9 746.0,432.6 748.0,433.7 750.0,435.2 752.0,436.8 754.0,438.1 756.0,438.9 758.0,439.2 760.0,439.3 762.0,439.7 764.0,440.7 766.0,442.7 768.0,445.0 770.0,446.9 772.0,448.2 772.5,448.2"/>
<polyline class="d b" points="123.3,28.5 124.0,31.1 126.0,38.4 128.0,45.5 130.0,52.6 132.0,58.8 134.0,65.0 136.0,71.4 137.0,74.8 138.0,75.7 140.0,77.3 142.0,79.0 144.0,80.8 146.0,82.4 148.0,84.0 150.0,85.4 152.0,86.3 154.0,87.0 156.0,87.7 158.0,88.2 160.0,88.7 162.0,89.7 164.0,90.6 166.0,91.5 168.0,92.3 170.0,93.3 172.0,94.7 174.0,96.6 175.0,98.2 176.0,99.8 178.0,102.0 180.0,104.0 182.0,105.6 184.0,106.6 186.0,107.6 188.0,108.5 190.0,109.5 192.0,110.4 194.0,111.5 196.0,112.5 198.0,113.4 200.0,114.0 202.0,114.8 204.0,115.5 206.0,116.4 208.0,117.7 210.0,119.5 212.0,121.8 214.0,124.5 216.0,127.0 218.0,129.2 220.0,130.7 222.0,131.7 224.0,132.4 226.0,132.9 228.0,133.5 230.0,134.6 232.0,136.2 234.0,138.1 236.0,140.1 238.0,142.0 240.0,143.6 242.0,144.9 244.0,146.1 246.0,147.4 248.0,149.0 250.0,150.7 252.0,152.5 253.0,153.5 254.0,153.9 256.0,154.7 258.0,155.6 260.0,156.5 262.0,157.4 264.0,158.2 266.0,158.8 268.0,159.2 270.0,159.5 272.0,160.0 274.0,160.8 275.0,161.7 276.0,163.2 278.0,165.5 280.0,167.4 282.0,168.9 284.0,170.6 286.0,173.0 288.0,175.9 290.0,178.9 292.0,181.6 294.0,183.8 296.0,185.6 298.0,187.3 300.0,189.3 302.0,190.5 304.0,191.8 306.0,192.7 308.0,193.3 310.0,193.9 312.0,194.9 314.0,196.0 316.0,197.1 318.0,198.0 320.0,198.8 322.0,199.5 324.0,200.1 326.0,200.7 328.0,201.5 330.0,202.6 332.0,203.9 334.0,205.1 336.0,206.0 338.0,206.6 340.0,207.2 342.0,208.0 344.0,208.8 346.0,209.9 348.0,210.9 350.0,211.7 352.0,212.3 354.0,212.8 356.0,213.7 358.0,215.0 360.0,216.6 362.0,218.2 364.0,219.6 366.0,220.6 368.0,221.0 370.0,221.1 372.0,221.3 374.0,221.8 376.0,222.6 378.0,223.9 380.0,225.4 382.0,226.8 384.0,228.1 386.0,229.2 388.0,230.1 390.0,230.6 392.0,230.8 394.0,230.7 396.0,230.6 398.0,231.0 400.0,231.9 402.0,234.9 404.0,237.9 406.0,240.9 408.0,244.0 410.0,247.0 412.0,250.0 414.0,252.8 415.0,254.2 416.0,254.8 418.0,255.8 420.0,257.2 422.0,258.8 424.0,260.3 426.0,261.2 428.0,261.5 430.0,261.3 432.0,261.3 434.0,262.2 436.0,263.2 438.0,263.9 440.0,264.3 442.0,264.6 444.0,265.2 446.0,266.1 448.0,267.3 450.0,268.2 452.0,269.3 454.0,270.1 456.0,270.8 458.0,271.3 460.0,271.7 462.0,272.2 464.0,272.9 466.0,273.9 468.0,274.9 470.0,275.7 472.0,276.3 474.0,276.6 476.0,276.9 478.0,277.1 480.0,277.5 482.0,278.6 484.0,279.8 486.0,280.8 488.0,281.9 490.0,283.2 492.0,284.6 494.0,286.1 496.0,287.5 498.0,288.6 500.0,289.6 502.0,290.2 504.0,290.8 505.0,291.1 506.0,294.5 508.0,301.1 510.0,307.7 512.0,308.3 514.0,309.0 516.0,310.4 518.0,311.8 520.0,313.2 522.0,314.4 524.0,315.3 526.0,316.0 528.0,316.7 530.0,317.2 532.0,317.7 534.0,318.4 536.0,319.7 538.0,321.2 540.0,322.8 542.0,324.4 544.0,325.7 546.0,326.8 548.0,327.6 550.0,328.2 552.0,328.9 554.0,329.5 556.0,330.1 558.0,330.6 560.0,331.3 562.0,332.3 564.0,334.1 566.0,336.3 568.0,339.0 570.0,341.6 572.0,343.8 574.0,345.2 576.0,345.9 578.0,346.3 580.0,346.7 582.0,347.7 584.0,349.1 586.0,350.9 588.0,352.6 590.0,354.0 592.0,354.4 594.0,355.0 596.0,356.1 598.0,357.7 600.0,359.7 602.0,361.4 604.0,362.6 606.0,363.5 608.0,364.9 610.0,366.2 612.0,367.7 614.0,369.5 616.0,371.5 618.0,373.0 620.0,374.3 622.0,375.3 624.0,376.1 626.0,376.9 628.0,378.0 630.0,379.3 632.0,380.8 634.0,382.0 636.0,382.6 638.0,383.2 640.0,383.8 642.0,384.6 644.0,385.5 645.0,385.9 646.0,386.0 648.0,386.5 650.0,387.2 652.0,388.2 654.0,389.6 656.0,391.3 658.0,392.9 660.0,394.5 662.0,395.7 664.0,396.7 666.0,397.9 668.0,399.1 670.0,400.0 672.0,400.8 674.0,401.6 676.0,402.6 678.0,403.6 680.0,404.6 682.0,405.7 684.0,406.7 686.0,407.5 688.0,408.2 690.0,408.9 692.0,409.7 694.0,410.4 696.0,411.0 698.0,411.6 700.0,412.4 702.0,413.5 704.0,414.8 706.0,416.6 708.0,418.9 710.0,421.1 712.0,423.0 714.0,424.4 716.0,425.4 718.0,425.7 720.0,425.7 722.0,425.7 724.0,426.4 726.0,427.7 728.0,429.4 730.0,431.7 732.0,434.1 734.0,436.2 736.0,437.5 738.0,438.3 740.0,438.8 742.0,439.5 744.0,440.3 746.0,441.2 748.0,442.6 750.0,444.3 752.0,445.7 754.0,446.8 756.0,447.6 758.0,448.1 760.0,448.6 762.0,449.3 764.0,450.6 766.0,452.7 768.0,455.2 770.0,457.2 772.0,458.6 772.5,458.5"/>
<polyline class="d b" points="123.3,28.5 124.0,31.4 126.0,39.7 128.0,47.8 130.0,55.8 132.0,61.9 134.0,68.0 136.0,74.3 137.0,77.7 138.0,78.6 140.0,80.2 142.0,81.7 144.0,83.0 146.0,84.2 148.0,85.4 150.0,86.7 152.0,87.9 154.0,88.7 156.0,89.2 158.0,89.5 160.0,89.7 162.0,90.9 164.0,92.3 166.0,93.8 168.0,95.3 170.0,96.9 172.0,98.5 174.0,100.7 175.0,102.3 176.0,103.5 178.0,105.0 180.0,106.3 182.0,107.4 184.0,108.5 186.0,109.8 188.0,111.4 190.0,113.0 192.0,114.1 194.0,115.0 196.0,115.8 198.0,116.6 200.0,117.5 202.0,118.6 204.0,119.6 206.0,120.6 208.0,121.7 210.0,123.2 212.0,125.3 214.0,128.0 216.0,130.7 218.0,133.1 220.0,135.0 222.0,136.2 224.0,137.2 226.0,138.0 228.0,138.8 230.0,139.7 232.0,140.8 234.0,142.0 236.0,143.3 238.0,144.5 240.0,145.9 242.0,147.4 244.0,148.9 246.0,150.4 248.0,151.8 250.0,153.1 252.0,154.5 253.0,155.2 254.0,155.9 256.0,157.1 258.0,158.5 260.0,159.9 262.0,161.2 264.0,162.1 266.0,163.0 268.0,163.7 270.0,164.2 272.0,164.5 274.0,165.1 275.0,165.4 276.0,166.5 278.0,168.5 280.0,170.2 282.0,171.7 284.0,173.0 286.0,174.7 288.0,176.9 290.0,179.3 292.0,181.8 294.0,184.3 296.0,186.6 298.0,188.8 300.0,190.7 302.0,191.5 304.0,192.2 306.0,192.7 308.0,193.1 310.0,193.9 312.0,195.0 314.0,196.1 316.0,196.9 318.0,197.4 320.0,197.9 322.0,198.6 324.0,199.4 326.0,200.6 328.0,201.9 330.0,203.6 332.0,205.4 334.0,207.3 336.0,208.7 338.0,209.8 340.0,210.6 342.0,211.2 344.0,211.7 346.0,212.3 348.0,212.9 350.0,213.4 352.0,213.6 354.0,213.9 356.0,214.4 358.0,215.5 360.0,216.9 362.0,218.5 364.0,220.1 366.0,221.4 368.0,222.1 370.0,222.2 372.0,222.3 374.0,222.7 376.0,223.7 378.0,225.3 380.0,227.3 382.0,229.3 384.0,231.0 386.0,232.2 388.0,232.8 390.0,233.1 392.0,233.0 394.0,232.7 396.0,232.7 398.0,233.1 400.0,234.0 402.0,236.7 404.0,239.4 406.0,242.1 408.0,245.0 410.0,248.1 412.0,251.4 414.0,254.7 415.0,256.4 416.0,256.8 418.0,257.3 420.0,258.2 422.0,259.5 424.0,260.8 426.0,261.8 428.0,262.1 430.0,262.1 432.0,261.9 434.0,262.7 436.0,263.5 438.0,264.1 440.0,264.5 442.0,264.8 444.0,265.4 446.0,266.5 448.0,268.2 450.0,269.7 452.0,271.1 454.0,272.1 456.0,272.8 458.0,273.2 460.0,273.4 462.0,273.6 464.0,274.0 466.0,274.6 468.0,275.4 470.0,276.4 472.0,277.4 474.0,278.0 476.0,278.3 478.0,278.4 480.0,278.4 482.0,279.2 484.0,280.2 486.0,281.3 488.0,282.5 490.0,284.0 492.0,285.6 494.0,287.3 496.0,288.9 498.0,290.3 500.0,291.4 502.0,291.6 504.0,292.2 505.0,292.8 506.0,297.0 508.0,304.7 510.0,312.4 512.0,312.8 514.0,313.4 516.0,314.5 518.0,315.7 520.0,317.0 522.0,318.1 524.0,319.0 526.0,319.9 528.0,320.6 530.0,321.1 532.0,321.4 534.0,321.9 536.0,322.9 538.0,324.4 540.0,326.1 542.0,327.9 544.0,329.5 546.0,330.8 548.0,331.7 550.0,332.4 552.0,333.3 554.0,334.0 556.0,334.4 558.0,334.8 560.0,335.1 562.0,335.8 564.0,337.3 566.0,339.5 568.0,342.5 570.0,345.7 572.0,348.4 574.0,350.2 576.0,351.3 578.0,351.9 580.0,352.7 582.0,353.9 584.0,355.3 586.0,357.1 588.0,358.6 590.0,359.7 592.0,359.5 594.0,359.5 596.0,360.0 598.0,361.0 600.0,362.5 602.0,364.3 604.0,366.0 606.0,367.3 608.0,368.9 610.0,369.9 612.0,370.8 614.0,371.8 616.0,372.9 618.0,374.1 620.0,375.2 622.0,376.3 624.0,377.1 626.0,377.8 628.0,378.7 630.0,379.8 632.0,381.0 634.0,382.1 636.0,383.6 638.0,385.4 640.0,387.3 642.0,389.1 644.0,390.6 645.0,390.8 646.0,390.3 648.0,390.2 650.0,390.6 652.0,391.8 654.0,394.6 656.0,397.7 658.0,400.7 660.0,403.3 662.0,405.2 664.0,406.8 666.0,408.3 668.0,409.9 670.0,411.2 672.0,412.4 674.0,413.9 676.0,415.7 678.0,417.9 680.0,420.4 682.0,423.0 684.0,425.2 686.0,426.9 688.0,428.3 690.0,429.6 692.0,431.2 694.0,433.0 696.0,434.8 698.0,436.6 700.0,438.4 702.0,439.0 704.0,439.7 706.0,440.8 708.0,442.3 710.0,443.9 712.0,445.3 714.0,446.3 716.0,446.8 718.0,446.8 720.0,446.8 722.0,447.3 724.0,448.7 726.0,450.6 728.0,452.5 730.0,454.6 732.0,456.4 734.0,457.8 736.0,458.8 738.0,459.4 740.0,459.9 742.0,460.4 744.0,460.9 746.0,461.4 748.0,462.3 750.0,463.7 752.0,465.0 754.0,465.9 756.0,466.2 758.0,466.2 760.0,466.3 762.0,466.8 764.0,468.1 766.0,470.2 768.0,472.4 770.0,474.0 772.0,474.8 772.5,474.5"/>
<polyline class="d b" points="123.3,28.5 124.0,31.7 126.0,40.9 128.0,50.0 130.0,59.0 132.0,65.2 134.0,71.2 136.0,77.4 137.0,80.7 138.0,81.4 140.0,82.7 142.0,83.9 144.0,85.2 146.0,86.4 148.0,87.7 150.0,89.0 152.0,90.2 154.0,91.2 156.0,91.7 158.0,91.9 160.0,92.1 162.0,93.2 164.0,94.3 166.0,95.5 168.0,96.7 170.0,98.1 172.0,99.8 174.0,102.2 175.0,103.9 176.0,105.4 178.0,107.4 180.0,109.4 182.0,111.3 184.0,112.9 186.0,114.4 188.0,115.7 190.0,116.6 192.0,117.2 194.0,117.9 196.0,118.7 198.0,119.7 200.0,120.6 202.0,121.5 204.0,122.1 206.0,122.8 208.0,124.0 210.0,126.0 212.0,128.5 214.0,131.3 216.0,133.8 218.0,135.7 220.0,136.8 222.0,137.5 224.0,138.1 226.0,138.6 228.0,139.1 230.0,140.0 232.0,141.2 234.0,142.9 236.0,144.9 238.0,146.9 240.0,148.8 242.0,150.5 244.0,151.7 246.0,152.7 248.0,153.9 250.0,155.1 252.0,156.7 253.0,157.7 254.0,158.6 256.0,159.9 258.0,161.2 260.0,162.5 262.0,163.6 264.0,164.4 266.0,165.1 268.0,165.7 270.0,166.3 272.0,166.9 274.0,167.5 275.0,167.8 276.0,168.6 278.0,170.2 280.0,171.8 282.0,173.5 284.0,175.3 286.0,177.6 288.0,180.3 290.0,183.2 292.0,186.1 294.0,188.6 296.0,190.7 298.0,192.6 300.0,194.3 302.0,194.8 304.0,195.3 306.0,195.5 308.0,195.6 310.0,196.0 312.0,196.9 314.0,198.0 316.0,199.2 318.0,200.3 320.0,201.3 322.0,202.4 324.0,203.3 326.0,204.0 328.0,204.8 330.0,205.8 332.0,207.0 334.0,208.3 336.0,209.4 338.0,210.4 340.0,211.4 342.0,212.2 344.0,212.9 346.0,213.8 348.0,214.8 350.0,215.5 352.0,216.0 354.0,216.4 356.0,217.2 358.0,218.2 360.0,219.3 362.0,220.2 364.0,221.3 366.0,222.4 368.0,223.1 370.0,223.4 372.0,223.7 374.0,224.1 376.0,224.8 378.0,226.1 380.0,227.9 382.0,230.1 384.0,232.1 386.0,233.6 388.0,234.6 390.0,234.9 392.0,234.8 394.0,234.7 396.0,234.8 398.0,235.4 400.0,236.4 402.0,239.2 404.0,241.8 406.0,244.3 408.0,247.1 410.0,250.0 412.0,253.1 414.0,256.1 415.0,257.8 416.0,258.4 418.0,259.2 420.0,260.4 422.0,261.8 424.0,263.1 426.0,263.8 428.0,264.0 430.0,263.7 432.0,263.6 434.0,264.5 436.0,265.3 438.0,266.0 440.0,266.5 442.0,266.8 444.0,267.2 446.0,267.8 448.0,268.9 450.0,269.9 452.0,271.0 454.0,272.1 456.0,273.1 458.0,273.8 460.0,274.3 462.0,274.7 464.0,275.0 466.0,275.6 468.0,276.2 470.0,276.8 472.0,277.4 474.0,277.9 476.0,278.4 478.0,278.9 480.0,279.5 482.0,281.1 484.0,282.8 486.0,284.1 488.0,285.3 490.0,286.4 492.0,287.5 494.0,288.7 496.0,290.0 498.0,291.5 500.0,293.1 502.0,293.5 504.0,294.1 505.0,294.7 506.0,299.6 508.0,309.0 510.0,318.6 512.0,319.8 514.0,320.9 516.0,322.2 518.0,323.0 520.0,323.5 522.0,323.9 524.0,324.5 526.0,325.3 528.0,326.4 530.0,327.5 532.0,328.4 534.0,329.2 536.0,330.1 538.0,331.1 540.0,332.0 542.0,333.3 544.0,334.4 546.0,335.5 548.0,336.4 550.0,337.2 552.0,338.1 554.0,338.9 556.0,339.6 558.0,340.5 560.0,341.5 562.0,342.9 564.0,344.9 566.0,347.3 568.0,350.0 570.0,352.7 572.0,355.0 574.0,356.6 576.0,357.5 578.0,358.1 580.0,358.8 582.0,359.9 584.0,361.5 586.0,363.1 588.0,364.6 590.0,365.9 592.0,365.8 594.0,366.0 596.0,366.5 598.0,367.4 600.0,368.5 602.0,369.6 604.0,370.4 606.0,370.7 608.0,372.1 610.0,373.1 612.0,374.1 614.0,375.3 616.0,376.6 618.0,378.0 620.0,379.6 622.0,381.3 624.0,383.1 626.0,385.0 628.0,386.9 630.0,388.6 632.0,390.0 634.0,390.9 636.0,395.8 638.0,400.9 640.0,406.3 642.0,411.9 644.0,417.6 645.0,420.4 646.0,422.2 648.0,426.0 650.0,429.9 652.0,434.4 654.0,435.9 656.0,437.8 658.0,439.8 660.0,441.6 662.0,443.0 664.0,444.2 666.0,445.3 668.0,446.3 670.0,447.1 672.0,447.7 674.0,448.4 676.0,449.3 678.0,450.4 680.0,451.6 682.0,452.7 684.0,453.7 686.0,454.6 688.0,455.4 690.0,456.5 692.0,457.9 694.0,459.4 696.0,460.6 698.0,461.7 700.0,462.8 702.0,464.2 704.0,465.6 706.0,467.2 708.0,469.3 710.0,471.4 712.0,473.1 714.0,474.4 716.0,475.5 718.0,476.2 720.0,476.8 722.0,477.7 724.0,479.2 726.0,480.9 728.0,482.6 730.0,484.4 732.0,486.5 734.0,488.6 736.0,490.3 738.0,491.7 740.0,492.8 742.0,493.8 744.0,494.7 746.0,495.8 748.0,497.3 750.0,499.1 752.0,500.8 754.0,502.0 756.0,502.9 758.0,503.6 760.0,504.6 762.0,505.9 764.0,507.9 766.0,510.5 768.0,513.3 770.0,515.4 772.0,517.0 772.5,517.0"/>
<polyline class="s b" points="123.3,28.5 127.0,40.0 131.0,51.0 134.6,58.0 140.5,65.6 147.0,70.6 155.4,75.6 163.8,78.9 170.0,81.5 180.0,88.0 185.0,92.6 191.9,98.9 198.9,104.4 205.8,108.6 212.7,111.4 216.2,112.7 223.1,118.3 230.1,126.0 235.0,129.5 241.0,135.0 252.2,141.6 263.3,149.4 274.4,157.2 283.3,162.7 290.0,167.2 295.0,170.0 305.0,178.0 322.0,193.0 342.0,202.5 364.0,211.5 376.0,216.0 385.0,222.0 390.0,230.0 403.0,240.0 410.0,246.0 425.0,254.0 440.0,262.5 455.0,269.0 470.0,273.5 485.0,277.0 500.0,283.0 511.0,286.5 527.7,290.8 551.3,295.7 575.0,300.5 583.2,310.0 590.2,314.4 600.0,318.5 605.0,320.0 611.0,327.8 628.5,331.7 648.0,339.4 662.0,345.0 682.0,349.0 694.0,352.5 715.0,356.3 740.0,361.3 753.8,365.0 760.0,371.3 772.5,373.5"/>
<polyline class="d r" points="123.3,28.5 124.0,29.4 126.0,31.9 128.0,34.5 130.0,37.0 132.0,39.2 134.0,41.5 136.0,43.8 137.0,45.1 138.0,46.0 140.0,47.7 142.0,49.2 144.0,50.7 146.0,52.1 148.0,53.3 150.0,54.4 152.0,55.3 154.0,56.1 156.0,57.1 158.0,58.4 160.0,60.4 162.0,62.9 164.0,65.4 166.0,67.5 168.0,69.0 170.0,69.6 172.0,70.1 174.0,70.5 175.0,70.7 176.0,72.5 178.0,76.3 180.0,80.1 182.0,83.9 183.0,86.1 184.0,89.1 186.0,94.6 188.0,100.1 190.0,105.4 192.0,108.4 194.0,111.0 196.0,113.5 198.0,116.0 200.0,118.7 202.0,119.9 204.0,121.2 206.0,122.7 208.0,124.5 210.0,126.3 212.0,127.7 214.0,128.9 216.0,129.5 218.0,129.9 220.0,130.3 222.0,132.0 224.0,134.2 226.0,136.8 228.0,139.4 230.0,141.8 232.0,144.0 234.0,145.8 236.0,147.3 238.0,148.7 240.0,150.4 242.0,152.8 244.0,155.5 246.0,158.2 248.0,160.6 250.0,162.5 252.0,164.1 253.0,164.4 254.0,164.6 256.0,166.3 258.0,168.6 260.0,170.9 262.0,172.8 264.0,174.4 266.0,175.7 268.0,176.9 270.0,178.1 272.0,179.6 274.0,180.9 276.0,181.9 278.0,182.4 280.0,182.9 282.0,183.8 284.0,185.2 286.0,187.1 288.0,189.1 290.0,191.1 292.0,192.7 294.0,193.9 296.0,195.1 298.0,196.1 300.0,197.0 302.0,197.7 304.0,198.1 306.0,198.2 308.0,198.4 310.0,199.1 312.0,200.5 314.0,202.5 316.0,204.7 318.0,206.9 320.0,208.7 322.0,210.3 324.0,211.6 326.0,212.9 328.0,214.1 330.0,215.5 332.0,216.6 334.0,217.6 336.0,218.5 338.0,219.4 340.0,220.2 342.0,221.1 344.0,222.3 346.0,223.8 348.0,225.4 350.0,226.8 352.0,227.2 354.0,227.0 356.0,226.5 358.0,225.9 360.0,225.7 362.0,226.0 364.0,226.7 366.0,227.6 368.0,228.6 370.0,229.5 372.0,230.4 374.0,231.1 376.0,232.0 378.0,233.1 380.0,234.2 382.0,235.2 384.0,235.7 386.0,235.8 388.0,235.8 390.0,235.8 392.0,236.0 394.0,236.5 395.0,236.9 396.0,237.2 398.0,238.0 400.0,239.0 402.0,240.2 404.0,241.4 406.0,242.2 408.0,242.5 410.0,242.5 412.0,242.7 414.0,243.0 416.0,243.7 418.0,244.3 420.0,245.0 422.0,245.8 424.0,246.8 426.0,247.8 428.0,249.2 430.0,250.6 432.0,251.8 434.0,252.6 436.0,253.2 438.0,253.7 439.0,253.9 440.0,254.4 442.0,255.6 444.0,256.9 446.0,258.0 448.0,258.8 450.0,259.5 452.0,259.7 454.0,259.9 456.0,260.4 458.0,261.1 460.0,262.1 462.0,263.4 464.0,264.5 466.0,265.4 468.0,265.9 470.0,265.9 472.0,265.9 474.0,266.1 475.0,266.4 476.0,267.4 478.0,269.2 480.0,270.7 482.0,271.9 484.0,272.8 486.0,273.7 488.0,274.6 490.0,275.9 492.0,277.6 494.0,279.4 496.0,281.0 498.0,282.4 500.0,283.5 502.0,284.4 504.0,285.1 506.0,285.9 508.0,287.1 510.0,288.8 512.0,290.8 514.0,292.5 516.0,292.8 518.0,292.6 520.0,291.9 522.0,291.4 524.0,291.3 526.0,291.6 528.0,292.0 530.0,292.3 532.0,292.6 534.0,293.2 536.0,294.0 538.0,294.7 540.0,295.3 542.0,295.7 544.0,295.7 546.0,295.8 548.0,296.3 550.0,297.0 552.0,298.1 554.0,299.2 556.0,299.9 558.0,300.3 560.0,300.5 562.0,300.7 564.0,301.1 566.0,302.0 568.0,303.2 570.0,304.6 572.0,305.7 574.0,306.3 576.0,306.5 578.0,306.4 580.0,306.0 582.0,305.7 584.0,305.8 586.0,306.5 588.0,307.7 590.0,309.0 592.0,310.5 592.5,311.3 594.0,326.2 596.0,345.3 597.0,353.7 598.0,351.9 600.0,350.7 602.0,350.6 604.0,351.6 606.0,353.1 608.0,354.7 610.0,356.1 612.0,357.2 614.0,358.0 616.0,358.8 618.0,359.7 620.0,360.5 622.0,361.0 624.0,361.1 626.0,361.1 628.0,361.1 630.0,361.2 632.0,361.4 634.0,361.5 636.0,361.8 638.0,361.9 640.0,361.9 642.0,362.3 644.0,363.2 645.0,364.3 646.0,365.7 648.0,367.0 650.0,367.6 652.0,367.5 654.0,367.0 656.0,366.9 658.0,367.3 660.0,368.3 662.0,369.7 664.0,371.3 666.0,372.8 668.0,374.1 670.0,375.2 672.0,375.9 674.0,376.3 676.0,376.4 678.0,376.6 680.0,377.3 682.0,378.3 684.0,379.6 686.0,380.9 688.0,381.9 690.0,382.3 692.0,382.2 694.0,382.2 696.0,382.5 698.0,383.2 700.0,384.1 702.0,384.8 704.0,385.2 706.0,385.5 708.0,385.8 710.0,386.4 712.0,387.3 714.0,388.2 716.0,388.9 718.0,389.5 720.0,390.1 722.0,390.8 724.0,391.6 726.0,392.1 728.0,392.4 730.0,392.5 732.0,392.6 734.0,393.2 736.0,394.1 738.0,395.3 740.0,396.8 742.0,398.2 744.0,399.3 746.0,400.0 748.0,400.6 750.0,401.3 752.0,402.2 754.0,403.5 756.0,405.0 758.0,406.2 760.0,406.7 762.0,406.7 764.0,406.2 766.0,405.8 768.0,405.8 770.0,406.5 772.0,407.5 772.5,408.2"/>
<polyline class="d r" points="123.3,28.5 124.0,29.5 126.0,32.2 128.0,34.9 130.0,37.7 132.0,40.0 134.0,42.4 136.0,44.8 137.0,46.0 138.0,46.8 140.0,48.5 142.0,50.2 144.0,51.8 146.0,53.5 148.0,54.8 150.0,55.8 152.0,56.5 154.0,57.1 156.0,58.3 158.0,60.1 160.0,62.6 162.0,65.4 164.0,68.2 166.0,70.4 168.0,72.0 170.0,72.9 172.0,73.8 174.0,74.9 175.0,75.5 176.0,77.5 178.0,81.6 180.0,85.7 182.0,89.7 183.0,91.9 184.0,94.7 186.0,99.9 188.0,105.0 190.0,110.0 192.0,112.9 194.0,115.7 196.0,118.4 198.0,121.1 200.0,123.9 202.0,124.8 204.0,125.8 206.0,126.8 208.0,128.1 210.0,129.5 212.0,131.0 214.0,132.5 216.0,133.8 218.0,134.6 220.0,135.1 222.0,136.7 224.0,138.4 226.0,140.6 228.0,142.8 230.0,144.9 232.0,147.0 234.0,148.9 236.0,150.6 238.0,152.3 240.0,154.2 242.0,156.3 244.0,158.5 246.0,160.6 248.0,162.5 250.0,164.4 252.0,166.3 253.0,167.2 254.0,168.2 256.0,170.2 258.0,172.4 260.0,174.3 262.0,175.8 264.0,177.2 266.0,178.4 268.0,179.5 270.0,180.6 272.0,181.8 274.0,183.1 276.0,184.5 278.0,185.8 280.0,187.0 282.0,188.5 284.0,190.2 286.0,192.0 288.0,193.8 290.0,195.7 292.0,197.5 294.0,199.2 296.0,200.7 298.0,202.2 300.0,203.4 302.0,204.1 304.0,204.4 306.0,204.4 308.0,204.3 310.0,204.6 312.0,205.7 314.0,207.7 316.0,210.2 318.0,212.6 320.0,214.6 322.0,216.0 324.0,216.9 326.0,217.7 328.0,218.6 330.0,219.7 332.0,220.7 334.0,221.4 336.0,222.1 338.0,222.9 340.0,224.0 342.0,225.5 344.0,227.3 346.0,229.1 348.0,230.6 350.0,231.7 352.0,231.7 354.0,231.3 356.0,230.9 358.0,230.6 360.0,230.7 362.0,231.2 364.0,232.0 366.0,233.1 368.0,234.4 370.0,235.8 372.0,237.0 374.0,238.0 376.0,238.9 378.0,239.9 380.0,240.6 382.0,241.0 384.0,241.2 386.0,241.1 388.0,241.1 390.0,241.2 392.0,241.5 394.0,242.0 395.0,241.9 396.0,241.8 398.0,242.1 400.0,242.8 402.0,244.1 404.0,245.6 406.0,247.1 408.0,248.1 410.0,248.7 412.0,249.2 414.0,250.0 416.0,250.8 418.0,251.5 420.0,252.1 422.0,253.0 424.0,253.8 426.0,254.6 428.0,255.8 430.0,257.1 432.0,258.3 434.0,259.1 436.0,259.6 438.0,259.9 439.0,259.9 440.0,260.1 442.0,261.3 444.0,262.8 446.0,264.3 448.0,265.7 450.0,266.9 452.0,267.3 454.0,267.6 456.0,268.0 458.0,268.6 460.0,269.2 462.0,269.8 464.0,270.5 466.0,271.3 468.0,272.0 470.0,272.7 472.0,273.4 474.0,274.2 475.0,274.7 476.0,275.7 478.0,277.4 480.0,278.8 482.0,279.8 484.0,280.5 486.0,281.3 488.0,282.1 490.0,283.2 492.0,284.6 494.0,286.1 496.0,287.5 498.0,288.8 500.0,290.2 502.0,291.6 504.0,292.7 506.0,293.7 508.0,295.0 510.0,296.7 512.0,298.6 514.0,300.1 516.0,300.3 518.0,299.9 520.0,298.9 522.0,298.2 524.0,298.0 526.0,298.1 528.0,298.3 530.0,298.4 532.0,298.6 534.0,298.8 536.0,299.3 538.0,299.9 540.0,300.4 542.0,300.7 544.0,300.7 546.0,300.7 548.0,301.0 550.0,301.6 552.0,302.6 554.0,303.7 556.0,304.8 558.0,305.8 560.0,306.5 562.0,307.0 564.0,307.5 566.0,308.0 568.0,308.8 570.0,309.9 572.0,310.9 574.0,311.9 576.0,312.6 578.0,312.9 580.0,312.9 582.0,312.7 584.0,312.7 586.0,313.0 588.0,313.6 590.0,314.3 592.0,315.0 592.5,315.2 594.0,329.5 596.0,348.3 597.0,357.1 598.0,356.1 600.0,355.4 602.0,355.4 604.0,356.0 606.0,357.0 608.0,358.4 610.0,359.8 612.0,360.9 614.0,361.7 616.0,362.3 618.0,363.1 620.0,363.9 622.0,364.6 624.0,365.2 626.0,365.8 628.0,366.3 630.0,366.8 632.0,367.2 634.0,367.5 636.0,367.7 638.0,367.9 640.0,368.1 642.0,368.6 644.0,369.4 645.0,370.1 646.0,371.1 648.0,372.0 650.0,372.4 652.0,372.4 654.0,372.5 656.0,372.8 658.0,373.6 660.0,374.5 662.0,375.5 664.0,376.5 666.0,377.5 668.0,378.5 670.0,379.7 672.0,380.5 674.0,380.8 676.0,380.6 678.0,380.5 680.0,380.9 682.0,381.9 684.0,383.3 686.0,384.9 688.0,386.0 690.0,386.3 692.0,386.1 694.0,385.9 696.0,386.2 698.0,386.8 700.0,387.6 702.0,388.3 704.0,388.9 706.0,389.3 708.0,389.7 710.0,390.0 712.0,390.5 714.0,391.0 716.0,391.5 718.0,392.2 720.0,393.0 722.0,393.9 724.0,394.9 726.0,395.6 728.0,396.0 730.0,396.1 732.0,396.2 734.0,396.6 736.0,397.2 738.0,398.1 740.0,399.3 742.0,400.6 744.0,401.6 746.0,402.3 748.0,402.7 750.0,403.0 752.0,403.4 754.0,404.3 756.0,405.6 758.0,407.0 760.0,408.0 762.0,408.5 764.0,408.3 766.0,407.9 768.0,407.7 770.0,408.2 772.0,409.1 772.5,409.7"/>
<polyline class="d r" points="123.3,28.5 124.0,29.5 126.0,32.3 128.0,35.1 130.0,37.9 132.0,40.4 134.0,43.1 136.0,45.8 137.0,47.1 138.0,47.9 140.0,49.3 142.0,50.7 144.0,52.3 146.0,53.9 148.0,55.6 150.0,57.0 152.0,58.2 154.0,59.2 156.0,60.3 158.0,61.9 160.0,64.3 162.0,66.9 164.0,69.4 166.0,71.4 168.0,72.8 170.0,73.8 172.0,74.9 174.0,76.1 175.0,77.0 176.0,79.5 178.0,84.3 180.0,89.0 182.0,93.8 183.0,96.4 184.0,100.0 186.0,106.6 188.0,113.1 190.0,119.6 192.0,123.1 194.0,126.4 196.0,129.6 198.0,132.7 200.0,135.8 202.0,137.0 204.0,138.3 206.0,140.0 208.0,142.0 210.0,143.9 212.0,145.4 214.0,146.7 216.0,147.6 218.0,148.2 220.0,149.0 222.0,151.7 224.0,155.0 226.0,158.9 228.0,162.6 230.0,165.9 232.0,168.8 234.0,171.2 236.0,173.2 238.0,175.0 240.0,176.9 242.0,178.4 244.0,180.3 246.0,182.2 248.0,184.0 250.0,185.6 252.0,186.9 253.0,187.3 254.0,187.4 256.0,188.5 258.0,190.2 260.0,191.7 262.0,192.7 264.0,193.5 266.0,194.0 268.0,194.4 270.0,194.9 272.0,195.6 274.0,196.4 276.0,197.0 278.0,197.4 280.0,198.0 282.0,198.8 284.0,199.9 286.0,201.2 288.0,202.5 290.0,203.8 292.0,204.9 294.0,205.5 296.0,205.9 298.0,206.1 300.0,206.0 302.0,207.6 304.0,209.0 306.0,210.3 308.0,211.6 310.0,213.2 312.0,215.4 314.0,218.3 316.0,221.8 318.0,225.3 320.0,228.6 322.0,231.4 324.0,233.9 326.0,236.0 328.0,238.2 330.0,240.6 332.0,242.8 334.0,245.0 336.0,247.0 338.0,249.0 340.0,250.9 342.0,252.8 344.0,255.0 346.0,257.6 348.0,260.2 350.0,262.8 352.0,263.5 354.0,263.5 356.0,263.1 358.0,262.7 360.0,262.9 362.0,263.7 364.0,265.0 366.0,266.5 368.0,268.0 370.0,269.5 372.0,270.8 374.0,272.1 376.0,273.6 378.0,275.3 380.0,276.7 382.0,277.8 384.0,278.4 386.0,278.6 388.0,278.4 390.0,278.1 392.0,278.1 394.0,278.5 395.0,278.6 396.0,278.9 398.0,279.8 400.0,280.9 402.0,282.2 404.0,283.6 406.0,284.7 408.0,285.3 410.0,285.6 412.0,285.5 414.0,285.5 416.0,285.6 418.0,285.9 420.0,286.5 422.0,288.2 424.0,290.1 426.0,291.9 428.0,293.9 430.0,295.8 432.0,297.3 434.0,298.6 436.0,299.6 438.0,300.5 439.0,300.8 440.0,301.0 442.0,301.8 444.0,302.9 446.0,304.0 448.0,304.9 450.0,305.6 452.0,305.5 454.0,305.2 456.0,305.2 458.0,305.4 460.0,306.0 462.0,306.8 464.0,307.8 466.0,308.6 468.0,309.2 470.0,309.7 472.0,310.2 474.0,310.8 475.0,311.4 476.0,312.1 478.0,312.7 480.0,312.8 482.0,312.5 484.0,312.1 486.0,311.8 488.0,311.8 490.0,312.1 492.0,312.9 494.0,313.9 496.0,315.0 498.0,315.9 500.0,316.6 502.0,316.9 504.0,316.9 506.0,316.8 508.0,317.1 510.0,318.1 512.0,319.3 514.0,320.0 516.0,320.1 518.0,319.4 520.0,318.4 522.0,317.8 524.0,317.9 526.0,318.5 528.0,319.3 530.0,320.0 532.0,320.6 534.0,321.2 536.0,322.0 538.0,322.8 540.0,323.6 542.0,324.2 544.0,324.7 546.0,325.2 548.0,326.2 550.0,327.2 552.0,328.2 554.0,328.9 556.0,329.3 558.0,329.4 560.0,329.5 562.0,329.6 564.0,330.1 566.0,331.0 568.0,332.4 570.0,334.1 572.0,335.6 574.0,337.0 576.0,337.9 578.0,338.1 580.0,337.6 582.0,337.0 584.0,336.6 586.0,336.9 588.0,337.7 590.0,338.9 592.0,340.1 592.5,340.8 594.0,348.6 596.0,358.3 597.0,362.3 598.0,360.9 600.0,359.9 602.0,359.8 604.0,360.6 606.0,361.8 608.0,363.3 610.0,364.6 612.0,365.6 614.0,366.4 616.0,367.2 618.0,368.3 620.0,369.4 622.0,370.4 624.0,371.0 626.0,371.5 628.0,371.7 630.0,371.7 632.0,371.9 634.0,372.1 636.0,372.4 638.0,372.5 640.0,372.7 642.0,373.1 644.0,373.9 645.0,375.0 646.0,376.3 648.0,377.6 650.0,378.0 652.0,377.7 654.0,376.9 656.0,376.3 658.0,376.1 660.0,376.5 662.0,377.4 664.0,378.9 666.0,380.6 668.0,382.3 670.0,383.8 672.0,384.9 674.0,385.2 676.0,384.9 678.0,384.6 680.0,384.9 682.0,385.8 684.0,387.0 686.0,388.2 688.0,389.1 690.0,389.5 692.0,389.5 694.0,389.6 696.0,390.3 698.0,391.2 700.0,392.2 702.0,392.8 704.0,393.2 706.0,393.5 708.0,393.8 710.0,394.1 712.0,394.5 714.0,395.0 716.0,395.5 718.0,396.0 720.0,396.6 722.0,397.4 724.0,398.3 726.0,399.0 728.0,399.4 730.0,399.5 732.0,399.6 734.0,400.0 736.0,400.9 738.0,402.3 740.0,403.9 742.0,405.4 744.0,406.2 746.0,406.3 748.0,406.1 750.0,406.0 752.0,406.2 754.0,407.0 756.0,408.2 758.0,409.2 760.0,409.8 762.0,409.8 764.0,409.3 766.0,408.7 768.0,408.6 770.0,409.2 772.0,410.3 772.5,411.1"/>
<polyline class="d r" points="123.3,28.5 124.0,29.6 126.0,32.7 128.0,35.8 130.0,39.1 132.0,41.9 134.0,44.8 136.0,47.7 137.0,49.1 138.0,50.0 140.0,51.8 142.0,53.5 144.0,55.1 146.0,56.5 148.0,57.6 150.0,58.6 152.0,59.4 154.0,60.4 156.0,61.8 158.0,63.6 160.0,66.0 162.0,68.5 164.0,70.8 166.0,72.6 168.0,73.9 170.0,74.9 172.0,75.9 174.0,77.0 175.0,77.8 176.0,80.7 178.0,86.3 180.0,92.0 182.0,97.8 183.0,101.1 184.0,105.1 186.0,112.0 188.0,118.6 190.0,125.0 192.0,127.6 194.0,130.0 196.0,132.4 198.0,135.1 200.0,138.3 202.0,140.2 204.0,142.3 206.0,144.4 208.0,146.5 210.0,148.5 212.0,150.0 214.0,151.3 216.0,152.1 218.0,152.5 220.0,152.9 222.0,155.2 224.0,158.0 226.0,161.4 228.0,165.0 230.0,168.6 232.0,172.0 234.0,175.2 236.0,177.9 238.0,180.4 240.0,182.8 242.0,184.2 244.0,185.9 246.0,187.5 248.0,189.2 250.0,190.6 252.0,191.8 253.0,192.2 254.0,192.6 256.0,194.3 258.0,196.2 260.0,198.1 262.0,199.9 264.0,201.8 266.0,203.7 268.0,205.5 270.0,207.1 272.0,208.5 274.0,209.8 276.0,210.8 278.0,211.7 280.0,212.7 282.0,213.9 284.0,215.2 286.0,216.7 288.0,218.2 290.0,219.8 292.0,221.3 294.0,222.7 296.0,224.1 298.0,225.6 300.0,227.0 302.0,228.3 304.0,229.1 306.0,229.8 308.0,230.7 310.0,232.1 312.0,234.3 314.0,237.0 316.0,239.8 318.0,242.3 320.0,244.2 322.0,245.6 324.0,246.9 326.0,248.4 328.0,250.2 330.0,252.2 332.0,254.0 334.0,255.5 336.0,256.5 338.0,257.4 340.0,258.4 342.0,259.9 344.0,261.8 346.0,264.2 348.0,266.7 350.0,268.9 352.0,269.7 354.0,269.7 356.0,269.2 358.0,268.6 360.0,268.5 362.0,269.0 364.0,270.0 366.0,271.3 368.0,272.6 370.0,273.8 372.0,274.8 374.0,275.9 376.0,277.2 378.0,278.5 380.0,279.8 382.0,280.9 384.0,281.6 386.0,282.3 388.0,283.0 390.0,283.8 392.0,284.7 394.0,285.4 395.0,285.4 396.0,284.7 398.0,284.4 400.0,284.5 402.0,285.2 404.0,286.4 406.0,287.6 408.0,288.5 410.0,288.9 412.0,289.1 414.0,289.5 416.0,290.1 418.0,290.9 420.0,291.8 422.0,293.8 424.0,295.7 426.0,297.6 428.0,299.4 430.0,301.4 432.0,303.3 434.0,304.9 436.0,306.3 438.0,307.6 439.0,307.9 440.0,307.9 442.0,308.3 444.0,308.9 446.0,309.6 448.0,310.3 450.0,310.9 452.0,311.1 454.0,311.3 456.0,312.0 458.0,312.9 460.0,314.0 462.0,315.1 464.0,316.0 466.0,316.5 468.0,316.8 470.0,316.8 472.0,317.0 474.0,317.7 475.0,318.4 476.0,319.3 478.0,320.4 480.0,321.1 482.0,321.3 484.0,321.4 486.0,321.5 488.0,321.9 490.0,322.7 492.0,323.6 494.0,324.7 496.0,325.5 498.0,326.1 500.0,326.5 502.0,326.8 504.0,327.0 506.0,327.3 508.0,327.7 510.0,328.3 512.0,329.1 514.0,329.5 516.0,329.6 518.0,329.4 520.0,329.0 522.0,329.0 524.0,329.4 526.0,330.0 528.0,330.7 530.0,331.2 532.0,331.6 534.0,332.2 536.0,333.0 538.0,333.7 540.0,334.4 542.0,334.9 544.0,334.9 546.0,334.9 548.0,335.2 550.0,335.9 552.0,337.0 554.0,338.0 556.0,338.8 558.0,339.3 560.0,339.5 562.0,339.7 564.0,340.1 566.0,340.7 568.0,341.6 570.0,342.8 572.0,344.0 574.0,345.3 576.0,346.5 578.0,347.4 580.0,347.9 582.0,348.2 584.0,348.6 586.0,349.2 588.0,349.9 590.0,350.7 592.0,351.3 592.5,351.3 594.0,367.2 596.0,388.1 597.0,397.6 598.0,396.1 600.0,395.0 602.0,394.8 604.0,395.6 606.0,396.8 608.0,398.3 610.0,399.7 612.0,400.8 614.0,401.5 616.0,402.1 618.0,402.9 620.0,403.7 622.0,404.4 624.0,405.0 626.0,405.4 628.0,405.6 630.0,405.7 632.0,405.8 634.0,405.7 636.0,405.6 638.0,405.4 640.0,405.3 642.0,405.4 644.0,406.0 645.0,406.9 646.0,408.0 648.0,409.0 650.0,409.4 652.0,409.4 654.0,409.2 656.0,409.3 658.0,409.7 660.0,410.3 662.0,410.9 664.0,411.6 666.0,412.3 668.0,413.1 670.0,414.1 672.0,415.0 674.0,415.4 676.0,415.4 678.0,415.4 680.0,415.6 682.0,416.1 684.0,417.0 686.0,418.1 688.0,419.0 690.0,419.4 692.0,419.4 694.0,419.3 696.0,419.6 698.0,420.2 700.0,421.2 702.0,422.3 704.0,423.3 706.0,424.0 708.0,424.6 710.0,425.0 712.0,425.3 714.0,425.4 716.0,425.3 718.0,425.2 720.0,425.4 722.0,425.9 724.0,426.8 726.0,427.6 728.0,428.1 730.0,428.5 732.0,428.7 734.0,429.2 736.0,429.9 738.0,431.0 740.0,432.4 742.0,433.7 744.0,434.8 746.0,435.5 748.0,436.0 750.0,436.3 752.0,436.9 754.0,438.0 756.0,439.4 758.0,440.5 760.0,441.1 762.0,441.0 764.0,440.4 766.0,439.8 768.0,439.7 770.0,440.5 772.0,441.8 772.5,442.9"/>
<polyline class="d r" points="123.3,28.5 124.0,29.7 126.0,33.2 128.0,36.5 130.0,39.9 132.0,42.7 134.0,45.5 136.0,48.4 137.0,50.0 138.0,51.0 140.0,52.9 142.0,54.6 144.0,56.3 146.0,57.8 148.0,58.9 150.0,59.9 152.0,61.0 154.0,62.2 156.0,63.7 158.0,65.7 160.0,68.3 162.0,70.9 164.0,73.4 166.0,75.6 168.0,77.3 170.0,78.7 172.0,80.0 174.0,81.3 175.0,81.8 176.0,84.4 178.0,89.6 180.0,94.9 182.0,100.3 183.0,103.4 184.0,107.3 186.0,114.4 188.0,121.2 190.0,127.8 192.0,130.1 194.0,132.4 196.0,134.7 198.0,137.2 200.0,139.8 202.0,141.3 204.0,142.9 206.0,144.5 208.0,146.5 210.0,148.4 212.0,150.2 214.0,151.7 216.0,153.0 218.0,154.3 220.0,155.6 222.0,158.8 224.0,162.2 226.0,165.8 228.0,169.3 230.0,172.7 232.0,175.9 234.0,178.9 236.0,181.6 238.0,184.3 240.0,187.3 242.0,189.4 244.0,191.9 246.0,194.2 248.0,196.1 250.0,197.4 252.0,198.4 253.0,198.5 254.0,198.9 256.0,200.7 258.0,203.1 260.0,205.5 262.0,207.5 264.0,209.2 266.0,210.5 268.0,211.5 270.0,212.6 272.0,213.7 274.0,214.8 276.0,215.8 278.0,216.7 280.0,217.5 282.0,218.3 284.0,219.5 286.0,221.1 288.0,222.9 290.0,225.0 292.0,226.9 294.0,228.6 296.0,230.0 298.0,231.2 300.0,232.2 302.0,233.5 304.0,234.5 306.0,235.3 308.0,235.9 310.0,236.6 312.0,238.0 314.0,240.1 316.0,242.6 318.0,245.2 320.0,247.4 322.0,249.2 324.0,250.6 326.0,252.0 328.0,253.6 330.0,255.5 332.0,257.4 334.0,259.1 336.0,260.6 338.0,262.1 340.0,263.5 342.0,265.1 344.0,267.1 346.0,269.4 348.0,271.6 350.0,273.8 352.0,274.5 354.0,274.8 356.0,274.9 358.0,274.7 360.0,274.8 362.0,275.2 364.0,275.8 366.0,276.7 368.0,277.9 370.0,279.3 372.0,280.7 374.0,281.9 376.0,282.9 378.0,283.9 380.0,284.6 382.0,285.2 384.0,285.7 386.0,286.1 388.0,286.3 390.0,286.5 392.0,286.7 394.0,287.0 395.0,286.9 396.0,286.7 398.0,286.9 400.0,287.5 402.0,288.5 404.0,289.8 406.0,291.0 408.0,291.9 410.0,292.4 412.0,292.6 414.0,292.7 416.0,292.8 418.0,293.0 420.0,293.4 422.0,295.2 424.0,297.3 426.0,299.7 428.0,302.3 430.0,304.8 432.0,306.8 434.0,308.4 436.0,309.6 438.0,310.7 439.0,311.1 440.0,311.5 442.0,312.5 444.0,313.8 446.0,315.0 448.0,316.0 450.0,316.6 452.0,316.9 454.0,317.1 456.0,317.5 458.0,318.3 460.0,319.4 462.0,320.5 464.0,321.6 466.0,322.4 468.0,323.1 470.0,323.6 472.0,324.1 474.0,324.6 475.0,325.1 476.0,325.8 478.0,327.1 480.0,328.2 482.0,329.0 484.0,329.6 486.0,330.2 488.0,330.8 490.0,331.8 492.0,333.2 494.0,334.5 496.0,335.6 498.0,336.2 500.0,336.5 502.0,336.7 504.0,336.9 506.0,337.3 508.0,338.1 510.0,339.5 512.0,341.1 514.0,342.4 516.0,342.7 518.0,342.5 520.0,341.9 522.0,341.5 524.0,341.3 526.0,341.1 528.0,341.0 530.0,340.8 532.0,340.7 534.0,341.0 536.0,341.6 538.0,342.1 540.0,342.5 542.0,342.5 544.0,342.0 546.0,341.6 548.0,341.6 550.0,342.0 552.0,343.2 554.0,344.5 556.0,345.8 558.0,346.8 560.0,347.5 562.0,348.0 564.0,348.6 566.0,349.3 568.0,350.4 570.0,351.7 572.0,352.9 574.0,354.0 576.0,354.8 578.0,355.3 580.0,355.3 582.0,355.1 584.0,355.1 586.0,355.4 588.0,356.1 590.0,357.0 592.0,358.0 592.5,358.4 594.0,374.4 596.0,395.1 597.0,404.5 598.0,403.0 600.0,402.0 602.0,402.0 604.0,402.9 606.0,404.3 608.0,405.8 610.0,407.3 612.0,408.4 614.0,409.1 616.0,409.7 618.0,410.4 620.0,411.0 622.0,411.6 624.0,412.0 626.0,412.4 628.0,412.7 630.0,412.9 632.0,413.2 634.0,413.4 636.0,413.6 638.0,413.8 640.0,414.0 642.0,414.5 644.0,415.5 645.0,416.7 646.0,417.8 648.0,418.5 650.0,418.6 652.0,418.3 654.0,417.9 656.0,417.6 658.0,417.6 660.0,417.6 662.0,417.9 664.0,418.3 666.0,418.9 668.0,419.9 670.0,421.0 672.0,422.0 674.0,422.6 676.0,422.9 678.0,423.1 680.0,423.7 682.0,424.6 684.0,425.7 686.0,426.8 688.0,427.7 690.0,427.9 692.0,427.8 694.0,427.7 696.0,428.0 698.0,428.8 700.0,429.8 702.0,430.7 704.0,431.3 706.0,431.5 708.0,431.5 710.0,431.8 712.0,432.4 714.0,433.0 716.0,433.5 718.0,433.7 720.0,433.7 722.0,433.7 724.0,434.0 726.0,434.4 728.0,434.8 730.0,435.2 732.0,435.6 734.0,436.3 736.0,437.1 738.0,438.2 740.0,439.4 742.0,440.5 744.0,441.3 746.0,441.8 748.0,442.1 750.0,442.4 752.0,443.0 754.0,443.9 756.0,445.1 758.0,446.2 760.0,447.1 762.0,447.6 764.0,447.5 766.0,447.2 768.0,447.2 770.0,447.7 772.0,448.6 772.5,449.3"/>
<polyline class="d r" points="123.3,28.5 124.0,29.9 126.0,33.7 128.0,37.5 130.0,41.2 132.0,44.2 134.0,47.3 136.0,50.4 137.0,52.1 138.0,52.9 140.0,54.5 142.0,55.9 144.0,57.4 146.0,58.9 148.0,60.4 150.0,61.8 152.0,63.5 154.0,65.0 156.0,66.5 158.0,68.1 160.0,70.2 162.0,72.6 164.0,75.1 166.0,77.5 168.0,79.8 170.0,81.1 172.0,82.5 174.0,84.0 175.0,84.8 176.0,87.8 178.0,93.4 180.0,99.0 182.0,104.6 183.0,107.5 184.0,111.2 186.0,118.0 188.0,124.8 190.0,131.7 192.0,133.9 194.0,136.1 196.0,138.3 198.0,140.3 200.0,142.3 202.0,143.5 204.0,144.7 206.0,146.2 208.0,148.0 210.0,149.8 212.0,151.5 214.0,153.0 216.0,154.3 218.0,155.6 220.0,157.1 222.0,160.9 224.0,165.1 226.0,169.2 228.0,173.1 230.0,176.7 232.0,180.0 234.0,183.2 236.0,186.2 238.0,189.2 240.0,192.5 242.0,194.3 244.0,196.4 246.0,198.3 248.0,200.1 250.0,201.4 252.0,202.2 253.0,202.0 254.0,202.0 256.0,203.5 258.0,205.7 260.0,208.1 262.0,210.4 264.0,212.4 266.0,214.0 268.0,215.4 270.0,216.7 272.0,218.0 274.0,219.2 276.0,220.2 278.0,220.9 280.0,221.6 282.0,222.6 284.0,224.1 286.0,226.0 288.0,228.1 290.0,230.2 292.0,231.9 294.0,233.4 296.0,234.7 298.0,235.9 300.0,237.1 302.0,238.5 304.0,239.4 306.0,239.8 308.0,240.2 310.0,240.9 312.0,242.4 314.0,244.8 316.0,247.6 318.0,250.1 320.0,252.1 322.0,253.5 324.0,254.8 326.0,256.3 328.0,258.3 330.0,260.5 332.0,262.5 334.0,264.0 336.0,265.2 338.0,266.4 340.0,267.6 342.0,269.0 344.0,270.7 346.0,272.6 348.0,274.5 350.0,276.3 352.0,276.9 354.0,276.9 356.0,276.6 358.0,276.2 360.0,276.1 362.0,276.5 364.0,277.4 366.0,278.6 368.0,280.0 370.0,281.4 372.0,282.8 374.0,284.0 376.0,285.2 378.0,286.5 380.0,287.6 382.0,288.4 384.0,288.8 386.0,288.9 388.0,288.9 390.0,288.8 392.0,288.7 394.0,288.8 395.0,288.6 396.0,288.5 398.0,289.2 400.0,290.3 402.0,291.9 404.0,293.7 406.0,295.0 408.0,295.7 410.0,295.9 412.0,295.8 414.0,295.9 416.0,296.3 418.0,296.8 420.0,297.5 422.0,299.4 424.0,301.3 426.0,303.5 428.0,306.0 430.0,308.5 432.0,310.6 434.0,312.0 436.0,312.9 438.0,313.7 439.0,313.8 440.0,314.0 442.0,314.9 444.0,316.3 446.0,317.7 448.0,318.8 450.0,319.5 452.0,319.8 454.0,320.0 456.0,320.3 458.0,320.8 460.0,321.4 462.0,322.1 464.0,323.0 466.0,323.9 468.0,324.9 470.0,326.0 472.0,327.1 474.0,328.0 475.0,328.5 476.0,329.1 478.0,330.1 480.0,331.0 482.0,331.7 484.0,332.4 486.0,333.1 488.0,334.0 490.0,335.2 492.0,336.7 494.0,338.4 496.0,339.9 498.0,341.0 500.0,341.9 502.0,342.6 504.0,343.4 506.0,344.3 508.0,345.5 510.0,347.1 512.0,348.5 514.0,349.2 516.0,348.7 518.0,347.7 520.0,346.8 522.0,346.2 524.0,346.0 526.0,346.0 528.0,346.1 530.0,346.1 532.0,346.1 534.0,346.6 536.0,347.4 538.0,348.1 540.0,348.6 542.0,348.8 544.0,348.9 546.0,349.0 548.0,349.5 550.0,350.3 552.0,351.3 554.0,352.1 556.0,352.7 558.0,353.2 560.0,353.7 562.0,354.1 564.0,354.6 566.0,355.4 568.0,356.5 570.0,357.7 572.0,358.7 574.0,359.5 576.0,359.8 578.0,359.8 580.0,359.4 582.0,359.0 584.0,358.8 586.0,359.2 588.0,360.1 590.0,361.5 592.0,363.0 592.5,363.9 594.0,379.2 596.0,398.7 597.0,407.2 598.0,405.5 600.0,404.3 602.0,404.1 604.0,404.8 606.0,406.2 608.0,407.7 610.0,409.3 612.0,410.5 614.0,411.4 616.0,412.1 618.0,412.8 620.0,413.4 622.0,413.9 624.0,414.3 626.0,414.8 628.0,415.2 630.0,415.5 632.0,415.6 634.0,415.6 636.0,415.5 638.0,415.5 640.0,415.7 642.0,416.3 644.0,417.3 645.0,418.3 646.0,419.4 648.0,420.3 650.0,420.5 652.0,420.3 654.0,419.9 656.0,419.8 658.0,419.9 660.0,420.1 662.0,420.5 664.0,421.2 666.0,421.9 668.0,422.8 670.0,423.9 672.0,424.7 674.0,424.8 676.0,424.3 678.0,423.8 680.0,423.9 682.0,424.8 684.0,426.3 686.0,428.0 688.0,429.2 690.0,429.7 692.0,429.5 694.0,429.1 696.0,429.2 698.0,429.7 700.0,430.6 702.0,431.5 704.0,432.2 706.0,432.9 708.0,433.4 710.0,434.0 712.0,434.6 714.0,435.1 716.0,435.4 718.0,435.6 720.0,435.8 722.0,436.3 724.0,437.0 726.0,437.8 728.0,438.5 730.0,438.9 732.0,439.3 734.0,439.9 736.0,440.8 738.0,441.8 740.0,443.0 742.0,443.9 744.0,444.4 746.0,444.5 748.0,444.5 750.0,444.5 752.0,444.9 754.0,445.6 756.0,446.5 758.0,447.3 760.0,447.8 762.0,448.4 764.0,449.0 766.0,449.7 768.0,450.5 770.0,451.4 772.0,452.3 772.5,452.5"/>
<polyline class="d r" points="123.3,28.5 124.0,29.9 126.0,33.9 128.0,38.0 130.0,42.2 132.0,45.7 134.0,49.2 136.0,52.7 137.0,54.4 138.0,55.2 140.0,56.9 142.0,58.6 144.0,60.5 146.0,62.3 148.0,63.9 150.0,65.1 152.0,66.5 154.0,67.7 156.0,69.3 158.0,71.5 160.0,74.3 162.0,76.7 164.0,79.0 166.0,80.9 168.0,82.3 170.0,83.2 172.0,84.1 174.0,85.1 175.0,85.7 176.0,88.5 178.0,94.3 180.0,100.0 182.0,105.9 183.0,109.2 184.0,113.3 186.0,120.6 188.0,127.5 190.0,134.1 192.0,136.0 194.0,137.9 196.0,140.1 198.0,142.6 200.0,145.1 202.0,146.7 204.0,148.2 206.0,149.6 208.0,151.2 210.0,152.7 212.0,154.1 214.0,155.3 216.0,156.3 218.0,157.2 220.0,158.1 222.0,161.9 224.0,166.2 226.0,170.9 228.0,175.4 230.0,179.5 232.0,183.2 234.0,186.5 236.0,189.3 238.0,192.1 240.0,195.2 242.0,196.6 244.0,198.4 246.0,200.3 248.0,201.9 250.0,203.1 252.0,203.8 253.0,203.6 254.0,203.8 256.0,205.5 258.0,207.9 260.0,210.4 262.0,212.9 264.0,215.0 266.0,216.9 268.0,218.3 270.0,219.7 272.0,221.0 274.0,222.3 276.0,223.3 278.0,224.0 280.0,224.7 282.0,225.5 284.0,226.7 286.0,228.0 288.0,229.5 290.0,231.1 292.0,232.8 294.0,234.4 296.0,236.1 298.0,237.8 300.0,239.5 302.0,241.1 304.0,242.4 306.0,243.3 308.0,244.0 310.0,244.9 312.0,246.3 314.0,248.3 316.0,250.7 318.0,252.9 320.0,254.7 322.0,256.0 324.0,256.9 326.0,257.9 328.0,259.3 330.0,261.0 332.0,262.7 334.0,264.3 336.0,265.6 338.0,266.8 340.0,267.9 342.0,269.0 344.0,270.6 346.0,272.6 348.0,274.7 350.0,276.8 352.0,277.7 354.0,278.1 356.0,278.1 358.0,278.1 360.0,278.4 362.0,279.0 364.0,279.9 366.0,281.0 368.0,282.2 370.0,283.6 372.0,284.8 374.0,286.0 376.0,287.1 378.0,288.3 380.0,289.3 382.0,290.0 384.0,290.4 386.0,290.6 388.0,290.7 390.0,290.8 392.0,291.1 394.0,291.8 395.0,292.1 396.0,292.3 398.0,292.9 400.0,293.8 402.0,295.0 404.0,296.3 406.0,297.2 408.0,297.7 410.0,297.9 412.0,297.8 414.0,297.8 416.0,298.3 418.0,298.9 420.0,299.8 422.0,302.0 424.0,304.3 426.0,306.8 428.0,309.3 430.0,311.9 432.0,314.1 434.0,316.1 436.0,317.5 438.0,318.8 439.0,319.1 440.0,318.7 442.0,319.1 444.0,319.7 446.0,320.5 448.0,321.1 450.0,321.4 452.0,321.5 454.0,321.4 456.0,321.6 458.0,322.2 460.0,323.4 462.0,324.8 464.0,326.1 466.0,327.2 468.0,327.9 470.0,328.3 472.0,328.7 474.0,329.4 475.0,330.0 476.0,331.0 478.0,332.4 480.0,333.5 482.0,334.1 484.0,334.6 486.0,335.2 488.0,336.1 490.0,337.5 492.0,339.2 494.0,340.9 496.0,342.4 498.0,343.6 500.0,344.5 502.0,345.2 504.0,345.7 506.0,346.1 508.0,347.0 510.0,348.5 512.0,350.4 514.0,352.0 516.0,352.5 518.0,352.4 520.0,351.9 522.0,351.3 524.0,351.2 526.0,351.5 528.0,351.9 530.0,352.1 532.0,352.1 534.0,352.3 536.0,352.5 538.0,352.7 540.0,352.9 542.0,353.1 544.0,353.2 546.0,353.6 548.0,354.4 550.0,355.7 552.0,356.9 554.0,357.8 556.0,358.2 558.0,358.3 560.0,358.2 562.0,358.0 564.0,358.2 566.0,358.7 568.0,359.7 570.0,360.9 572.0,361.9 574.0,362.7 576.0,363.2 578.0,363.4 580.0,363.3 582.0,363.2 584.0,363.4 586.0,364.0 588.0,364.8 590.0,365.6 592.0,366.4 592.5,366.7 594.0,381.3 596.0,400.3 597.0,409.1 598.0,407.9 600.0,407.2 602.0,407.3 604.0,408.1 606.0,409.4 608.0,410.8 610.0,412.0 612.0,412.8 614.0,413.3 616.0,413.7 618.0,414.2 620.0,414.9 622.0,415.6 624.0,416.1 626.0,416.5 628.0,416.7 630.0,416.9 632.0,417.1 634.0,417.4 636.0,417.7 638.0,417.9 640.0,418.1 642.0,418.5 644.0,419.5 645.0,420.6 646.0,421.9 648.0,422.9 650.0,423.0 652.0,422.4 654.0,421.7 656.0,421.6 658.0,422.0 660.0,422.8 662.0,423.9 664.0,425.1 666.0,426.1 668.0,426.9 670.0,427.7 672.0,428.2 674.0,428.4 676.0,428.3 678.0,428.5 680.0,429.0 682.0,429.9 684.0,430.9 686.0,432.0 688.0,432.8 690.0,433.2 692.0,433.3 694.0,433.3 696.0,433.6 698.0,434.1 700.0,434.7 702.0,435.3 704.0,435.7 706.0,436.1 708.0,436.6 710.0,437.3 712.0,437.9 714.0,438.3 716.0,438.3 718.0,438.2 720.0,438.1 722.0,438.3 724.0,438.9 726.0,439.8 728.0,440.7 730.0,441.5 732.0,442.2 734.0,442.9 736.0,443.3 738.0,443.7 740.0,444.3 742.0,444.8 744.0,445.4 746.0,445.8 748.0,446.1 750.0,446.2 752.0,446.5 754.0,447.2 756.0,448.3 758.0,449.7 760.0,450.8 762.0,451.6 764.0,451.9 766.0,451.8 768.0,451.9 770.0,452.5 772.0,453.5 772.5,454.1"/>
<polyline class="d r" points="123.3,28.5 124.0,30.0 126.0,34.2 128.0,38.3 130.0,42.5 132.0,46.8 134.0,51.2 136.0,55.7 137.0,58.1 138.0,59.7 140.0,62.8 142.0,65.8 144.0,68.9 146.0,72.0 148.0,75.0 150.0,77.9 152.0,79.9 154.0,81.7 156.0,83.5 158.0,85.4 160.0,88.0 162.0,90.9 164.0,94.1 166.0,97.1 168.0,99.8 170.0,102.7 172.0,105.5 174.0,108.3 175.0,109.7 176.0,112.5 178.0,117.9 180.0,123.3 182.0,128.6 183.0,131.4 184.0,133.6 186.0,137.7 188.0,141.7 190.0,145.7 192.0,148.8 194.0,151.9 196.0,155.1 198.0,158.3 200.0,161.6 202.0,162.6 204.0,163.5 206.0,164.3 208.0,165.0 210.0,165.5 212.0,165.9 214.0,166.2 216.0,166.6 218.0,167.2 220.0,168.1 222.0,171.8 224.0,175.6 226.0,179.2 228.0,182.4 230.0,185.3 232.0,188.1 234.0,190.9 236.0,193.7 238.0,196.5 240.0,199.6 242.0,201.4 244.0,203.7 246.0,206.0 248.0,208.2 250.0,210.0 252.0,211.3 253.0,211.6 254.0,212.0 256.0,213.7 258.0,216.1 260.0,218.5 262.0,220.5 264.0,222.2 266.0,223.6 268.0,224.6 270.0,225.4 272.0,226.4 274.0,227.5 276.0,228.5 278.0,229.4 280.0,230.2 282.0,231.3 284.0,232.6 286.0,234.3 288.0,236.2 290.0,238.2 292.0,240.1 294.0,241.7 296.0,243.2 298.0,244.3 300.0,245.2 302.0,246.1 304.0,246.5 306.0,246.6 308.0,246.8 310.0,247.6 312.0,249.2 314.0,251.7 316.0,254.5 318.0,257.3 320.0,259.6 322.0,261.4 324.0,262.8 326.0,263.9 328.0,265.2 330.0,266.8 332.0,268.4 334.0,269.8 336.0,270.8 338.0,271.5 340.0,272.1 342.0,273.0 344.0,274.4 346.0,276.5 348.0,278.8 350.0,281.0 352.0,281.8 354.0,282.0 356.0,281.9 358.0,281.9 360.0,282.4 362.0,283.3 364.0,284.2 366.0,285.0 368.0,285.8 370.0,286.4 372.0,287.0 374.0,288.0 376.0,289.2 378.0,290.5 380.0,291.7 382.0,292.6 384.0,293.2 386.0,293.5 388.0,294.0 390.0,294.6 392.0,295.4 394.0,296.4 395.0,296.7 396.0,296.5 398.0,296.6 400.0,297.1 402.0,298.1 404.0,299.5 406.0,301.0 408.0,302.1 410.0,302.6 412.0,302.6 414.0,302.7 416.0,302.9 418.0,303.3 420.0,303.9 422.0,306.3 424.0,308.8 426.0,311.3 428.0,314.0 430.0,316.8 432.0,319.5 434.0,322.0 436.0,324.2 438.0,326.2 439.0,327.0 440.0,326.7 442.0,326.8 444.0,327.1 446.0,327.4 448.0,327.7 450.0,328.0 452.0,328.0 454.0,328.1 456.0,328.4 458.0,328.9 460.0,329.7 462.0,330.9 464.0,332.0 466.0,332.9 468.0,333.4 470.0,333.6 472.0,333.7 474.0,333.9 475.0,334.1 476.0,334.9 478.0,336.4 480.0,337.6 482.0,338.4 484.0,339.2 486.0,340.0 488.0,340.8 490.0,342.0 492.0,343.6 494.0,345.1 496.0,346.5 498.0,347.7 500.0,348.8 502.0,349.8 504.0,350.8 506.0,352.0 508.0,353.6 510.0,355.5 512.0,357.5 514.0,359.0 516.0,359.1 518.0,358.6 520.0,357.6 522.0,356.9 524.0,356.8 526.0,357.0 528.0,357.3 530.0,357.5 532.0,357.7 534.0,358.2 536.0,359.0 538.0,359.8 540.0,360.4 542.0,360.7 544.0,360.6 546.0,360.4 548.0,360.7 550.0,361.5 552.0,362.7 554.0,363.9 556.0,364.9 558.0,365.5 560.0,365.7 562.0,365.7 564.0,365.8 566.0,366.2 568.0,367.3 570.0,368.9 572.0,370.6 574.0,372.1 576.0,373.0 578.0,373.3 580.0,372.9 582.0,372.4 584.0,372.3 586.0,372.6 588.0,373.1 590.0,373.8 592.0,375.6 592.5,376.2 594.0,387.8 596.0,402.9 597.0,409.7 598.0,408.1 600.0,406.8 602.0,406.2 604.0,406.6 606.0,407.5 608.0,408.9 610.0,410.3 612.0,411.6 614.0,412.5 616.0,413.1 618.0,413.8 620.0,414.4 622.0,415.0 624.0,415.4 626.0,416.0 628.0,416.7 630.0,417.4 632.0,418.0 634.0,418.4 636.0,418.7 638.0,418.8 640.0,419.0 642.0,419.4 644.0,420.2 645.0,421.0 646.0,422.0 648.0,422.8 650.0,422.9 652.0,422.4 654.0,421.8 656.0,421.5 658.0,421.6 660.0,422.0 662.0,422.6 664.0,423.3 666.0,423.7 668.0,424.2 670.0,424.9 672.0,425.8 674.0,426.4 676.0,426.8 678.0,427.3 680.0,427.9 682.0,428.7 684.0,429.5 686.0,430.3 688.0,430.9 690.0,431.1 692.0,431.1 694.0,431.1 696.0,431.6 698.0,432.5 700.0,433.4 702.0,434.1 704.0,434.6 706.0,435.1 708.0,435.7 710.0,436.3 712.0,437.0 714.0,437.6 716.0,437.8 718.0,437.8 720.0,437.8 722.0,438.3 724.0,439.2 726.0,440.2 728.0,440.9 730.0,441.4 732.0,441.7 734.0,442.0 736.0,442.4 738.0,443.0 740.0,444.0 742.0,445.0 744.0,445.8 746.0,446.5 748.0,446.9 750.0,447.3 752.0,447.7 754.0,448.5 756.0,449.8 758.0,451.0 760.0,452.0 762.0,452.5 764.0,452.7 766.0,452.5 768.0,452.5 770.0,452.9 772.0,453.7 772.5,454.2"/>
<polyline class="d r" points="123.3,28.5 124.0,30.1 126.0,34.7 128.0,39.2 130.0,43.7 132.0,48.2 134.0,52.8 136.0,57.4 137.0,59.8 138.0,61.5 140.0,64.6 142.0,67.8 144.0,70.8 146.0,73.8 148.0,76.6 150.0,79.2 152.0,81.0 154.0,82.7 156.0,84.7 158.0,87.0 160.0,89.9 162.0,93.1 164.0,96.2 166.0,98.9 168.0,101.3 170.0,103.9 172.0,106.7 174.0,109.8 175.0,111.7 176.0,114.9 178.0,120.6 180.0,126.1 182.0,131.6 183.0,134.7 184.0,137.2 186.0,141.7 188.0,145.9 190.0,150.0 192.0,152.7 194.0,155.3 196.0,157.9 198.0,160.5 200.0,163.2 202.0,164.2 204.0,165.4 206.0,166.8 208.0,168.5 210.0,170.2 212.0,172.0 214.0,173.7 216.0,175.1 218.0,176.4 220.0,177.5 222.0,180.4 224.0,183.1 226.0,185.8 228.0,188.5 230.0,191.2 232.0,194.1 234.0,197.2 236.0,200.1 238.0,202.8 240.0,205.3 242.0,206.8 244.0,208.7 246.0,210.8 248.0,212.8 250.0,214.7 252.0,216.3 253.0,216.8 254.0,217.2 256.0,218.9 258.0,221.1 260.0,223.2 262.0,224.8 264.0,226.0 266.0,226.9 268.0,227.7 270.0,228.8 272.0,230.1 274.0,231.5 276.0,232.7 278.0,233.4 280.0,234.1 282.0,235.1 284.0,236.6 286.0,238.4 288.0,240.1 290.0,241.8 292.0,243.2 294.0,244.5 296.0,245.7 298.0,246.9 300.0,248.0 302.0,249.2 304.0,249.9 306.0,250.5 308.0,251.2 310.0,252.4 312.0,254.2 314.0,256.5 316.0,258.9 318.0,260.9 320.0,262.5 322.0,263.8 324.0,265.1 326.0,266.4 328.0,268.2 330.0,270.3 332.0,272.3 334.0,273.9 336.0,275.1 338.0,276.2 340.0,277.3 342.0,278.5 344.0,280.1 346.0,281.9 348.0,283.5 350.0,284.9 352.0,285.3 354.0,285.4 356.0,285.5 358.0,285.8 360.0,286.5 362.0,287.4 364.0,288.5 366.0,289.5 368.0,290.5 370.0,291.4 372.0,292.1 374.0,292.8 376.0,293.7 378.0,294.9 380.0,296.3 382.0,297.5 384.0,298.3 386.0,298.7 388.0,298.8 390.0,298.8 392.0,299.1 394.0,299.7 395.0,300.1 396.0,300.5 398.0,301.1 400.0,301.7 402.0,302.5 404.0,303.3 406.0,304.1 408.0,304.8 410.0,305.4 412.0,306.1 414.0,306.8 416.0,307.5 418.0,308.0 420.0,308.4 422.0,310.7 424.0,312.9 426.0,315.4 428.0,318.1 430.0,320.9 432.0,323.5 434.0,325.6 436.0,327.2 438.0,328.7 439.0,329.2 440.0,329.2 442.0,330.1 444.0,331.5 446.0,332.8 448.0,333.7 450.0,334.2 452.0,334.1 454.0,333.8 456.0,333.7 458.0,334.0 460.0,334.7 462.0,335.5 464.0,336.2 466.0,336.8 468.0,337.2 470.0,337.4 472.0,337.7 474.0,338.1 475.0,338.5 476.0,339.3 478.0,340.4 480.0,341.2 482.0,341.7 484.0,342.2 486.0,342.8 488.0,343.8 490.0,345.3 492.0,347.1 494.0,348.9 496.0,350.6 498.0,352.0 500.0,353.1 502.0,353.8 504.0,354.3 506.0,355.2 508.0,356.5 510.0,358.4 512.0,360.4 514.0,361.8 516.0,361.8 518.0,361.1 520.0,360.0 522.0,359.4 524.0,359.5 526.0,360.0 528.0,360.7 530.0,361.1 532.0,361.3 534.0,361.6 536.0,362.3 538.0,363.1 540.0,364.0 542.0,364.7 544.0,365.1 546.0,365.4 548.0,365.8 550.0,366.6 552.0,367.4 554.0,368.2 556.0,368.6 558.0,368.5 560.0,368.3 562.0,368.1 564.0,368.4 566.0,369.2 568.0,370.7 570.0,372.3 572.0,373.6 574.0,374.7 576.0,375.5 578.0,375.9 580.0,375.8 582.0,375.4 584.0,375.2 586.0,375.4 588.0,375.9 590.0,376.7 592.0,380.0 592.5,381.1 594.0,392.4 596.0,407.0 597.0,413.6 598.0,412.3 600.0,411.3 602.0,410.9 604.0,411.2 606.0,412.0 608.0,413.4 610.0,415.0 612.0,416.5 614.0,417.7 616.0,418.5 618.0,419.2 620.0,419.9 622.0,420.6 624.0,421.1 626.0,421.6 628.0,421.9 630.0,421.7 632.0,421.4 634.0,421.2 636.0,421.3 638.0,421.7 640.0,422.3 642.0,423.3 644.0,424.4 645.0,425.3 646.0,426.1 648.0,426.7 650.0,426.7 652.0,426.4 654.0,426.2 656.0,426.3 658.0,426.7 660.0,427.1 662.0,427.8 664.0,428.6 666.0,429.4 668.0,430.5 670.0,431.7 672.0,432.7 674.0,433.0 676.0,433.0 678.0,432.9 680.0,433.3 682.0,434.2 684.0,435.4 686.0,436.6 688.0,437.3 690.0,437.3 692.0,436.8 694.0,436.5 696.0,436.6 698.0,437.2 700.0,438.0 702.0,438.9 704.0,439.5 706.0,440.1 708.0,440.8 710.0,441.7 712.0,442.6 714.0,443.2 716.0,443.6 718.0,443.9 720.0,444.2 722.0,444.6 724.0,445.3 726.0,445.8 728.0,446.0 730.0,446.1 732.0,446.4 734.0,447.1 736.0,448.0 738.0,449.2 740.0,450.4 742.0,451.5 744.0,452.2 746.0,452.7 748.0,453.0 750.0,453.4 752.0,454.0 754.0,455.1 756.0,456.3 758.0,457.2 760.0,457.6 762.0,457.5 764.0,457.1 766.0,456.8 768.0,456.9 770.0,457.6 772.0,458.7 772.5,459.3"/>
<polyline class="d r" points="123.3,28.5 124.0,30.2 126.0,35.2 128.0,40.0 130.0,44.9 132.0,49.5 134.0,54.1 136.0,58.8 137.0,61.1 138.0,62.7 140.0,65.8 142.0,69.0 144.0,72.2 146.0,75.5 148.0,78.5 150.0,81.2 152.0,83.0 154.0,84.6 156.0,86.3 158.0,88.6 160.0,91.4 162.0,94.6 164.0,97.7 166.0,100.4 168.0,102.6 170.0,105.1 172.0,107.5 174.0,110.1 175.0,111.5 176.0,114.4 178.0,120.1 180.0,125.9 182.0,131.6 183.0,134.8 184.0,137.4 186.0,141.9 188.0,146.4 190.0,150.8 192.0,154.0 194.0,156.9 196.0,159.8 198.0,162.8 200.0,166.0 202.0,167.9 204.0,169.7 206.0,171.4 208.0,173.2 210.0,174.8 212.0,176.2 214.0,177.7 216.0,179.1 218.0,180.4 220.0,181.8 222.0,185.1 224.0,188.8 226.0,192.6 228.0,196.0 230.0,199.3 232.0,202.5 234.0,205.5 236.0,208.2 238.0,210.9 240.0,213.9 242.0,215.5 244.0,217.3 246.0,219.2 248.0,221.0 250.0,222.5 252.0,223.6 253.0,223.7 254.0,224.2 256.0,226.0 258.0,228.3 260.0,230.5 262.0,232.5 264.0,234.3 266.0,235.8 268.0,237.0 270.0,238.3 272.0,239.8 274.0,241.4 276.0,242.7 278.0,243.9 280.0,245.0 282.0,246.4 284.0,248.1 286.0,250.0 288.0,252.2 290.0,254.6 292.0,256.8 294.0,258.8 296.0,260.5 298.0,262.1 300.0,263.6 302.0,264.9 304.0,266.0 306.0,267.0 308.0,267.8 310.0,268.8 312.0,270.3 314.0,272.4 316.0,274.8 318.0,276.9 320.0,278.7 322.0,280.2 324.0,281.6 326.0,283.0 328.0,284.9 330.0,287.1 332.0,289.1 334.0,290.7 336.0,292.0 338.0,293.2 340.0,294.3 342.0,295.4 344.0,296.7 346.0,298.2 348.0,300.0 350.0,301.9 352.0,303.1 354.0,303.9 356.0,304.4 358.0,304.7 360.0,305.0 362.0,305.6 364.0,306.4 366.0,307.4 368.0,308.6 370.0,309.9 372.0,311.0 374.0,312.2 376.0,313.5 378.0,315.0 380.0,316.3 382.0,317.2 384.0,317.5 386.0,317.6 388.0,317.5 390.0,317.6 392.0,318.1 394.0,319.0 395.0,319.4 396.0,319.7 398.0,320.6 400.0,321.6 402.0,323.0 404.0,324.7 406.0,326.4 408.0,327.7 410.0,328.6 412.0,329.1 414.0,329.5 416.0,329.9 418.0,330.4 420.0,331.1 422.0,334.1 424.0,337.2 426.0,340.3 428.0,343.2 430.0,346.0 432.0,348.7 434.0,351.2 436.0,353.6 438.0,356.1 439.0,357.3 440.0,357.3 442.0,357.6 444.0,358.2 446.0,358.9 448.0,359.7 450.0,360.3 452.0,360.5 454.0,360.4 456.0,360.5 458.0,360.8 460.0,361.4 462.0,362.3 464.0,363.2 466.0,364.1 468.0,364.8 470.0,365.2 472.0,365.7 474.0,366.3 475.0,366.7 476.0,367.2 478.0,367.6 480.0,367.9 482.0,368.1 484.0,368.3 486.0,368.8 488.0,369.4 490.0,370.2 492.0,371.0 494.0,371.6 496.0,372.0 498.0,372.3 500.0,372.8 502.0,373.2 504.0,373.5 506.0,373.7 508.0,374.0 510.0,374.6 512.0,375.4 514.0,376.0 516.0,376.3 518.0,376.1 520.0,375.5 522.0,375.0 524.0,374.8 526.0,375.0 528.0,375.4 530.0,375.9 532.0,376.4 534.0,377.2 536.0,378.2 538.0,379.2 540.0,380.1 542.0,380.7 544.0,380.8 546.0,381.1 548.0,381.8 550.0,382.9 552.0,383.9 554.0,384.7 556.0,385.2 558.0,385.3 560.0,385.3 562.0,385.2 564.0,385.4 566.0,386.0 568.0,386.9 570.0,387.9 572.0,388.8 574.0,389.5 576.0,389.8 578.0,389.9 580.0,389.7 582.0,389.4 584.0,389.5 586.0,389.9 588.0,390.5 590.0,391.2 592.0,392.1 592.5,392.4 594.0,401.5 596.0,413.3 597.0,418.4 598.0,417.1 600.0,416.3 602.0,416.5 604.0,417.5 606.0,419.1 608.0,420.9 610.0,422.4 612.0,423.5 614.0,424.1 616.0,424.4 618.0,424.7 620.0,425.2 622.0,425.6 624.0,426.0 626.0,426.4 628.0,426.6 630.0,426.7 632.0,426.8 634.0,426.9 636.0,427.1 638.0,427.3 640.0,427.7 642.0,428.4 644.0,429.4 645.0,430.4 646.0,431.3 648.0,432.0 650.0,431.9 652.0,431.5 654.0,431.2 656.0,431.2 658.0,431.6 660.0,432.3 662.0,433.3 664.0,434.6 666.0,436.0 668.0,437.4 670.0,438.9 672.0,440.1 674.0,440.8 676.0,441.0 678.0,441.3 680.0,441.9 682.0,443.0 684.0,444.3 686.0,445.6 688.0,446.8 690.0,447.3 692.0,447.2 694.0,447.1 696.0,447.6 698.0,448.7 700.0,450.0 702.0,451.2 704.0,452.0 706.0,452.4 708.0,452.4 710.0,452.4 712.0,452.3 714.0,452.2 716.0,452.2 718.0,452.4 720.0,453.0 722.0,454.1 724.0,455.4 726.0,456.5 728.0,456.9 730.0,456.7 732.0,456.3 734.0,456.3 736.0,456.9 738.0,458.1 740.0,459.6 742.0,461.1 744.0,462.4 746.0,463.1 748.0,463.4 750.0,463.5 752.0,463.8 754.0,464.3 756.0,465.2 758.0,466.1 760.0,466.7 762.0,467.1 764.0,467.1 766.0,467.1 768.0,467.5 770.0,468.4 772.0,469.6 772.5,470.2"/>
<polyline class="d r" points="123.3,28.5 124.0,30.3 126.0,35.5 128.0,40.6 130.0,45.9 132.0,50.7 134.0,55.8 136.0,60.9 137.0,63.4 138.0,65.0 140.0,68.0 142.0,71.0 144.0,73.9 146.0,76.8 148.0,79.4 150.0,81.9 152.0,83.6 154.0,85.3 156.0,87.2 158.0,89.5 160.0,92.4 162.0,95.6 164.0,98.9 166.0,101.8 168.0,104.3 170.0,106.8 172.0,109.3 174.0,111.9 175.0,113.3 176.0,116.3 178.0,122.1 180.0,128.0 182.0,133.8 183.0,137.0 184.0,139.7 186.0,144.4 188.0,148.9 190.0,153.2 192.0,156.1 194.0,158.6 196.0,161.1 198.0,163.7 200.0,166.7 202.0,168.7 204.0,170.8 206.0,172.8 208.0,174.6 210.0,176.2 212.0,177.6 214.0,179.0 216.0,180.5 218.0,182.1 220.0,184.0 222.0,187.9 224.0,192.1 226.0,196.2 228.0,199.9 230.0,203.1 232.0,206.0 234.0,208.6 236.0,211.2 238.0,214.1 240.0,217.3 242.0,219.3 244.0,221.6 246.0,223.8 248.0,225.6 250.0,226.9 252.0,227.7 253.0,227.7 254.0,228.0 256.0,229.8 258.0,232.2 260.0,234.7 262.0,236.7 264.0,238.3 266.0,239.8 268.0,241.1 270.0,242.4 272.0,243.7 274.0,245.1 276.0,246.4 278.0,247.6 280.0,248.9 282.0,250.5 284.0,252.5 286.0,254.7 288.0,256.8 290.0,258.8 292.0,260.5 294.0,262.0 296.0,263.6 298.0,265.0 300.0,266.3 302.0,267.5 304.0,268.3 306.0,268.8 308.0,269.5 310.0,270.6 312.0,272.5 314.0,274.9 316.0,277.5 318.0,279.9 320.0,282.1 322.0,284.0 324.0,285.7 326.0,287.4 328.0,289.0 330.0,290.7 332.0,292.3 334.0,293.6 336.0,294.7 338.0,295.9 340.0,297.1 342.0,298.5 344.0,300.2 346.0,302.5 348.0,304.9 350.0,307.1 352.0,308.1 354.0,308.3 356.0,308.3 358.0,308.3 360.0,308.6 362.0,309.4 364.0,310.4 366.0,311.5 368.0,312.4 370.0,313.3 372.0,314.3 374.0,315.5 376.0,317.0 378.0,318.8 380.0,320.3 382.0,321.4 384.0,321.8 386.0,321.9 388.0,321.9 390.0,322.0 392.0,322.3 394.0,322.7 395.0,322.5 396.0,322.2 398.0,322.6 400.0,323.5 402.0,325.1 404.0,327.1 406.0,329.2 408.0,330.8 410.0,331.9 412.0,332.6 414.0,333.3 416.0,333.9 418.0,334.5 420.0,335.0 422.0,337.3 424.0,339.7 426.0,342.3 428.0,345.2 430.0,348.3 432.0,351.5 434.0,354.4 436.0,357.1 438.0,359.7 439.0,360.8 440.0,360.9 442.0,361.3 444.0,362.0 446.0,362.6 448.0,363.4 450.0,364.0 452.0,364.2 454.0,364.3 456.0,364.7 458.0,365.4 460.0,366.3 462.0,367.3 464.0,368.0 466.0,368.4 468.0,368.4 470.0,368.5 472.0,368.9 474.0,369.6 475.0,370.3 476.0,371.1 478.0,371.9 480.0,372.4 482.0,372.5 484.0,372.5 486.0,372.4 488.0,372.6 490.0,373.2 492.0,374.2 494.0,375.3 496.0,376.2 498.0,376.6 500.0,376.6 502.0,376.5 504.0,376.4 506.0,376.6 508.0,377.2 510.0,378.2 512.0,379.4 514.0,379.9 516.0,380.4 518.0,380.3 520.0,379.9 522.0,379.8 524.0,380.3 526.0,381.1 528.0,382.2 530.0,383.1 532.0,384.1 534.0,385.3 536.0,386.7 538.0,387.9 540.0,388.9 542.0,389.5 544.0,389.7 546.0,390.0 548.0,390.7 550.0,391.8 552.0,392.6 554.0,393.3 556.0,393.9 558.0,394.3 560.0,394.8 562.0,395.1 564.0,395.6 566.0,396.3 568.0,397.3 570.0,398.5 572.0,399.8 574.0,400.9 576.0,401.7 578.0,402.1 580.0,401.9 582.0,401.6 584.0,401.6 586.0,402.0 588.0,402.6 590.0,403.4 592.0,404.3 592.5,404.8 594.0,413.8 596.0,425.4 597.0,430.2 598.0,428.7 600.0,427.4 602.0,427.0 604.0,427.4 606.0,428.4 608.0,429.5 610.0,430.4 612.0,431.2 614.0,431.8 616.0,432.5 618.0,433.4 620.0,434.2 622.0,434.7 624.0,435.1 626.0,435.4 628.0,435.5 630.0,435.3 632.0,434.9 634.0,434.5 636.0,434.2 638.0,434.1 640.0,434.2 642.0,434.8 644.0,435.8 645.0,436.7 646.0,437.7 648.0,438.4 650.0,438.6 652.0,438.3 654.0,437.9 656.0,437.8 658.0,438.1 660.0,438.5 662.0,439.0 664.0,439.8 666.0,440.9 668.0,442.2 670.0,443.7 672.0,445.0 674.0,445.7 676.0,445.6 678.0,445.3 680.0,445.4 682.0,446.1 684.0,447.3 686.0,448.7 688.0,449.8 690.0,450.3 692.0,450.1 694.0,449.8 696.0,449.9 698.0,450.3 700.0,451.0 702.0,451.8 704.0,452.5 706.0,453.3 708.0,454.0 710.0,454.6 712.0,455.2 714.0,455.5 716.0,455.6 718.0,455.8 720.0,456.2 722.0,456.8 724.0,457.5 726.0,458.1 728.0,458.5 730.0,458.9 732.0,459.5 734.0,460.6 736.0,462.0 738.0,463.4 740.0,464.7 742.0,465.7 744.0,466.2 746.0,466.5 748.0,466.7 750.0,467.0 752.0,467.7 754.0,468.7 756.0,470.0 758.0,471.2 760.0,471.9 762.0,472.2 764.0,472.1 766.0,471.8 768.0,472.0 770.0,472.7 772.0,473.9 772.5,474.7"/>
<polyline class="d r" points="123.3,28.5 124.0,30.4 126.0,35.9 128.0,41.3 130.0,46.7 132.0,51.6 134.0,56.6 136.0,61.8 137.0,64.5 138.0,66.3 140.0,69.6 142.0,72.7 144.0,75.7 146.0,78.6 148.0,81.4 150.0,84.0 152.0,85.8 154.0,87.4 156.0,89.4 158.0,91.9 160.0,95.0 162.0,98.5 164.0,101.8 166.0,104.6 168.0,106.8 170.0,109.0 172.0,111.3 174.0,114.1 175.0,115.7 176.0,118.8 178.0,124.7 180.0,130.4 182.0,135.9 183.0,138.9 184.0,141.3 186.0,145.7 188.0,150.2 190.0,154.6 192.0,158.1 194.0,161.6 196.0,165.0 198.0,168.3 200.0,171.5 202.0,173.0 204.0,174.5 206.0,176.2 208.0,178.4 210.0,180.8 212.0,183.0 214.0,185.0 216.0,186.3 218.0,187.2 220.0,187.9 222.0,190.8 224.0,194.3 226.0,198.3 228.0,202.4 230.0,206.6 232.0,210.5 234.0,214.0 236.0,217.1 238.0,219.9 240.0,222.7 242.0,223.9 244.0,225.6 246.0,227.4 248.0,229.2 250.0,230.9 252.0,232.0 253.0,232.1 254.0,232.2 256.0,233.5 258.0,235.4 260.0,237.4 262.0,239.5 264.0,241.5 266.0,243.3 268.0,244.7 270.0,246.1 272.0,247.5 274.0,249.1 276.0,250.6 278.0,251.9 280.0,253.3 282.0,254.9 284.0,256.6 286.0,258.4 288.0,260.2 290.0,262.0 292.0,263.5 294.0,264.9 296.0,266.3 298.0,267.7 300.0,269.0 302.0,270.3 304.0,271.1 306.0,271.6 308.0,272.3 310.0,273.3 312.0,275.1 314.0,277.7 316.0,280.6 318.0,283.2 320.0,285.5 322.0,287.2 324.0,288.6 326.0,289.9 328.0,291.5 330.0,293.4 332.0,295.1 334.0,296.4 336.0,297.4 338.0,298.2 340.0,299.3 342.0,300.7 344.0,302.8 346.0,305.3 348.0,307.8 350.0,309.8 352.0,310.4 354.0,310.5 356.0,310.3 358.0,310.2 360.0,310.5 362.0,311.3 364.0,312.4 366.0,313.7 368.0,315.0 370.0,316.5 372.0,317.7 374.0,318.8 376.0,319.9 378.0,321.2 380.0,322.5 382.0,323.5 384.0,324.2 386.0,324.5 388.0,324.8 390.0,325.1 392.0,325.7 394.0,326.6 395.0,327.0 396.0,327.3 398.0,327.9 400.0,328.6 402.0,329.8 404.0,331.3 406.0,332.6 408.0,333.5 410.0,334.0 412.0,334.2 414.0,334.6 416.0,335.2 418.0,335.9 420.0,336.9 422.0,339.8 424.0,342.7 426.0,345.7 428.0,348.9 430.0,352.0 432.0,354.8 434.0,357.3 436.0,359.4 438.0,361.6 439.0,362.4 440.0,362.4 442.0,362.9 444.0,363.6 446.0,364.5 448.0,365.7 450.0,366.9 452.0,367.6 454.0,368.1 456.0,368.6 458.0,369.1 460.0,369.6 462.0,370.1 464.0,370.5 466.0,370.8 468.0,371.0 470.0,371.3 472.0,371.7 474.0,372.3 475.0,372.9 476.0,373.8 478.0,374.9 480.0,375.6 482.0,375.8 484.0,375.7 486.0,375.8 488.0,376.4 490.0,377.8 492.0,379.6 494.0,381.6 496.0,383.3 498.0,384.6 500.0,385.6 502.0,386.1 504.0,386.4 506.0,386.6 508.0,387.1 510.0,388.2 512.0,389.6 514.0,390.8 516.0,391.2 518.0,391.2 520.0,390.9 522.0,390.8 524.0,391.2 526.0,391.8 528.0,392.3 530.0,392.5 532.0,392.7 534.0,393.3 536.0,394.4 538.0,395.7 540.0,396.8 542.0,397.6 544.0,397.8 546.0,397.8 548.0,398.0 550.0,398.5 552.0,399.3 554.0,400.3 556.0,401.1 558.0,401.8 560.0,402.3 562.0,402.5 564.0,402.6 566.0,403.1 568.0,404.1 570.0,405.3 572.0,406.4 574.0,407.2 576.0,407.6 578.0,407.5 580.0,407.2 582.0,406.8 584.0,406.9 586.0,407.3 588.0,407.9 590.0,408.7 592.0,409.5 592.5,409.9 594.0,419.1 596.0,431.0 597.0,436.2 598.0,434.9 600.0,433.8 602.0,433.5 604.0,434.2 606.0,435.6 608.0,437.0 610.0,438.3 612.0,439.3 614.0,439.8 616.0,440.2 618.0,440.6 620.0,441.0 622.0,441.2 624.0,441.2 626.0,441.0 628.0,441.0 630.0,440.9 632.0,440.8 634.0,440.5 636.0,440.2 638.0,439.8 640.0,439.6 642.0,439.7 644.0,440.3 645.0,441.1 646.0,442.2 648.0,443.0 650.0,443.3 652.0,443.3 654.0,443.3 656.0,443.4 658.0,443.7 660.0,444.1 662.0,444.5 664.0,445.1 666.0,445.9 668.0,446.8 670.0,447.9 672.0,448.9 674.0,449.4 676.0,449.5 678.0,449.6 680.0,449.8 682.0,450.2 684.0,450.8 686.0,451.7 688.0,452.6 690.0,453.2 692.0,453.5 694.0,453.7 696.0,454.0 698.0,454.4 700.0,454.9 702.0,455.7 704.0,456.5 706.0,457.6 708.0,458.9 710.0,460.3 712.0,461.6 714.0,462.4 716.0,462.8 718.0,463.2 720.0,463.7 722.0,464.6 724.0,465.9 726.0,467.1 728.0,468.0 730.0,468.5 732.0,468.9 734.0,469.4 736.0,470.1 738.0,471.2 740.0,472.7 742.0,474.4 744.0,475.8 746.0,476.7 748.0,477.3 750.0,477.5 752.0,477.7 754.0,478.3 756.0,479.2 758.0,480.4 760.0,481.5 762.0,482.6 764.0,483.5 766.0,484.3 768.0,485.3 770.0,486.6 772.0,488.0 772.5,488.5"/>
<polyline class="d r" points="123.3,28.5 124.0,30.5 126.0,36.3 128.0,42.1 130.0,47.9 132.0,53.0 134.0,58.1 136.0,63.2 137.0,65.6 138.0,67.1 140.0,70.1 142.0,73.1 144.0,76.4 146.0,79.6 148.0,82.6 150.0,85.1 152.0,86.7 154.0,88.2 156.0,90.1 158.0,92.3 160.0,95.2 162.0,98.5 164.0,101.8 166.0,104.8 168.0,107.5 170.0,110.3 172.0,113.1 174.0,115.8 175.0,117.1 176.0,120.1 178.0,126.2 180.0,132.2 182.0,138.2 183.0,141.3 184.0,143.6 186.0,147.9 188.0,152.0 190.0,156.0 192.0,159.3 194.0,162.7 196.0,166.4 198.0,170.1 200.0,173.9 202.0,175.7 204.0,177.4 206.0,179.0 208.0,180.8 210.0,182.8 212.0,184.9 214.0,187.0 216.0,188.7 218.0,190.1 220.0,191.4 222.0,195.0 224.0,198.8 226.0,203.0 228.0,207.0 230.0,210.7 232.0,214.0 234.0,217.0 236.0,219.9 238.0,223.0 240.0,226.4 242.0,228.2 244.0,230.3 246.0,232.1 248.0,233.7 250.0,234.9 252.0,235.7 253.0,235.7 254.0,235.8 256.0,237.1 258.0,238.8 260.0,240.7 262.0,242.4 264.0,244.2 266.0,245.8 268.0,247.2 270.0,248.5 272.0,250.1 274.0,251.8 276.0,253.6 278.0,255.2 280.0,256.6 282.0,257.8 284.0,259.1 286.0,260.6 288.0,262.3 290.0,264.3 292.0,266.3 294.0,268.0 296.0,269.4 298.0,270.5 300.0,271.5 302.0,272.5 304.0,273.3 306.0,274.0 308.0,274.9 310.0,276.3 312.0,278.4 314.0,281.3 316.0,284.3 318.0,287.1 320.0,289.3 322.0,290.9 324.0,292.2 326.0,293.4 328.0,294.9 330.0,296.7 332.0,298.6 334.0,300.4 336.0,302.0 338.0,303.5 340.0,305.1 342.0,306.8 344.0,308.9 346.0,311.3 348.0,313.5 350.0,315.2 352.0,315.5 354.0,315.3 356.0,315.0 358.0,314.9 360.0,315.1 362.0,315.6 364.0,316.2 366.0,317.3 368.0,318.7 370.0,320.4 372.0,322.0 374.0,323.4 376.0,324.3 378.0,325.0 380.0,325.4 382.0,325.9 384.0,326.6 386.0,327.4 388.0,328.1 390.0,328.6 392.0,329.0 394.0,329.4 395.0,329.2 396.0,329.0 398.0,329.6 400.0,330.7 402.0,332.2 404.0,333.9 406.0,335.5 408.0,336.8 410.0,337.7 412.0,338.3 414.0,338.9 416.0,339.6 418.0,340.1 420.0,340.4 422.0,342.6 424.0,345.0 426.0,347.9 428.0,351.1 430.0,354.5 432.0,357.6 434.0,360.3 436.0,362.6 438.0,364.9 439.0,366.0 440.0,366.5 442.0,367.8 444.0,369.2 446.0,370.5 448.0,371.3 450.0,371.7 452.0,371.2 454.0,370.8 456.0,370.8 458.0,371.2 460.0,372.0 462.0,373.1 464.0,374.0 466.0,374.6 468.0,375.0 470.0,375.2 472.0,375.5 474.0,376.0 475.0,376.5 476.0,377.7 478.0,379.4 480.0,380.6 482.0,381.1 484.0,381.2 486.0,381.3 488.0,381.6 490.0,382.6 492.0,384.1 494.0,385.9 496.0,387.5 498.0,388.7 500.0,389.6 502.0,390.2 504.0,390.7 506.0,391.3 508.0,392.4 510.0,394.1 512.0,396.0 514.0,397.4 516.0,397.7 518.0,397.1 520.0,396.1 522.0,395.3 524.0,395.1 526.0,395.4 528.0,395.9 530.0,396.2 532.0,396.3 534.0,396.8 536.0,397.6 538.0,398.6 540.0,399.6 542.0,400.3 544.0,400.7 546.0,400.8 548.0,401.2 550.0,402.1 552.0,403.2 554.0,404.5 556.0,405.5 558.0,406.2 560.0,406.6 562.0,406.8 564.0,407.0 566.0,407.6 568.0,408.6 570.0,409.8 572.0,411.0 574.0,412.1 576.0,412.9 578.0,413.3 580.0,413.4 582.0,413.2 584.0,413.2 586.0,413.4 588.0,413.8 590.0,414.6 592.0,415.4 592.5,415.8 594.0,424.7 596.0,436.1 597.0,440.9 598.0,439.4 600.0,438.2 602.0,437.9 604.0,438.5 606.0,439.7 608.0,440.8 610.0,441.9 612.0,442.7 614.0,443.2 616.0,443.4 618.0,443.6 620.0,443.8 622.0,444.0 624.0,444.2 626.0,444.5 628.0,444.7 630.0,444.7 632.0,444.4 634.0,444.0 636.0,443.7 638.0,443.6 640.0,443.6 642.0,443.7 644.0,444.0 645.0,444.5 646.0,445.6 648.0,446.9 650.0,447.7 652.0,448.1 654.0,448.2 656.0,448.1 658.0,447.9 660.0,447.8 662.0,448.0 664.0,448.9 666.0,450.1 668.0,451.6 670.0,453.2 672.0,454.5 674.0,454.9 676.0,454.7 678.0,454.5 680.0,454.8 682.0,455.9 684.0,457.6 686.0,459.3 688.0,460.5 690.0,460.9 692.0,460.8 694.0,460.9 696.0,461.6 698.0,462.7 700.0,463.9 702.0,465.0 704.0,465.9 706.0,466.5 708.0,466.9 710.0,467.6 712.0,468.3 714.0,468.9 716.0,469.3 718.0,469.8 720.0,470.6 722.0,471.6 724.0,472.6 726.0,473.5 728.0,474.1 730.0,474.4 732.0,474.6 734.0,475.0 736.0,475.7 738.0,476.6 740.0,477.7 742.0,478.7 744.0,479.6 746.0,480.3 748.0,480.9 750.0,481.7 752.0,482.7 754.0,483.9 756.0,485.4 758.0,486.4 760.0,486.9 762.0,487.1 764.0,487.2 766.0,487.5 768.0,488.3 770.0,489.7 772.0,491.2 772.5,492.0"/>
<polyline class="d r" points="123.3,28.5 124.0,30.4 126.0,35.8 128.0,41.1 130.0,46.5 132.0,52.4 134.0,58.5 136.0,64.6 137.0,67.7 138.0,69.6 140.0,73.1 142.0,76.6 144.0,80.0 146.0,83.4 148.0,86.5 150.0,89.5 152.0,91.1 154.0,92.8 156.0,94.8 158.0,97.1 160.0,99.9 162.0,103.7 164.0,107.5 166.0,111.2 168.0,114.5 170.0,117.9 172.0,121.2 174.0,124.3 175.0,125.7 176.0,128.4 178.0,134.2 180.0,140.1 182.0,146.4 183.0,150.0 184.0,152.9 186.0,157.7 188.0,162.2 190.0,166.5 192.0,168.9 194.0,171.1 196.0,173.2 198.0,175.5 200.0,178.0 202.0,180.7 204.0,183.3 206.0,185.9 208.0,188.5 210.0,191.2 212.0,193.9 214.0,196.6 216.0,199.2 218.0,201.6 220.0,203.9 222.0,207.1 224.0,210.6 226.0,214.4 228.0,218.1 230.0,221.6 232.0,224.9 234.0,228.1 236.0,231.2 238.0,234.2 240.0,237.6 242.0,238.5 244.0,239.7 246.0,240.7 248.0,241.4 250.0,241.8 252.0,241.7 253.0,241.3 254.0,241.7 256.0,243.4 258.0,245.6 260.0,247.7 262.0,249.6 264.0,251.6 266.0,253.5 268.0,255.4 270.0,257.2 272.0,259.1 274.0,260.8 276.0,262.3 278.0,263.4 280.0,264.4 282.0,265.4 284.0,266.8 286.0,268.7 288.0,270.9 290.0,273.3 292.0,275.3 294.0,276.9 296.0,278.2 298.0,279.4 300.0,280.7 302.0,282.2 304.0,283.6 306.0,284.7 308.0,285.6 310.0,286.7 312.0,288.5 314.0,290.9 316.0,293.4 318.0,295.9 320.0,298.0 322.0,299.9 324.0,301.7 326.0,303.6 328.0,305.7 330.0,308.1 332.0,310.2 334.0,312.0 336.0,313.4 338.0,314.6 340.0,315.8 342.0,317.2 344.0,319.0 346.0,321.3 348.0,323.6 350.0,325.6 352.0,326.1 354.0,326.1 356.0,326.0 358.0,325.9 360.0,326.1 362.0,326.8 364.0,327.9 366.0,329.5 368.0,331.2 370.0,332.9 372.0,334.4 374.0,335.8 376.0,337.0 378.0,338.4 380.0,339.6 382.0,340.7 384.0,341.2 386.0,341.1 388.0,340.6 390.0,340.2 392.0,340.2 394.0,340.9 395.0,341.5 396.0,342.1 398.0,342.9 400.0,343.9 402.0,345.0 404.0,346.2 406.0,347.0 408.0,347.3 410.0,347.2 412.0,346.8 414.0,346.4 416.0,346.3 418.0,346.3 420.0,346.7 422.0,350.2 424.0,353.7 426.0,357.2 428.0,360.7 430.0,364.0 432.0,367.3 434.0,370.4 436.0,373.3 438.0,376.2 439.0,377.6 440.0,378.0 442.0,379.1 444.0,380.5 446.0,382.0 448.0,383.4 450.0,384.6 452.0,384.1 454.0,383.5 456.0,383.2 458.0,383.1 460.0,382.8 462.0,382.5 464.0,382.1 466.0,381.6 468.0,381.2 470.0,381.1 472.0,381.3 474.0,381.8 475.0,382.4 476.0,383.7 478.0,385.4 480.0,386.7 482.0,387.7 484.0,388.5 486.0,389.3 488.0,390.1 490.0,391.2 492.0,392.7 494.0,394.4 496.0,396.1 498.0,397.6 500.0,399.1 502.0,400.2 504.0,401.2 506.0,402.1 508.0,403.2 510.0,404.8 512.0,406.4 514.0,407.6 516.0,407.4 518.0,406.7 520.0,405.8 522.0,405.4 524.0,405.4 526.0,405.8 528.0,406.1 530.0,406.4 532.0,406.5 534.0,406.7 536.0,407.3 538.0,408.0 540.0,408.6 542.0,408.7 544.0,408.4 546.0,408.2 548.0,408.3 550.0,408.9 552.0,410.0 554.0,411.1 556.0,411.8 558.0,412.0 560.0,411.9 562.0,411.8 564.0,412.1 566.0,413.0 568.0,414.5 570.0,416.2 572.0,417.7 574.0,418.6 576.0,418.9 578.0,418.8 580.0,418.4 582.0,418.2 584.0,418.3 586.0,418.9 588.0,419.7 590.0,420.7 592.0,421.8 592.5,422.5 594.0,430.7 596.0,441.1 597.0,445.2 598.0,443.7 600.0,442.7 602.0,442.7 604.0,443.7 606.0,445.1 608.0,446.2 610.0,446.9 612.0,447.3 614.0,447.5 616.0,447.7 618.0,448.1 620.0,448.7 622.0,449.1 624.0,449.2 626.0,449.0 628.0,448.7 630.0,448.3 632.0,447.8 634.0,447.4 636.0,447.0 638.0,446.7 640.0,446.4 642.0,446.4 644.0,446.7 645.0,447.4 646.0,448.6 648.0,449.9 650.0,450.5 652.0,450.7 654.0,450.6 656.0,450.6 658.0,451.1 660.0,451.8 662.0,453.0 664.0,454.4 666.0,455.7 668.0,456.9 670.0,458.1 672.0,459.0 674.0,459.5 676.0,459.7 678.0,460.0 680.0,460.8 682.0,461.9 684.0,463.2 686.0,464.3 688.0,465.1 690.0,465.4 692.0,465.5 694.0,465.7 696.0,466.4 698.0,467.6 700.0,468.8 702.0,469.8 704.0,470.4 706.0,470.9 708.0,471.6 710.0,472.5 712.0,473.4 714.0,474.2 716.0,474.8 718.0,475.3 720.0,475.9 722.0,476.7 724.0,478.0 726.0,479.1 728.0,479.8 730.0,480.2 732.0,480.6 734.0,481.3 736.0,482.1 738.0,483.3 740.0,484.7 742.0,486.0 744.0,487.2 746.0,488.1 748.0,488.7 750.0,489.1 752.0,489.7 754.0,490.6 756.0,491.9 758.0,493.1 760.0,494.1 762.0,494.6 764.0,494.5 766.0,494.0 768.0,493.9 770.0,494.4 772.0,495.5 772.5,496.2"/>
<polyline class="d r" points="123.3,28.5 124.0,30.5 126.0,36.3 128.0,42.0 130.0,47.7 132.0,54.0 134.0,60.3 136.0,66.7 137.0,70.0 138.0,71.9 140.0,75.5 142.0,79.0 144.0,82.6 146.0,86.0 148.0,89.3 150.0,92.7 152.0,94.7 154.0,96.5 156.0,98.4 158.0,100.5 160.0,103.1 162.0,106.8 164.0,110.6 166.0,114.1 168.0,117.2 170.0,120.3 172.0,123.1 174.0,126.0 175.0,127.3 176.0,130.2 178.0,136.3 180.0,142.5 182.0,148.8 183.0,152.3 184.0,154.8 186.0,159.1 188.0,163.2 190.0,167.2 192.0,169.6 194.0,172.1 196.0,174.8 198.0,177.6 200.0,180.5 202.0,183.2 204.0,185.9 206.0,188.5 208.0,191.4 210.0,194.4 212.0,197.5 214.0,200.4 216.0,203.1 218.0,205.3 220.0,207.4 222.0,210.8 224.0,214.4 226.0,218.2 228.0,222.1 230.0,225.9 232.0,229.4 234.0,232.7 236.0,235.7 238.0,238.6 240.0,241.7 242.0,242.5 244.0,243.8 246.0,244.9 248.0,245.8 250.0,246.4 252.0,246.6 253.0,246.3 254.0,246.8 256.0,248.9 258.0,251.6 260.0,254.5 262.0,257.2 264.0,259.6 266.0,261.7 268.0,263.4 270.0,264.9 272.0,266.3 274.0,267.6 276.0,268.8 278.0,269.8 280.0,270.7 282.0,271.7 284.0,273.2 286.0,274.9 288.0,277.1 290.0,279.5 292.0,281.9 294.0,284.0 296.0,285.9 298.0,287.6 300.0,289.2 302.0,290.6 304.0,291.8 306.0,292.8 308.0,294.0 310.0,295.5 312.0,297.7 314.0,300.6 316.0,303.6 318.0,306.3 320.0,308.6 322.0,310.3 324.0,311.6 326.0,312.9 328.0,314.5 330.0,316.2 332.0,317.8 334.0,319.1 336.0,320.3 338.0,321.8 340.0,323.6 342.0,325.8 344.0,328.3 346.0,331.1 348.0,333.6 350.0,335.8 352.0,336.3 354.0,336.2 356.0,335.7 358.0,335.2 360.0,334.7 362.0,334.6 364.0,335.0 366.0,335.9 368.0,337.2 370.0,338.7 372.0,340.2 374.0,341.5 376.0,342.6 378.0,343.6 380.0,344.5 382.0,345.2 384.0,345.5 386.0,345.7 388.0,345.7 390.0,345.7 392.0,346.0 394.0,346.6 395.0,347.1 396.0,347.5 398.0,348.3 400.0,349.1 402.0,350.0 404.0,350.9 406.0,351.6 408.0,352.1 410.0,352.5 412.0,352.8 414.0,353.2 416.0,353.5 418.0,353.6 420.0,353.8 422.0,357.0 424.0,360.3 426.0,363.9 428.0,367.6 430.0,371.3 432.0,374.7 434.0,377.9 436.0,380.9 438.0,383.9 439.0,385.5 440.0,385.7 442.0,386.3 444.0,387.2 446.0,387.8 448.0,388.1 450.0,388.0 452.0,387.5 454.0,387.0 456.0,387.0 458.0,387.4 460.0,388.1 462.0,388.7 464.0,389.1 466.0,389.1 468.0,389.0 470.0,388.8 472.0,389.1 474.0,389.7 475.0,390.5 476.0,391.7 478.0,393.1 480.0,394.0 482.0,394.5 484.0,395.0 486.0,395.6 488.0,396.6 490.0,398.1 492.0,399.8 494.0,401.4 496.0,402.6 498.0,403.3 500.0,403.8 502.0,404.2 504.0,404.7 506.0,405.5 508.0,406.6 510.0,408.0 512.0,409.4 514.0,410.5 516.0,410.5 518.0,410.2 520.0,409.7 522.0,409.5 524.0,409.7 526.0,410.0 528.0,410.3 530.0,410.5 532.0,410.6 534.0,410.9 536.0,411.3 538.0,411.7 540.0,412.0 542.0,412.1 544.0,412.1 546.0,412.2 548.0,412.6 550.0,413.4 552.0,414.5 554.0,415.5 556.0,416.1 558.0,416.3 560.0,416.4 562.0,416.3 564.0,416.6 566.0,417.3 568.0,418.5 570.0,419.8 572.0,421.0 574.0,421.8 576.0,422.1 578.0,422.1 580.0,421.6 582.0,421.2 584.0,421.4 586.0,422.1 588.0,423.2 590.0,424.3 592.0,425.4 592.5,425.7 594.0,433.8 596.0,444.3 597.0,448.8 598.0,447.3 600.0,446.3 602.0,446.0 604.0,446.5 606.0,447.4 608.0,448.4 610.0,449.4 612.0,450.3 614.0,450.8 616.0,451.1 618.0,451.4 620.0,451.6 622.0,451.6 624.0,451.5 626.0,451.4 628.0,451.4 630.0,451.3 632.0,451.2 634.0,451.1 636.0,451.1 638.0,451.3 640.0,451.7 642.0,452.2 644.0,452.9 645.0,453.5 646.0,454.3 648.0,455.0 650.0,455.2 652.0,455.2 654.0,455.0 656.0,454.9 658.0,455.1 660.0,455.6 662.0,456.5 664.0,457.9 666.0,459.4 668.0,461.1 670.0,462.8 672.0,464.2 674.0,464.9 676.0,465.3 678.0,465.8 680.0,466.5 682.0,467.6 684.0,468.9 686.0,470.1 688.0,470.9 690.0,471.2 692.0,471.2 694.0,471.5 696.0,472.3 698.0,473.5 700.0,474.6 702.0,475.5 704.0,476.0 706.0,476.4 708.0,476.8 710.0,477.5 712.0,478.5 714.0,479.3 716.0,480.0 718.0,480.4 720.0,480.8 722.0,481.5 724.0,482.4 726.0,483.1 728.0,483.6 730.0,483.8 732.0,484.2 734.0,485.1 736.0,486.5 738.0,488.2 740.0,490.1 742.0,491.4 744.0,492.3 746.0,492.8 748.0,493.2 750.0,493.7 752.0,494.5 754.0,495.9 756.0,497.4 758.0,498.6 760.0,499.2 762.0,499.2 764.0,498.7 766.0,498.3 768.0,498.5 770.0,499.6 772.0,501.3 772.5,502.4"/>
<polyline class="d r" points="123.3,28.5 124.0,30.6 126.0,36.7 128.0,42.7 130.0,48.7 132.0,55.3 134.0,62.0 136.0,68.7 137.0,72.1 138.0,73.9 140.0,77.5 142.0,81.2 144.0,85.1 146.0,89.0 148.0,92.6 150.0,95.7 152.0,97.2 154.0,98.3 156.0,99.4 158.0,101.0 160.0,103.6 162.0,107.5 164.0,111.6 166.0,115.4 168.0,118.7 170.0,122.0 172.0,125.1 174.0,128.2 175.0,129.7 176.0,132.8 178.0,138.9 180.0,145.1 182.0,151.3 183.0,154.8 184.0,157.4 186.0,161.7 188.0,165.7 190.0,169.5 192.0,171.9 194.0,174.4 196.0,176.9 198.0,179.6 200.0,182.6 202.0,185.4 204.0,188.2 206.0,191.1 208.0,194.1 210.0,196.9 212.0,199.4 214.0,201.8 216.0,204.2 218.0,206.5 220.0,209.1 222.0,213.1 224.0,217.2 226.0,221.3 228.0,225.0 230.0,228.5 232.0,231.9 234.0,235.1 236.0,238.4 238.0,241.8 240.0,245.4 242.0,246.7 244.0,248.3 246.0,249.8 248.0,251.2 250.0,252.4 252.0,253.2 253.0,253.3 254.0,254.0 256.0,255.7 258.0,257.8 260.0,259.9 262.0,261.8 264.0,263.6 266.0,265.3 268.0,266.8 270.0,268.5 272.0,270.2 274.0,271.9 276.0,273.4 278.0,274.9 280.0,276.4 282.0,278.2 284.0,280.2 286.0,282.4 288.0,284.7 290.0,287.2 292.0,289.4 294.0,291.4 296.0,293.2 298.0,294.7 300.0,296.0 302.0,297.0 304.0,297.5 306.0,297.8 308.0,298.1 310.0,298.9 312.0,300.5 314.0,303.0 316.0,306.0 318.0,309.0 320.0,311.6 322.0,313.5 324.0,315.2 326.0,316.6 328.0,318.2 330.0,320.1 332.0,322.2 334.0,324.1 336.0,325.6 338.0,326.8 340.0,327.8 342.0,328.9 344.0,330.5 346.0,332.8 348.0,335.4 350.0,337.7 352.0,338.3 354.0,338.3 356.0,337.8 358.0,337.4 360.0,337.3 362.0,337.8 364.0,338.6 366.0,339.6 368.0,340.6 370.0,341.8 372.0,342.9 374.0,344.0 376.0,345.1 378.0,346.3 380.0,347.6 382.0,348.7 384.0,349.5 386.0,350.1 388.0,350.3 390.0,350.2 392.0,350.1 394.0,350.1 395.0,350.0 396.0,350.2 398.0,350.9 400.0,351.8 402.0,353.1 404.0,354.4 406.0,355.6 408.0,356.4 410.0,356.7 412.0,356.8 414.0,357.0 416.0,357.5 418.0,358.1 420.0,359.0 422.0,362.4 424.0,365.8 426.0,369.0 428.0,372.2 430.0,375.7 432.0,379.2 434.0,382.5 436.0,385.5 438.0,388.3 439.0,389.5 440.0,389.4 442.0,389.8 444.0,390.5 446.0,391.4 448.0,392.2 450.0,392.8 452.0,392.8 454.0,392.7 456.0,392.8 458.0,392.9 460.0,393.1 462.0,393.4 464.0,393.7 466.0,393.8 468.0,393.9 470.0,393.8 472.0,393.8 474.0,394.0 475.0,394.1 476.0,394.9 478.0,396.1 480.0,397.1 482.0,397.9 484.0,398.4 486.0,399.1 488.0,400.0 490.0,401.3 492.0,402.8 494.0,404.4 496.0,405.8 498.0,406.7 500.0,407.5 502.0,408.0 504.0,408.5 506.0,409.0 508.0,409.9 510.0,411.3 512.0,412.9 514.0,414.1 516.0,414.0 518.0,413.3 520.0,412.1 522.0,411.2 524.0,410.8 526.0,410.8 528.0,411.1 530.0,411.3 532.0,411.4 534.0,411.8 536.0,412.3 538.0,412.8 540.0,413.2 542.0,413.2 544.0,412.9 546.0,412.9 548.0,413.2 550.0,414.0 552.0,415.3 554.0,416.5 556.0,417.3 558.0,417.6 560.0,417.6 562.0,417.6 564.0,417.9 566.0,418.7 568.0,420.1 570.0,421.7 572.0,423.3 574.0,424.5 576.0,425.5 578.0,425.9 580.0,425.9 582.0,425.6 584.0,425.5 586.0,425.7 588.0,426.3 590.0,427.1 592.0,427.9 592.5,428.2 594.0,437.1 596.0,448.5 597.0,453.2 598.0,451.4 600.0,450.1 602.0,449.7 604.0,450.3 606.0,451.5 608.0,453.2 610.0,454.9 612.0,456.3 614.0,457.1 616.0,457.4 618.0,457.5 620.0,457.6 622.0,457.4 624.0,457.3 626.0,457.5 628.0,457.7 630.0,457.9 632.0,458.1 634.0,458.2 636.0,458.2 638.0,458.0 640.0,457.9 642.0,458.2 644.0,459.0 645.0,460.1 646.0,461.4 648.0,462.6 650.0,462.9 652.0,462.8 654.0,462.4 656.0,462.4 658.0,462.8 660.0,463.4 662.0,464.3 664.0,465.4 666.0,466.5 668.0,467.7 670.0,469.0 672.0,469.9 674.0,470.3 676.0,470.2 678.0,470.1 680.0,470.3 682.0,471.1 684.0,472.3 686.0,473.7 688.0,474.9 690.0,475.5 692.0,475.5 694.0,475.3 696.0,475.5 698.0,475.9 700.0,476.4 702.0,477.4 704.0,478.4 706.0,479.5 708.0,480.8 710.0,482.3 712.0,483.8 714.0,484.9 716.0,485.8 718.0,486.5 720.0,487.2 722.0,488.2 724.0,489.3 726.0,490.3 728.0,491.0 730.0,491.4 732.0,491.8 734.0,492.4 736.0,493.3 738.0,494.5 740.0,496.1 742.0,497.6 744.0,499.0 746.0,500.1 748.0,500.9 750.0,501.4 752.0,502.1 754.0,503.2 756.0,504.7 758.0,506.4 760.0,507.7 762.0,508.7 764.0,509.2 766.0,509.5 768.0,510.0 770.0,510.9 772.0,512.1 772.5,512.6"/>
<polyline class="d r" points="123.3,28.5 124.0,30.8 126.0,37.2 128.0,43.6 130.0,50.0 132.0,56.8 134.0,63.8 136.0,70.9 137.0,74.5 138.0,76.3 140.0,80.0 142.0,83.5 144.0,87.0 146.0,90.3 148.0,93.4 150.0,96.4 152.0,98.0 154.0,99.8 156.0,102.1 158.0,104.8 160.0,108.0 162.0,112.0 164.0,115.7 166.0,118.8 168.0,121.5 170.0,124.4 172.0,127.2 174.0,130.2 175.0,131.6 176.0,134.4 178.0,140.3 180.0,146.4 182.0,152.7 183.0,156.4 184.0,159.2 186.0,163.9 188.0,168.2 190.0,172.0 192.0,174.3 194.0,176.5 196.0,178.9 198.0,181.7 200.0,185.0 202.0,188.1 204.0,191.4 206.0,194.8 208.0,198.3 210.0,201.7 212.0,204.9 214.0,207.7 216.0,210.0 218.0,212.0 220.0,213.7 222.0,216.7 224.0,220.2 226.0,224.1 228.0,228.1 230.0,232.0 232.0,235.7 234.0,239.2 236.0,242.3 238.0,245.3 240.0,248.4 242.0,249.5 244.0,251.1 246.0,252.8 248.0,254.6 250.0,256.5 252.0,258.3 253.0,259.0 254.0,259.7 256.0,261.3 258.0,263.0 260.0,264.6 262.0,266.1 264.0,267.7 266.0,269.6 268.0,271.5 270.0,273.4 272.0,275.1 274.0,276.6 276.0,277.7 278.0,278.8 280.0,280.0 282.0,281.7 284.0,283.7 286.0,285.8 288.0,287.9 290.0,289.7 292.0,291.3 294.0,292.9 296.0,294.6 298.0,296.1 300.0,297.5 302.0,298.8 304.0,299.7 306.0,300.4 308.0,301.2 310.0,302.3 312.0,304.2 314.0,306.7 316.0,309.4 318.0,312.1 320.0,314.7 322.0,317.1 324.0,319.3 326.0,321.4 328.0,323.6 330.0,325.7 332.0,327.6 334.0,329.2 336.0,330.6 338.0,332.0 340.0,333.3 342.0,334.8 344.0,336.4 346.0,338.3 348.0,340.2 350.0,341.9 352.0,342.3 354.0,342.3 356.0,342.2 358.0,342.2 360.0,342.4 362.0,342.8 364.0,343.6 366.0,344.4 368.0,345.3 370.0,346.4 372.0,347.6 374.0,348.9 376.0,350.4 378.0,352.1 380.0,353.7 382.0,354.9 384.0,355.6 386.0,355.8 388.0,355.7 390.0,355.6 392.0,355.8 394.0,356.4 395.0,356.8 396.0,357.1 398.0,357.8 400.0,358.6 402.0,359.8 404.0,361.2 406.0,362.3 408.0,362.9 410.0,363.1 412.0,363.1 414.0,363.4 416.0,363.8 418.0,364.4 420.0,365.0 422.0,367.9 424.0,370.7 426.0,373.4 428.0,376.6 430.0,380.3 432.0,383.9 434.0,387.4 436.0,390.5 438.0,393.3 439.0,394.4 440.0,393.9 442.0,394.0 444.0,394.5 446.0,395.3 448.0,395.9 450.0,396.4 452.0,396.5 454.0,396.3 456.0,396.2 458.0,396.5 460.0,397.1 462.0,398.0 464.0,398.9 466.0,399.6 468.0,400.2 470.0,400.5 472.0,400.8 474.0,401.0 475.0,401.1 476.0,401.8 478.0,403.3 480.0,404.7 482.0,406.1 484.0,407.5 486.0,408.9 488.0,410.4 490.0,412.1 492.0,414.0 494.0,415.8 496.0,417.3 498.0,418.5 500.0,419.6 502.0,420.6 504.0,421.7 506.0,422.9 508.0,424.5 510.0,426.4 512.0,428.4 514.0,430.0 516.0,429.2 518.0,428.0 520.0,426.5 522.0,425.4 524.0,424.6 526.0,423.9 528.0,423.0 530.0,422.1 532.0,421.3 534.0,420.9 536.0,421.0 538.0,421.2 540.0,421.2 542.0,420.6 544.0,419.5 546.0,418.2 548.0,417.4 550.0,417.1 552.0,418.7 554.0,420.4 556.0,421.8 558.0,422.9 560.0,423.8 562.0,424.5 564.0,425.4 566.0,426.6 568.0,428.0 570.0,429.6 572.0,431.1 574.0,432.7 576.0,434.1 578.0,435.4 580.0,436.3 582.0,437.1 584.0,437.9 586.0,439.1 588.0,440.6 590.0,442.3 592.0,443.4 592.5,443.8 594.0,450.2 596.0,458.3 597.0,461.4 598.0,459.8 600.0,458.9 602.0,459.1 604.0,460.3 606.0,461.7 608.0,463.1 610.0,464.2 612.0,465.0 614.0,465.4 616.0,465.7 618.0,466.2 620.0,466.7 622.0,467.1 624.0,467.5 626.0,468.0 628.0,468.5 630.0,468.9 632.0,469.2 634.0,469.4 636.0,469.6 638.0,469.6 640.0,469.6 642.0,469.9 644.0,470.6 645.0,471.4 646.0,472.3 648.0,473.1 650.0,473.2 652.0,472.9 654.0,472.4 656.0,472.3 658.0,472.6 660.0,473.2 662.0,474.0 664.0,475.0 666.0,475.9 668.0,476.9 670.0,478.0 672.0,479.1 674.0,479.7 676.0,479.8 678.0,479.9 680.0,480.3 682.0,481.2 684.0,482.3 686.0,483.5 688.0,484.4 690.0,484.6 692.0,484.3 694.0,483.9 696.0,483.8 698.0,484.1 700.0,484.5 702.0,485.3 704.0,486.1 706.0,487.0 708.0,488.1 710.0,489.4 712.0,490.6 714.0,491.5 716.0,492.0 718.0,492.5 720.0,493.1 722.0,494.2 724.0,495.5 726.0,496.8 728.0,497.7 730.0,498.1 732.0,498.3 734.0,498.7 736.0,499.6 738.0,501.0 740.0,502.9 742.0,504.9 744.0,506.4 746.0,507.4 748.0,507.9 750.0,508.0 752.0,508.3 754.0,509.0 756.0,510.1 758.0,511.3 760.0,512.3 762.0,513.0 764.0,513.3 766.0,513.6 768.0,514.5 770.0,515.8 772.0,517.5 772.5,518.3"/>
<polyline class="d r" points="123.3,28.5 124.0,30.8 126.0,37.5 128.0,44.1 130.0,50.7 132.0,57.9 134.0,65.1 136.0,72.4 137.0,76.2 138.0,78.1 140.0,81.7 142.0,85.1 144.0,88.4 146.0,91.7 148.0,94.9 150.0,98.1 152.0,100.0 154.0,101.9 156.0,103.7 158.0,105.7 160.0,108.2 162.0,111.9 164.0,115.7 166.0,119.4 168.0,122.6 170.0,126.1 172.0,129.4 174.0,132.7 175.0,134.4 176.0,137.6 178.0,143.6 180.0,149.4 182.0,155.1 183.0,158.1 184.0,160.5 186.0,165.0 188.0,169.5 190.0,174.0 192.0,177.4 194.0,180.5 196.0,183.6 198.0,186.8 200.0,190.1 202.0,192.8 204.0,195.4 206.0,198.1 208.0,200.8 210.0,203.5 212.0,205.9 214.0,208.2 216.0,210.3 218.0,212.4 220.0,214.7 222.0,218.6 224.0,222.9 226.0,227.5 228.0,231.8 230.0,235.7 232.0,239.1 234.0,242.1 236.0,244.9 238.0,247.9 240.0,251.3 242.0,253.4 244.0,255.9 246.0,258.3 248.0,260.5 250.0,262.1 252.0,263.4 253.0,263.6 254.0,264.0 256.0,265.7 258.0,267.8 260.0,269.8 262.0,271.6 264.0,273.2 266.0,274.9 268.0,276.6 270.0,278.5 272.0,280.5 274.0,282.7 276.0,284.8 278.0,286.6 280.0,288.2 282.0,289.9 284.0,291.8 286.0,293.7 288.0,295.8 290.0,297.7 292.0,299.4 294.0,300.9 296.0,302.3 298.0,303.8 300.0,305.4 302.0,307.0 304.0,308.2 306.0,309.1 308.0,309.9 310.0,310.9 312.0,312.4 314.0,314.7 316.0,317.3 318.0,319.7 320.0,321.8 322.0,323.5 324.0,324.8 326.0,326.2 328.0,327.7 330.0,329.4 332.0,331.0 334.0,332.4 336.0,333.8 338.0,335.1 340.0,336.6 342.0,338.1 344.0,339.8 346.0,341.4 348.0,342.9 350.0,344.4 352.0,344.8 354.0,344.9 356.0,345.0 358.0,345.2 360.0,345.8 362.0,346.5 364.0,347.5 366.0,348.5 368.0,349.6 370.0,350.9 372.0,352.3 374.0,353.9 376.0,355.5 378.0,357.1 380.0,358.4 382.0,359.2 384.0,359.6 386.0,359.7 388.0,359.9 390.0,360.0 392.0,360.4 394.0,361.0 395.0,361.1 396.0,361.1 398.0,361.5 400.0,362.1 402.0,363.0 404.0,364.1 406.0,365.1 408.0,365.7 410.0,366.2 412.0,366.4 414.0,366.8 416.0,367.2 418.0,367.7 420.0,368.3 422.0,371.5 424.0,374.7 426.0,377.8 428.0,381.0 430.0,384.3 432.0,387.5 434.0,390.7 436.0,393.7 438.0,396.6 439.0,397.7 440.0,397.2 442.0,396.8 444.0,396.8 446.0,397.0 448.0,397.2 450.0,397.5 452.0,397.7 454.0,398.0 456.0,398.6 458.0,399.5 460.0,400.7 462.0,401.8 464.0,402.7 466.0,403.3 468.0,403.5 470.0,403.4 472.0,403.4 474.0,403.7 475.0,404.1 476.0,405.3 478.0,407.1 480.0,408.8 482.0,410.2 484.0,411.5 486.0,412.9 488.0,414.7 490.0,416.7 492.0,418.9 494.0,420.8 496.0,422.4 498.0,423.6 500.0,424.7 502.0,425.5 504.0,426.3 506.0,427.1 508.0,428.3 510.0,429.9 512.0,432.0 514.0,433.9 516.0,434.2 518.0,434.1 520.0,433.6 522.0,433.1 524.0,432.7 526.0,432.3 528.0,432.0 530.0,431.5 532.0,431.2 534.0,431.2 536.0,431.3 538.0,431.3 540.0,431.2 542.0,430.9 544.0,430.3 546.0,429.9 548.0,429.9 550.0,430.5 552.0,432.1 554.0,433.5 556.0,434.5 558.0,435.2 560.0,435.5 562.0,435.6 564.0,436.1 566.0,437.0 568.0,438.5 570.0,440.2 572.0,441.9 574.0,443.4 576.0,444.6 578.0,445.3 580.0,445.7 582.0,445.9 584.0,446.3 586.0,446.9 588.0,447.7 590.0,448.7 592.0,449.5 592.5,449.9 594.0,459.0 596.0,470.8 597.0,475.9 598.0,474.7 600.0,473.8 602.0,473.5 604.0,474.1 606.0,475.1 608.0,476.1 610.0,477.1 612.0,477.7 614.0,478.1 616.0,478.1 618.0,478.1 620.0,478.2 622.0,478.2 624.0,478.1 626.0,478.0 628.0,477.7 630.0,477.4 632.0,477.0 634.0,476.5 636.0,476.1 638.0,475.7 640.0,475.4 642.0,475.4 644.0,476.0 645.0,477.2 646.0,478.8 648.0,480.2 650.0,480.7 652.0,480.5 654.0,479.9 656.0,479.5 658.0,479.5 660.0,479.8 662.0,480.4 664.0,481.3 666.0,482.2 668.0,483.2 670.0,484.4 672.0,485.5 674.0,486.0 676.0,485.8 678.0,485.6 680.0,485.6 682.0,486.4 684.0,487.8 686.0,489.5 688.0,490.9 690.0,491.5 692.0,491.2 694.0,490.8 696.0,490.7 698.0,491.3 700.0,492.1 702.0,493.1 704.0,493.8 706.0,494.4 708.0,495.0 710.0,495.8 712.0,496.6 714.0,497.3 716.0,497.8 718.0,498.0 720.0,498.4 722.0,499.0 724.0,499.8 726.0,500.7 728.0,501.4 730.0,502.0 732.0,502.7 734.0,503.7 736.0,504.7 738.0,505.8 740.0,506.9 742.0,508.2 744.0,509.5 746.0,510.6 748.0,511.4 750.0,512.1 752.0,512.7 754.0,513.5 756.0,514.4 758.0,515.4 760.0,516.1 762.0,516.6 764.0,516.9 766.0,517.3 768.0,518.0 770.0,519.1 772.0,520.4 772.5,520.9"/>
<polyline class="d r" points="123.3,28.5 124.0,31.0 126.0,37.9 128.0,44.8 130.0,51.7 132.0,59.1 134.0,66.6 136.0,74.2 137.0,78.1 138.0,80.0 140.0,83.6 142.0,87.1 144.0,90.5 146.0,93.6 148.0,96.7 150.0,99.7 152.0,101.4 154.0,103.0 156.0,104.9 158.0,107.2 160.0,110.1 162.0,114.1 164.0,118.0 166.0,121.5 168.0,124.6 170.0,127.8 172.0,131.2 174.0,134.8 175.0,136.8 176.0,140.2 178.0,146.4 180.0,152.3 182.0,158.1 183.0,161.2 184.0,163.5 186.0,167.8 188.0,172.0 190.0,176.0 192.0,179.2 194.0,182.4 196.0,185.7 198.0,189.2 200.0,193.0 202.0,195.8 204.0,198.4 206.0,200.8 208.0,203.5 210.0,206.2 212.0,208.8 214.0,211.2 216.0,213.5 218.0,215.7 220.0,218.0 222.0,221.8 224.0,225.9 226.0,230.3 228.0,234.3 230.0,238.1 232.0,241.5 234.0,244.8 236.0,247.9 238.0,251.0 240.0,254.4 242.0,256.5 244.0,259.0 246.0,261.4 248.0,263.6 250.0,265.6 252.0,267.2 253.0,267.8 254.0,268.5 256.0,270.7 258.0,273.3 260.0,275.8 262.0,278.0 264.0,280.0 266.0,281.9 268.0,283.5 270.0,285.1 272.0,286.6 274.0,288.2 276.0,289.6 278.0,290.9 280.0,292.2 282.0,293.7 284.0,295.4 286.0,297.3 288.0,299.4 290.0,301.6 292.0,303.8 294.0,306.0 296.0,308.0 298.0,309.9 300.0,311.5 302.0,312.9 304.0,313.7 306.0,314.1 308.0,314.5 310.0,315.1 312.0,316.7 314.0,319.0 316.0,321.8 318.0,324.5 320.0,326.7 322.0,328.4 324.0,329.6 326.0,331.0 328.0,332.7 330.0,334.7 332.0,336.5 334.0,338.0 336.0,339.2 338.0,340.4 340.0,341.6 342.0,343.1 344.0,345.1 346.0,347.3 348.0,349.2 350.0,350.8 352.0,351.0 354.0,350.7 356.0,350.3 358.0,350.2 360.0,350.6 362.0,351.5 364.0,352.6 366.0,353.7 368.0,354.7 370.0,355.8 372.0,356.8 374.0,357.9 376.0,359.1 378.0,360.5 380.0,361.8 382.0,362.8 384.0,363.4 386.0,363.6 388.0,363.7 390.0,363.8 392.0,364.1 394.0,364.7 395.0,364.9 396.0,365.0 398.0,365.3 400.0,365.8 402.0,366.7 404.0,367.8 406.0,368.9 408.0,369.6 410.0,370.0 412.0,370.0 414.0,369.9 416.0,370.0 418.0,370.1 420.0,370.4 422.0,373.5 424.0,377.0 426.0,380.6 428.0,384.6 430.0,388.4 432.0,391.9 434.0,394.9 436.0,397.5 438.0,400.1 439.0,401.1 440.0,401.2 442.0,402.1 444.0,403.4 446.0,404.6 448.0,405.6 450.0,406.3 452.0,406.4 454.0,406.3 456.0,406.4 458.0,406.7 460.0,407.2 462.0,408.2 464.0,409.4 466.0,410.6 468.0,411.8 470.0,412.7 472.0,413.4 474.0,414.0 475.0,414.2 476.0,414.9 478.0,416.2 480.0,417.4 482.0,418.5 484.0,419.6 486.0,421.1 488.0,422.8 490.0,424.7 492.0,426.5 494.0,428.0 496.0,429.0 498.0,429.8 500.0,430.5 502.0,431.5 504.0,432.8 506.0,434.1 508.0,435.7 510.0,437.6 512.0,439.4 514.0,440.8 516.0,440.6 518.0,439.9 520.0,438.9 522.0,438.1 524.0,437.9 526.0,438.0 528.0,438.0 530.0,438.0 532.0,437.8 534.0,437.5 536.0,437.5 538.0,437.6 540.0,437.9 542.0,438.3 544.0,438.4 546.0,438.5 548.0,438.6 550.0,438.8 552.0,439.4 554.0,440.1 556.0,440.7 558.0,441.2 560.0,441.6 562.0,441.7 564.0,441.9 566.0,442.3 568.0,443.4 570.0,444.8 572.0,446.1 574.0,447.2 576.0,448.0 578.0,448.4 580.0,448.5 582.0,448.7 584.0,449.2 586.0,450.0 588.0,450.9 590.0,452.0 592.0,453.1 592.5,453.7 594.0,463.8 596.0,476.6 597.0,482.2 598.0,480.6 600.0,479.2 602.0,478.7 604.0,479.1 606.0,480.1 608.0,481.4 610.0,482.6 612.0,483.6 614.0,484.2 616.0,484.5 618.0,485.0 620.0,485.7 622.0,486.4 624.0,486.8 626.0,487.0 628.0,486.9 630.0,486.4 632.0,485.9 634.0,485.5 636.0,485.6 638.0,485.9 640.0,486.3 642.0,486.8 644.0,487.6 645.0,488.2 646.0,488.9 648.0,489.5 650.0,489.5 652.0,489.2 654.0,489.0 656.0,489.1 658.0,489.6 660.0,490.2 662.0,491.1 664.0,492.0 666.0,493.0 668.0,493.8 670.0,494.5 672.0,494.9 674.0,494.8 676.0,494.4 678.0,494.5 680.0,495.5 682.0,497.1 684.0,499.0 686.0,500.4 688.0,501.2 690.0,501.3 692.0,500.8 694.0,500.4 696.0,500.6 698.0,500.9 700.0,501.2 702.0,501.6 704.0,501.9 706.0,502.2 708.0,502.8 710.0,503.5 712.0,504.3 714.0,504.9 716.0,505.4 718.0,505.7 720.0,506.1 722.0,506.5 724.0,507.1 726.0,507.5 728.0,507.7 730.0,507.9 732.0,508.2 734.0,508.9 736.0,509.8 738.0,510.9 740.0,512.3 742.0,513.7 744.0,514.9 746.0,515.8 748.0,516.3 750.0,516.6 752.0,517.1 754.0,517.7 756.0,518.6 758.0,519.4 760.0,520.0 762.0,520.3 764.0,520.1 766.0,519.8 768.0,520.0 770.0,520.8 772.0,521.9 772.5,522.8"/>
<polyline class="d r" points="123.3,28.5 124.0,31.1 126.0,38.3 128.0,45.5 130.0,52.8 132.0,60.5 134.0,68.3 136.0,76.1 137.0,80.1 138.0,81.9 140.0,85.6 142.0,89.2 144.0,93.0 146.0,96.6 148.0,100.0 150.0,103.1 152.0,104.7 154.0,106.0 156.0,107.6 158.0,109.6 160.0,112.4 162.0,116.3 164.0,120.2 166.0,123.6 168.0,126.5 170.0,129.6 172.0,132.5 174.0,135.7 175.0,137.5 176.0,140.8 178.0,147.2 180.0,153.5 182.0,159.7 183.0,163.1 184.0,165.5 186.0,169.8 188.0,173.9 190.0,178.0 192.0,181.7 194.0,185.3 196.0,188.9 198.0,192.6 200.0,196.4 202.0,198.8 204.0,201.1 206.0,203.5 208.0,206.1 210.0,208.7 212.0,211.3 214.0,213.8 216.0,216.2 218.0,218.6 220.0,221.2 222.0,225.4 224.0,229.9 226.0,234.4 228.0,238.5 230.0,242.1 232.0,245.4 234.0,248.4 236.0,251.5 238.0,254.7 240.0,258.1 242.0,260.6 244.0,263.3 246.0,266.0 248.0,268.7 250.0,271.0 252.0,273.1 253.0,273.6 254.0,274.0 256.0,275.7 258.0,278.0 260.0,280.3 262.0,282.5 264.0,284.6 266.0,286.6 268.0,288.4 270.0,290.2 272.0,292.0 274.0,293.8 276.0,295.3 278.0,296.5 280.0,297.6 282.0,299.1 284.0,301.1 286.0,303.4 288.0,305.9 290.0,308.5 292.0,310.7 294.0,312.6 296.0,314.3 298.0,315.9 300.0,317.3 302.0,318.2 304.0,318.9 306.0,319.3 308.0,319.8 310.0,320.8 312.0,322.6 314.0,325.1 316.0,327.7 318.0,330.0 320.0,332.0 322.0,333.6 324.0,334.9 326.0,336.1 328.0,337.5 330.0,339.0 332.0,340.4 334.0,341.5 336.0,342.5 338.0,343.6 340.0,344.8 342.0,346.1 344.0,347.8 346.0,349.9 348.0,352.0 350.0,354.0 352.0,354.8 354.0,354.9 356.0,354.7 358.0,354.3 360.0,354.3 362.0,354.9 364.0,355.9 366.0,357.1 368.0,358.3 370.0,359.3 372.0,360.1 374.0,361.0 376.0,362.0 378.0,363.4 380.0,364.8 382.0,366.1 384.0,367.1 386.0,367.7 388.0,368.0 390.0,368.3 392.0,368.6 394.0,369.1 395.0,369.2 396.0,369.2 398.0,369.6 400.0,370.2 402.0,371.1 404.0,372.3 406.0,373.5 408.0,374.4 410.0,374.9 412.0,375.2 414.0,375.4 416.0,375.5 418.0,375.5 420.0,375.5 422.0,378.6 424.0,381.9 426.0,385.3 428.0,388.9 430.0,392.7 432.0,396.5 434.0,400.1 436.0,403.3 438.0,406.5 439.0,408.1 440.0,408.2 442.0,408.9 444.0,409.7 446.0,410.4 448.0,410.8 450.0,411.0 452.0,411.1 454.0,411.3 456.0,411.9 458.0,412.8 460.0,413.8 462.0,414.9 464.0,416.0 466.0,416.9 468.0,417.7 470.0,418.2 472.0,418.7 474.0,419.2 475.0,419.3 476.0,420.0 478.0,421.2 480.0,422.2 482.0,423.1 484.0,423.9 486.0,424.7 488.0,425.7 490.0,427.2 492.0,429.1 494.0,430.9 496.0,432.5 498.0,433.8 500.0,434.9 502.0,435.6 504.0,436.4 506.0,437.4 508.0,438.8 510.0,440.6 512.0,442.6 514.0,444.1 516.0,444.3 518.0,443.8 520.0,443.0 522.0,442.3 524.0,442.0 526.0,442.1 528.0,442.4 530.0,442.7 532.0,442.9 534.0,443.2 536.0,443.8 538.0,444.4 540.0,445.0 542.0,445.3 544.0,445.3 546.0,445.4 548.0,445.9 550.0,446.9 552.0,448.1 554.0,449.0 556.0,449.3 558.0,449.0 560.0,448.3 562.0,447.7 564.0,447.5 566.0,447.8 568.0,448.8 570.0,450.2 572.0,451.4 574.0,452.5 576.0,453.3 578.0,453.6 580.0,453.5 582.0,453.2 584.0,453.0 586.0,453.0 588.0,453.3 590.0,453.8 592.0,454.9 592.5,455.5 594.0,466.8 596.0,481.1 597.0,487.2 598.0,485.4 600.0,484.1 602.0,483.8 604.0,484.6 606.0,486.0 608.0,487.8 610.0,489.3 612.0,490.5 614.0,491.3 616.0,491.8 618.0,492.4 620.0,492.9 622.0,493.2 624.0,493.3 626.0,493.5 628.0,493.8 630.0,494.1 632.0,494.6 634.0,495.1 636.0,495.5 638.0,495.8 640.0,495.9 642.0,496.4 644.0,497.3 645.0,498.3 646.0,499.3 648.0,500.2 650.0,500.5 652.0,500.3 654.0,499.9 656.0,499.8 658.0,500.0 660.0,500.3 662.0,500.6 664.0,501.1 666.0,501.4 668.0,501.8 670.0,502.3 672.0,503.0 674.0,503.3 676.0,503.4 678.0,503.5 680.0,503.7 682.0,504.1 684.0,504.6 686.0,505.1 688.0,505.4 690.0,505.4 692.0,505.2 694.0,505.1 696.0,505.6 698.0,506.5 700.0,507.3 702.0,508.0 704.0,508.0 706.0,507.8 708.0,507.6 710.0,507.7 712.0,508.1 714.0,508.6 716.0,509.1 718.0,509.6 720.0,510.1 722.0,510.9 724.0,511.9 726.0,512.8 728.0,513.4 730.0,513.6 732.0,513.7 734.0,514.1 736.0,514.6 738.0,515.6 740.0,517.0 742.0,518.3 744.0,519.4 746.0,520.0 748.0,520.3 750.0,520.4 752.0,520.5 754.0,521.0 756.0,521.8 758.0,522.6 760.0,523.2 762.0,523.5 764.0,523.5 766.0,523.4 768.0,523.5 770.0,524.1 772.0,525.1 772.5,525.8"/>
<polyline class="s r" points="123.3,28.5 126.0,38.8 135.0,51.2 147.5,61.2 161.6,75.0 175.2,84.0 179.0,90.0 183.0,106.0 188.8,126.0 196.6,133.8 206.3,139.6 214.0,153.2 221.8,168.7 229.6,182.3 237.4,196.0 244.0,205.0 252.4,209.5 262.8,211.0 273.2,217.2 281.5,228.0 289.0,237.5 297.0,242.5 304.0,248.0 312.0,257.5 320.0,265.5 339.3,275.5 350.0,279.5 367.0,288.0 384.8,292.3 394.8,295.0 410.0,300.0 425.0,305.0 437.4,325.0 455.0,328.7 480.0,332.5 490.0,340.0 505.0,350.0 520.0,356.0 529.0,357.3 552.4,363.2 572.8,369.0 592.0,372.0 596.5,407.5 618.8,411.3 648.0,417.0 659.4,419.4 675.0,422.3 698.3,429.0 717.7,434.0 737.0,439.8 752.6,442.7 756.5,444.7 762.3,450.9 772.5,450.9"/>
</g>
<g class="ax">
<rect x="98" y="5.6" width="699.5" height="625" fill="none" stroke="#333" stroke-width="1.5"/>
<line x1="123.3" y1="630.5" x2="123.3" y2="645.5"/>
<line x1="253.7" y1="630.5" x2="253.7" y2="645.5"/>
<line x1="384.2" y1="630.5" x2="384.2" y2="645.5"/>
<line x1="514.6" y1="630.5" x2="514.6" y2="645.5"/>
<line x1="645.1" y1="630.5" x2="645.1" y2="645.5"/>
<line x1="775.5" y1="630.5" x2="775.5" y2="645.5"/>
<line x1="86" y1="504.7" x2="98" y2="504.7"/>
<line x1="86" y1="346.0" x2="98" y2="346.0"/>
<line x1="86" y1="187.3" x2="98" y2="187.3"/>
<line x1="86" y1="28.6" x2="98" y2="28.6"/>
</g>
<text x="123.3" y="678" text-anchor="middle">0</text>
<text x="253.7" y="678" text-anchor="middle">2</text>
<text x="384.2" y="678" text-anchor="middle">4</text>
<text x="514.6" y="678" text-anchor="middle">6</text>
<text x="645.1" y="678" text-anchor="middle">8</text>
<path d="M372.6,0 L284.7,0 L284.7,-560 Q252.9,-529.8 201.4,-499.5 Q149.9,-469.2 108.9,-454.1 L108.9,-539.1 Q182.6,-573.7 237.8,-623 Q293,-672.4 315.9,-718.8 L372.6,-718.8 Z" transform="translate(758.49,678.00) scale(0.03060)"/>
<text x="775.50" y="678">0</text>
<text transform="translate(70.6,504.7) rotate(-90)" text-anchor="middle">40</text>
<text transform="translate(70.6,346.0) rotate(-90)" text-anchor="middle">60</text>
<text transform="translate(70.6,187.3) rotate(-90)" text-anchor="middle">80</text>
<path d="M372.6,0 L284.7,0 L284.7,-560 Q252.9,-529.8 201.4,-499.5 Q149.9,-469.2 108.9,-454.1 L108.9,-539.1 Q182.6,-573.7 237.8,-623 Q293,-672.4 315.9,-718.8 L372.6,-718.8 Z" transform="translate(70.6,28.60) rotate(-90) translate(-25.52,0) scale(0.03060)"/>
<text transform="translate(70.6,28.6) rotate(-90)" x="-8.51">00</text>
<text x="447.5" y="715" text-anchor="middle">Years</text>
<text transform="translate(28,313.6) rotate(-90)" text-anchor="middle" style="font-size:31.2px">Survival (%)</text>
<text x="448" y="257.2" style="fill:#00f;font-size:27px">7.3</text>
<text x="565" y="379.4" style="fill:#f00;font-size:27px">6.5</text>
<text x="546.4" y="286.6" style="font-size:23.2px" textLength="235" lengthAdjust="spacingAndGlyphs">Esophagectomy Alone</text>
<text x="645" y="413.6" style="font-size:23.2px" textLength="131.5" lengthAdjust="spacingAndGlyphs">Neoadjuvant</text>
</svg>
</body></html>
